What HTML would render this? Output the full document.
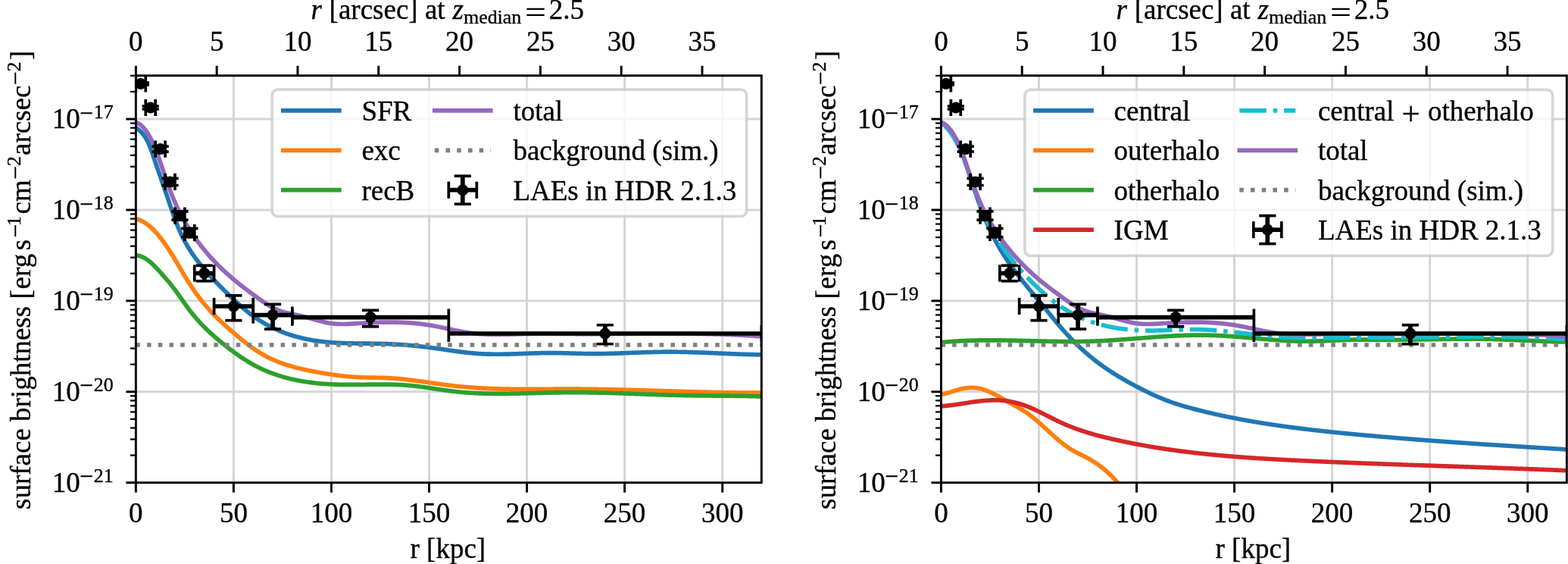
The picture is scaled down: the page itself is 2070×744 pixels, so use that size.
<!DOCTYPE html>
<html><head><meta charset="utf-8"><title>Surface brightness profiles</title><style>html,body{margin:0;padding:0;background:#fff;overflow:hidden}svg{display:block}text{stroke:#000;stroke-width:0.35px;stroke-linejoin:round}</style></head><body>
<svg width="2070" height="744" viewBox="0 0 2070 744" font-family='"Liberation Serif", "DejaVu Serif", serif'>
<rect width="100%" height="100%" fill="#ffffff"/>
<defs>
<clipPath id="clip0"><rect x="179.35" y="99.75" width="825.95" height="536.95"/></clipPath>
<clipPath id="clip1"><rect x="1242.4" y="99.75" width="825.95" height="536.95"/></clipPath>
</defs>
<g><line x1="308.40" y1="99.75" x2="308.40" y2="636.70" stroke="#d5d5d5" stroke-width="2.96" stroke-linecap="butt"/><line x1="437.46" y1="99.75" x2="437.46" y2="636.70" stroke="#d5d5d5" stroke-width="2.96" stroke-linecap="butt"/><line x1="566.51" y1="99.75" x2="566.51" y2="636.70" stroke="#d5d5d5" stroke-width="2.96" stroke-linecap="butt"/><line x1="695.57" y1="99.75" x2="695.57" y2="636.70" stroke="#d5d5d5" stroke-width="2.96" stroke-linecap="butt"/><line x1="824.62" y1="99.75" x2="824.62" y2="636.70" stroke="#d5d5d5" stroke-width="2.96" stroke-linecap="butt"/><line x1="953.68" y1="99.75" x2="953.68" y2="636.70" stroke="#d5d5d5" stroke-width="2.96" stroke-linecap="butt"/><line x1="179.35" y1="516.79" x2="1005.30" y2="516.79" stroke="#d5d5d5" stroke-width="2.96" stroke-linecap="butt"/><line x1="179.35" y1="396.88" x2="1005.30" y2="396.88" stroke="#d5d5d5" stroke-width="2.96" stroke-linecap="butt"/><line x1="179.35" y1="276.96" x2="1005.30" y2="276.96" stroke="#d5d5d5" stroke-width="2.96" stroke-linecap="butt"/><line x1="179.35" y1="157.05" x2="1005.30" y2="157.05" stroke="#d5d5d5" stroke-width="2.96" stroke-linecap="butt"/></g>
<g clip-path="url(#clip0)" fill="none" stroke-width="5.7" stroke-linejoin="round" stroke-linecap="square">
<path d="M180.34,169.27 L181.12,169.77 L181.87,170.29 L182.61,170.84 L183.33,171.40 L184.04,171.98 L184.72,172.58 L185.39,173.20 L186.05,173.84 L186.68,174.50 L187.31,175.17 L187.91,175.86 L188.51,176.56 L189.09,177.29 L189.65,178.02 L190.20,178.77 L190.74,179.54 L191.26,180.32 L191.77,181.11 L192.27,181.91 L192.76,182.73 L193.24,183.56 L193.71,184.40 L194.16,185.25 L194.61,186.11 L195.05,186.99 L195.47,187.87 L195.89,188.76 L196.30,189.66 L196.70,190.56 L197.10,191.48 L197.49,192.40 L197.87,193.33 L198.24,194.26 L198.61,195.20 L198.97,196.15 L199.32,197.10 L199.67,198.05 L200.02,199.01 L200.36,199.98 L200.70,200.94 L201.04,201.91 L201.37,202.88 L201.70,203.85 L202.03,204.82 L202.35,205.79 L202.67,206.76 L203.00,207.73 L203.32,208.70 L203.64,209.67 L203.96,210.64 L204.29,211.61 L204.61,212.57 L204.93,213.53 L205.25,214.49 L205.58,215.45 L205.90,216.40 L206.22,217.36 L206.55,218.31 L206.87,219.26 L207.20,220.21 L207.52,221.16 L207.85,222.10 L208.17,223.05 L208.49,223.99 L208.82,224.93 L209.14,225.87 L209.47,226.82 L209.80,227.75 L210.12,228.69 L210.45,229.63 L210.77,230.57 L211.10,231.50 L211.42,232.44 L211.75,233.37 L212.07,234.31 L212.40,235.24 L212.72,236.17 L213.05,237.11 L213.38,238.04 L213.70,238.97 L214.03,239.91 L214.35,240.84 L214.68,241.77 L215.00,242.70 L215.33,243.63 L215.65,244.57 L215.98,245.50 L216.30,246.43 L216.62,247.37 L216.95,248.30 L217.27,249.23 L217.60,250.17 L217.92,251.10 L218.24,252.04 L218.57,252.98 L218.89,253.91 L219.21,254.85 L219.53,255.79 L219.86,256.73 L220.18,257.67 L220.50,258.62 L220.82,259.56 L221.14,260.51 L221.46,261.45 L221.78,262.40 L222.10,263.35 L222.42,264.30 L222.74,265.25 L223.06,266.20 L223.38,267.15 L223.70,268.11 L224.02,269.06 L224.35,270.01 L224.67,270.97 L224.99,271.92 L225.32,272.88 L225.64,273.83 L225.97,274.79 L226.29,275.74 L226.62,276.70 L226.95,277.65 L227.28,278.61 L227.61,279.56 L227.94,280.52 L228.28,281.47 L228.62,282.43 L228.95,283.38 L229.29,284.33 L229.64,285.29 L229.98,286.24 L230.33,287.19 L230.67,288.14 L231.02,289.08 L231.38,290.03 L231.73,290.98 L232.09,291.92 L232.45,292.87 L232.81,293.81 L233.18,294.75 L233.55,295.69 L233.92,296.63 L234.30,297.56 L234.67,298.50 L235.05,299.43 L235.44,300.36 L235.83,301.29 L236.22,302.21 L236.61,303.14 L237.01,304.06 L237.41,304.98 L237.82,305.90 L238.23,306.81 L238.64,307.72 L239.06,308.63 L239.49,309.54 L239.91,310.44 L240.34,311.34 L240.78,312.24 L241.22,313.14 L241.66,314.03 L242.11,314.92 L242.57,315.80 L243.03,316.69 L243.49,317.57 L243.96,318.44 L244.43,319.31 L244.91,320.18 L245.40,321.05 L245.88,321.91 L246.38,322.77 L246.88,323.63 L247.38,324.48 L247.89,325.33 L248.40,326.17 L248.91,327.02 L249.43,327.86 L249.96,328.69 L250.49,329.53 L251.02,330.36 L251.56,331.19 L252.10,332.01 L252.65,332.84 L253.20,333.66 L253.76,334.47 L254.31,335.29 L254.88,336.10 L255.44,336.91 L256.01,337.71 L256.59,338.52 L257.16,339.32 L257.75,340.12 L258.33,340.91 L258.92,341.70 L259.51,342.50 L260.11,343.28 L260.71,344.07 L261.31,344.85 L261.92,345.63 L262.53,346.41 L263.14,347.19 L263.75,347.96 L264.37,348.74 L265.00,349.51 L265.62,350.27 L266.25,351.04 L266.88,351.80 L267.51,352.56 L268.15,353.32 L268.79,354.08 L269.43,354.84 L270.08,355.59 L270.72,356.34 L271.37,357.09 L272.03,357.84 L272.68,358.59 L273.34,359.33 L274.00,360.07 L274.66,360.82 L275.33,361.56 L275.99,362.29 L276.66,363.03 L277.33,363.76 L278.01,364.50 L278.68,365.23 L279.36,365.96 L280.04,366.69 L280.72,367.42 L281.40,368.14 L282.09,368.87 L282.78,369.59 L283.46,370.31 L284.15,371.03 L284.85,371.75 L285.54,372.47 L286.23,373.19 L286.93,373.91 L287.63,374.62 L288.32,375.34 L289.02,376.05 L289.73,376.76 L290.43,377.47 L291.13,378.18 L291.84,378.89 L292.54,379.60 L293.25,380.31 L293.96,381.02 L294.66,381.73 L295.37,382.43 L296.08,383.14 L296.79,383.84 L297.51,384.54 L298.22,385.25 L298.93,385.95 L299.64,386.65 L300.36,387.35 L301.07,388.06 L301.79,388.75 L302.51,389.45 L303.22,390.15 L303.94,390.85 L304.66,391.54 L305.38,392.24 L306.11,392.93 L306.83,393.62 L307.55,394.31 L308.28,395.00 L309.01,395.69 L309.74,396.37 L310.47,397.05 L311.20,397.73 L311.93,398.41 L312.67,399.09 L313.41,399.77 L314.15,400.44 L314.89,401.11 L315.63,401.78 L316.38,402.44 L317.12,403.11 L317.87,403.77 L318.63,404.42 L319.38,405.08 L320.14,405.73 L320.89,406.38 L321.66,407.03 L322.42,407.67 L323.18,408.31 L323.95,408.95 L324.72,409.58 L325.50,410.21 L326.28,410.84 L327.05,411.46 L327.84,412.09 L328.62,412.70 L329.41,413.31 L330.20,413.92 L331.00,414.53 L331.79,415.13 L332.60,415.73 L333.40,416.32 L334.21,416.91 L335.02,417.49 L335.83,418.07 L336.65,418.65 L337.47,419.22 L338.30,419.79 L339.13,420.35 L339.96,420.91 L340.80,421.46 L341.64,422.01 L342.48,422.55 L343.33,423.09 L344.18,423.62 L345.03,424.15 L345.89,424.68 L346.75,425.19 L347.62,425.71 L348.48,426.22 L349.36,426.72 L350.23,427.22 L351.11,427.71 L351.99,428.20 L352.87,428.69 L353.76,429.17 L354.65,429.64 L355.54,430.11 L356.43,430.57 L357.33,431.03 L358.23,431.49 L359.14,431.93 L360.04,432.38 L360.95,432.82 L361.86,433.25 L362.77,433.68 L363.68,434.10 L364.60,434.52 L365.52,434.93 L366.44,435.34 L367.36,435.74 L368.29,436.14 L369.21,436.53 L370.14,436.92 L371.07,437.30 L372.00,437.67 L372.94,438.04 L373.87,438.41 L374.81,438.77 L375.75,439.12 L376.69,439.47 L377.63,439.81 L378.57,440.15 L379.51,440.49 L380.46,440.81 L381.40,441.13 L382.35,441.45 L383.29,441.76 L384.24,442.07 L385.19,442.37 L386.14,442.66 L387.09,442.95 L388.04,443.24 L389.00,443.51 L389.95,443.79 L390.90,444.06 L391.86,444.32 L392.81,444.58 L393.77,444.83 L394.73,445.08 L395.69,445.32 L396.65,445.56 L397.61,445.79 L398.57,446.02 L399.53,446.25 L400.49,446.47 L401.45,446.68 L402.42,446.89 L403.38,447.09 L404.35,447.30 L405.31,447.49 L406.28,447.68 L407.25,447.87 L408.21,448.06 L409.18,448.23 L410.15,448.41 L411.12,448.58 L412.09,448.75 L413.06,448.91 L414.03,449.07 L415.01,449.22 L415.98,449.37 L416.95,449.52 L417.93,449.66 L418.90,449.80 L419.88,449.93 L420.86,450.06 L421.83,450.19 L422.81,450.32 L423.79,450.44 L424.77,450.55 L425.75,450.67 L426.73,450.78 L427.71,450.88 L428.69,450.99 L429.67,451.09 L430.65,451.18 L431.64,451.28 L432.62,451.37 L433.60,451.45 L434.59,451.54 L435.57,451.62 L436.56,451.70 L437.54,451.77 L438.53,451.84 L439.52,451.91 L440.50,451.98 L441.49,452.04 L442.48,452.10 L443.47,452.16 L444.46,452.22 L445.44,452.27 L446.43,452.33 L447.42,452.38 L448.42,452.42 L449.41,452.47 L450.40,452.51 L451.39,452.55 L452.38,452.59 L453.37,452.63 L454.37,452.66 L455.36,452.70 L456.35,452.73 L457.35,452.76 L458.34,452.79 L459.34,452.81 L460.33,452.84 L461.33,452.86 L462.32,452.89 L463.32,452.91 L464.31,452.93 L465.31,452.95 L466.31,452.97 L467.30,452.98 L468.30,453.00 L469.30,453.02 L470.30,453.03 L471.29,453.04 L472.29,453.06 L473.29,453.07 L474.29,453.08 L475.29,453.09 L476.29,453.10 L477.29,453.11 L478.29,453.12 L479.29,453.13 L480.29,453.14 L481.29,453.15 L482.29,453.16 L483.29,453.17 L484.29,453.18 L485.29,453.19 L486.29,453.20 L487.29,453.21 L488.29,453.22 L489.29,453.23 L490.29,453.24 L491.29,453.26 L492.29,453.27 L493.30,453.28 L494.30,453.29 L495.30,453.31 L496.30,453.32 L497.30,453.34 L498.30,453.36 L499.31,453.37 L500.31,453.39 L501.31,453.41 L502.31,453.43 L503.31,453.46 L504.32,453.48 L505.32,453.51 L506.32,453.53 L507.32,453.56 L508.32,453.59 L509.33,453.62 L510.33,453.66 L511.33,453.69 L512.33,453.73 L513.33,453.77 L514.33,453.81 L515.33,453.85 L516.34,453.89 L517.34,453.94 L518.34,453.99 L519.34,454.04 L520.34,454.09 L521.34,454.14 L522.34,454.20 L523.34,454.25 L524.35,454.31 L525.35,454.37 L526.35,454.43 L527.35,454.50 L528.35,454.56 L529.35,454.63 L530.35,454.70 L531.35,454.77 L532.35,454.84 L533.35,454.92 L534.35,454.99 L535.35,455.07 L536.35,455.15 L537.35,455.23 L538.35,455.32 L539.35,455.40 L540.35,455.49 L541.35,455.57 L542.35,455.66 L543.35,455.76 L544.35,455.85 L545.35,455.94 L546.35,456.04 L547.35,456.14 L548.35,456.24 L549.35,456.34 L550.35,456.44 L551.35,456.54 L552.35,456.65 L553.35,456.76 L554.35,456.87 L555.35,456.98 L556.35,457.09 L557.35,457.20 L558.35,457.32 L559.35,457.43 L560.34,457.55 L561.34,457.67 L562.34,457.79 L563.34,457.91 L564.34,458.04 L565.34,458.16 L566.34,458.29 L567.34,458.42 L568.34,458.55 L569.33,458.68 L570.33,458.81 L571.33,458.95 L572.33,459.08 L573.33,459.22 L574.33,459.36 L575.33,459.50 L576.32,459.64 L577.32,459.78 L578.32,459.92 L579.32,460.07 L580.32,460.21 L581.32,460.35 L582.31,460.50 L583.31,460.64 L584.31,460.79 L585.31,460.94 L586.31,461.08 L587.30,461.23 L588.30,461.37 L589.30,461.52 L590.30,461.67 L591.29,461.81 L592.29,461.96 L593.29,462.10 L594.29,462.25 L595.29,462.39 L596.28,462.53 L597.28,462.68 L598.28,462.82 L599.28,462.96 L600.27,463.10 L601.27,463.24 L602.27,463.38 L603.27,463.51 L604.26,463.65 L605.26,463.78 L606.26,463.92 L607.25,464.05 L608.25,464.18 L609.25,464.30 L610.25,464.43 L611.24,464.55 L612.24,464.67 L613.24,464.79 L614.23,464.91 L615.23,465.03 L616.23,465.14 L617.22,465.25 L618.22,465.36 L619.22,465.46 L620.22,465.57 L621.21,465.67 L622.21,465.76 L623.21,465.86 L624.20,465.95 L625.20,466.04 L626.20,466.12 L627.19,466.21 L628.19,466.28 L629.19,466.36 L630.18,466.43 L631.18,466.50 L632.17,466.57 L633.17,466.63 L634.17,466.69 L635.16,466.74 L636.16,466.79 L637.16,466.84 L638.15,466.89 L639.15,466.93 L640.15,466.97 L641.14,467.01 L642.14,467.05 L643.13,467.08 L644.13,467.11 L645.13,467.13 L646.12,467.16 L647.12,467.18 L648.11,467.20 L649.11,467.22 L650.11,467.23 L651.10,467.24 L652.10,467.25 L653.09,467.26 L654.09,467.27 L655.09,467.27 L656.08,467.27 L657.08,467.27 L658.07,467.27 L659.07,467.26 L660.07,467.26 L661.06,467.25 L662.06,467.24 L663.05,467.23 L664.05,467.22 L665.04,467.20 L666.04,467.19 L667.04,467.17 L668.03,467.15 L669.03,467.13 L670.02,467.11 L671.02,467.09 L672.01,467.06 L673.01,467.04 L674.01,467.01 L675.00,466.99 L676.00,466.96 L676.99,466.93 L677.99,466.90 L678.98,466.87 L679.98,466.84 L680.97,466.81 L681.97,466.78 L682.97,466.74 L683.96,466.71 L684.96,466.68 L685.95,466.64 L686.95,466.61 L687.94,466.57 L688.94,466.54 L689.93,466.50 L690.93,466.47 L691.92,466.43 L692.92,466.40 L693.92,466.36 L694.91,466.33 L695.91,466.29 L696.90,466.26 L697.90,466.22 L698.89,466.19 L699.89,466.15 L700.88,466.12 L701.88,466.09 L702.87,466.05 L703.87,466.02 L704.86,465.99 L705.86,465.96 L706.86,465.93 L707.85,465.90 L708.85,465.87 L709.84,465.85 L710.84,465.82 L711.83,465.79 L712.83,465.77 L713.82,465.75 L714.82,465.72 L715.81,465.70 L716.81,465.68 L717.80,465.67 L718.80,465.65 L719.79,465.63 L720.79,465.62 L721.78,465.61 L722.78,465.60 L723.77,465.59 L724.77,465.58 L725.77,465.58 L726.76,465.57 L727.76,465.57 L728.75,465.57 L729.75,465.57 L730.74,465.58 L731.74,465.58 L732.73,465.59 L733.73,465.60 L734.72,465.61 L735.72,465.62 L736.71,465.64 L737.71,465.65 L738.70,465.67 L739.70,465.69 L740.69,465.71 L741.69,465.73 L742.69,465.75 L743.68,465.78 L744.68,465.80 L745.67,465.82 L746.67,465.85 L747.66,465.88 L748.66,465.90 L749.65,465.93 L750.65,465.96 L751.64,465.99 L752.64,466.01 L753.63,466.04 L754.63,466.07 L755.62,466.10 L756.62,466.13 L757.62,466.16 L758.61,466.19 L759.61,466.22 L760.60,466.25 L761.60,466.27 L762.59,466.30 L763.59,466.33 L764.58,466.35 L765.58,466.38 L766.57,466.41 L767.57,466.43 L768.57,466.45 L769.56,466.48 L770.56,466.50 L771.55,466.52 L772.55,466.54 L773.54,466.56 L774.54,466.57 L775.54,466.59 L776.53,466.60 L777.53,466.62 L778.52,466.63 L779.52,466.64 L780.51,466.64 L781.51,466.65 L782.51,466.65 L783.50,466.66 L784.50,466.66 L785.49,466.66 L786.49,466.65 L787.48,466.65 L788.48,466.64 L789.48,466.64 L790.47,466.63 L791.47,466.62 L792.46,466.61 L793.46,466.60 L794.46,466.59 L795.45,466.57 L796.45,466.56 L797.44,466.54 L798.44,466.52 L799.44,466.50 L800.43,466.48 L801.43,466.46 L802.42,466.44 L803.42,466.42 L804.42,466.39 L805.41,466.37 L806.41,466.34 L807.41,466.32 L808.40,466.29 L809.40,466.26 L810.39,466.23 L811.39,466.20 L812.39,466.17 L813.38,466.14 L814.38,466.11 L815.38,466.08 L816.37,466.04 L817.37,466.01 L818.37,465.98 L819.36,465.94 L820.36,465.91 L821.36,465.87 L822.35,465.84 L823.35,465.80 L824.35,465.76 L825.34,465.73 L826.34,465.69 L827.34,465.65 L828.33,465.62 L829.33,465.58 L830.33,465.54 L831.32,465.50 L832.32,465.47 L833.32,465.43 L834.32,465.39 L835.31,465.35 L836.31,465.31 L837.31,465.28 L838.30,465.24 L839.30,465.20 L840.30,465.16 L841.30,465.13 L842.29,465.09 L843.29,465.05 L844.29,465.02 L845.28,464.98 L846.28,464.95 L847.28,464.91 L848.28,464.88 L849.27,464.84 L850.27,464.81 L851.27,464.77 L852.27,464.74 L853.27,464.71 L854.26,464.68 L855.26,464.65 L856.26,464.62 L857.26,464.59 L858.25,464.56 L859.25,464.53 L860.25,464.50 L861.25,464.48 L862.25,464.45 L863.24,464.43 L864.24,464.40 L865.24,464.38 L866.24,464.36 L867.24,464.34 L868.24,464.32 L869.23,464.30 L870.23,464.28 L871.23,464.26 L872.23,464.25 L873.23,464.23 L874.23,464.22 L875.22,464.21 L876.22,464.20 L877.22,464.19 L878.22,464.18 L879.22,464.18 L880.22,464.17 L881.22,464.17 L882.22,464.16 L883.21,464.16 L884.21,464.16 L885.21,464.17 L886.21,464.17 L887.21,464.17 L888.21,464.18 L889.21,464.19 L890.21,464.19 L891.21,464.20 L892.21,464.21 L893.21,464.22 L894.21,464.24 L895.21,464.25 L896.20,464.27 L897.20,464.28 L898.20,464.30 L899.20,464.32 L900.20,464.33 L901.20,464.35 L902.20,464.37 L903.20,464.40 L904.20,464.42 L905.20,464.44 L906.20,464.47 L907.20,464.49 L908.20,464.52 L909.20,464.54 L910.20,464.57 L911.20,464.60 L912.20,464.63 L913.21,464.66 L914.21,464.69 L915.21,464.72 L916.21,464.75 L917.21,464.79 L918.21,464.82 L919.21,464.85 L920.21,464.89 L921.21,464.92 L922.21,464.96 L923.21,465.00 L924.21,465.03 L925.21,465.07 L926.22,465.11 L927.22,465.14 L928.22,465.18 L929.22,465.22 L930.22,465.26 L931.22,465.30 L932.22,465.34 L933.23,465.38 L934.23,465.42 L935.23,465.46 L936.23,465.51 L937.23,465.55 L938.23,465.59 L939.24,465.63 L940.24,465.67 L941.24,465.72 L942.24,465.76 L943.24,465.80 L944.25,465.84 L945.25,465.89 L946.25,465.93 L947.25,465.97 L948.26,466.02 L949.26,466.06 L950.26,466.10 L951.26,466.15 L952.27,466.19 L953.27,466.23 L954.27,466.27 L955.28,466.32 L956.28,466.36 L957.28,466.40 L958.29,466.45 L959.29,466.49 L960.29,466.53 L961.30,466.57 L962.30,466.61 L963.30,466.65 L964.31,466.70 L965.31,466.74 L966.31,466.78 L967.32,466.82 L968.32,466.86 L969.32,466.90 L970.33,466.94 L971.33,466.97 L972.34,467.01 L973.34,467.05 L974.35,467.09 L975.35,467.12 L976.35,467.16 L977.36,467.20 L978.36,467.23 L979.37,467.26 L980.37,467.30 L981.38,467.33 L982.38,467.36 L983.39,467.40 L984.39,467.43 L985.40,467.46 L986.40,467.49 L987.41,467.52 L988.41,467.55 L989.42,467.57 L990.42,467.60 L991.43,467.63 L992.44,467.65 L993.44,467.68 L994.45,467.70 L995.45,467.72 L996.46,467.74 L997.46,467.76 L998.47,467.78 L999.48,467.80 L1000.48,467.82 L1001.49,467.84 L1002.50,467.85 L1003.50,467.87 L1004.51,467.88 L1005.52,467.89" stroke="#1f77b4"/>
<path d="M180.15,288.88 L181.04,289.13 L181.93,289.41 L182.81,289.70 L183.68,290.02 L184.54,290.36 L185.39,290.72 L186.24,291.10 L187.08,291.50 L187.91,291.92 L188.73,292.35 L189.54,292.81 L190.35,293.28 L191.15,293.77 L191.94,294.27 L192.73,294.79 L193.50,295.33 L194.28,295.88 L195.04,296.45 L195.80,297.03 L196.55,297.63 L197.29,298.24 L198.03,298.86 L198.76,299.50 L199.48,300.14 L200.20,300.80 L200.91,301.47 L201.62,302.16 L202.32,302.85 L203.01,303.55 L203.70,304.26 L204.39,304.99 L205.06,305.72 L205.73,306.45 L206.40,307.20 L207.06,307.95 L207.72,308.72 L208.37,309.48 L209.01,310.26 L209.65,311.04 L210.29,311.82 L210.92,312.61 L211.54,313.40 L212.17,314.20 L212.78,315.00 L213.40,315.81 L214.01,316.61 L214.61,317.42 L215.21,318.24 L215.81,319.05 L216.40,319.87 L216.99,320.70 L217.57,321.52 L218.15,322.35 L218.73,323.18 L219.31,324.01 L219.88,324.85 L220.44,325.68 L221.01,326.52 L221.57,327.36 L222.13,328.21 L222.68,329.05 L223.24,329.90 L223.79,330.75 L224.34,331.60 L224.88,332.46 L225.42,333.31 L225.96,334.17 L226.50,335.03 L227.04,335.88 L227.57,336.75 L228.10,337.61 L228.64,338.47 L229.16,339.33 L229.69,340.20 L230.22,341.07 L230.74,341.93 L231.26,342.80 L231.79,343.67 L232.31,344.54 L232.83,345.41 L233.34,346.28 L233.86,347.15 L234.38,348.02 L234.89,348.89 L235.41,349.77 L235.92,350.64 L236.44,351.51 L236.95,352.38 L237.47,353.25 L237.98,354.13 L238.50,355.00 L239.01,355.87 L239.52,356.74 L240.04,357.61 L240.55,358.48 L241.07,359.35 L241.58,360.22 L242.10,361.08 L242.62,361.95 L243.14,362.82 L243.65,363.68 L244.17,364.54 L244.70,365.41 L245.22,366.27 L245.74,367.13 L246.27,367.99 L246.79,368.84 L247.32,369.70 L247.85,370.55 L248.38,371.41 L248.92,372.26 L249.45,373.10 L249.99,373.95 L250.53,374.80 L251.07,375.64 L251.61,376.48 L252.16,377.32 L252.71,378.15 L253.26,378.99 L253.82,379.82 L254.37,380.65 L254.93,381.47 L255.50,382.30 L256.06,383.12 L256.63,383.94 L257.20,384.75 L257.78,385.56 L258.36,386.37 L258.94,387.18 L259.52,387.98 L260.11,388.79 L260.69,389.59 L261.29,390.38 L261.88,391.18 L262.48,391.97 L263.08,392.75 L263.68,393.54 L264.29,394.32 L264.90,395.10 L265.51,395.88 L266.12,396.65 L266.74,397.42 L267.36,398.19 L267.98,398.95 L268.61,399.72 L269.24,400.47 L269.87,401.23 L270.50,401.98 L271.14,402.73 L271.77,403.48 L272.42,404.22 L273.06,404.97 L273.71,405.70 L274.35,406.44 L275.01,407.17 L275.66,407.90 L276.32,408.62 L276.98,409.35 L277.64,410.07 L278.30,410.78 L278.97,411.50 L279.64,412.21 L280.31,412.91 L280.99,413.62 L281.66,414.32 L282.34,415.02 L283.03,415.71 L283.71,416.40 L284.40,417.09 L285.09,417.78 L285.78,418.46 L286.47,419.15 L287.17,419.83 L287.87,420.50 L288.57,421.18 L289.28,421.85 L289.98,422.53 L290.69,423.20 L291.40,423.87 L292.12,424.53 L292.83,425.20 L293.55,425.86 L294.27,426.53 L294.99,427.19 L295.72,427.85 L296.44,428.51 L297.17,429.17 L297.91,429.83 L298.64,430.49 L299.38,431.15 L300.11,431.81 L300.86,432.46 L301.60,433.12 L302.34,433.78 L303.09,434.43 L303.84,435.09 L304.59,435.75 L305.35,436.41 L306.10,437.06 L306.86,437.72 L307.62,438.38 L308.38,439.04 L309.15,439.70 L309.91,440.36 L310.68,441.01 L311.45,441.67 L312.23,442.33 L313.00,442.98 L313.78,443.64 L314.56,444.29 L315.34,444.94 L316.12,445.59 L316.91,446.24 L317.70,446.89 L318.49,447.54 L319.28,448.18 L320.08,448.82 L320.88,449.46 L321.68,450.10 L322.48,450.74 L323.28,451.37 L324.09,452.00 L324.90,452.63 L325.71,453.25 L326.52,453.87 L327.34,454.49 L328.16,455.11 L328.98,455.72 L329.80,456.33 L330.63,456.93 L331.45,457.53 L332.28,458.13 L333.11,458.72 L333.95,459.31 L334.79,459.89 L335.62,460.47 L336.47,461.05 L337.31,461.62 L338.16,462.18 L339.00,462.74 L339.86,463.30 L340.71,463.85 L341.56,464.39 L342.42,464.93 L343.28,465.46 L344.15,465.99 L345.01,466.51 L345.88,467.03 L346.75,467.54 L347.62,468.04 L348.50,468.54 L349.37,469.03 L350.25,469.51 L351.14,469.99 L352.02,470.45 L352.91,470.92 L353.80,471.37 L354.69,471.82 L355.58,472.26 L356.48,472.70 L357.38,473.13 L358.28,473.55 L359.18,473.96 L360.09,474.37 L361.00,474.78 L361.91,475.17 L362.82,475.56 L363.73,475.95 L364.65,476.33 L365.56,476.70 L366.48,477.07 L367.41,477.43 L368.33,477.79 L369.26,478.14 L370.18,478.49 L371.11,478.83 L372.04,479.16 L372.98,479.49 L373.91,479.82 L374.85,480.14 L375.78,480.45 L376.72,480.76 L377.66,481.07 L378.60,481.37 L379.55,481.67 L380.49,481.96 L381.44,482.25 L382.39,482.53 L383.34,482.81 L384.29,483.08 L385.24,483.35 L386.19,483.62 L387.15,483.89 L388.10,484.14 L389.06,484.40 L390.02,484.65 L390.98,484.90 L391.94,485.15 L392.90,485.39 L393.86,485.63 L394.83,485.86 L395.79,486.09 L396.76,486.32 L397.72,486.55 L398.69,486.77 L399.66,486.99 L400.62,487.21 L401.59,487.43 L402.56,487.64 L403.53,487.85 L404.51,488.06 L405.48,488.26 L406.45,488.46 L407.42,488.67 L408.40,488.86 L409.37,489.06 L410.35,489.26 L411.32,489.45 L412.30,489.64 L413.27,489.83 L414.25,490.02 L415.23,490.21 L416.20,490.39 L417.18,490.58 L418.16,490.76 L419.14,490.94 L420.11,491.12 L421.09,491.30 L422.07,491.47 L423.05,491.65 L424.03,491.82 L425.01,491.99 L425.99,492.16 L426.97,492.33 L427.95,492.50 L428.93,492.66 L429.91,492.83 L430.89,492.99 L431.87,493.15 L432.85,493.30 L433.83,493.46 L434.81,493.61 L435.80,493.76 L436.78,493.91 L437.76,494.06 L438.74,494.20 L439.73,494.34 L440.71,494.48 L441.69,494.62 L442.68,494.76 L443.66,494.89 L444.65,495.02 L445.63,495.15 L446.62,495.28 L447.60,495.40 L448.59,495.52 L449.57,495.64 L450.56,495.76 L451.54,495.87 L452.53,495.98 L453.52,496.09 L454.50,496.20 L455.49,496.30 L456.48,496.40 L457.46,496.50 L458.45,496.59 L459.44,496.69 L460.43,496.77 L461.41,496.86 L462.40,496.94 L463.39,497.02 L464.38,497.10 L465.37,497.18 L466.36,497.25 L467.35,497.32 L468.33,497.38 L469.32,497.44 L470.31,497.50 L471.30,497.56 L472.29,497.61 L473.28,497.66 L474.27,497.71 L475.26,497.75 L476.26,497.79 L477.25,497.83 L478.24,497.86 L479.23,497.89 L480.22,497.92 L481.21,497.95 L482.20,497.97 L483.20,498.00 L484.19,498.02 L485.18,498.04 L486.17,498.06 L487.16,498.08 L488.16,498.09 L489.15,498.11 L490.14,498.12 L491.14,498.14 L492.13,498.15 L493.12,498.17 L494.12,498.18 L495.11,498.20 L496.10,498.21 L497.10,498.23 L498.09,498.25 L499.09,498.26 L500.08,498.28 L501.08,498.30 L502.07,498.32 L503.07,498.35 L504.06,498.37 L505.06,498.40 L506.05,498.43 L507.05,498.46 L508.04,498.49 L509.04,498.53 L510.03,498.57 L511.03,498.61 L512.03,498.66 L513.02,498.71 L514.02,498.76 L515.01,498.81 L516.01,498.87 L517.01,498.93 L518.00,499.00 L519.00,499.07 L520.00,499.14 L520.99,499.21 L521.99,499.29 L522.99,499.37 L523.99,499.45 L524.98,499.54 L525.98,499.62 L526.98,499.71 L527.98,499.81 L528.97,499.90 L529.97,500.00 L530.97,500.10 L531.97,500.20 L532.96,500.31 L533.96,500.41 L534.96,500.52 L535.96,500.63 L536.96,500.74 L537.96,500.86 L538.95,500.97 L539.95,501.09 L540.95,501.21 L541.95,501.33 L542.95,501.45 L543.95,501.58 L544.95,501.70 L545.94,501.83 L546.94,501.96 L547.94,502.09 L548.94,502.22 L549.94,502.35 L550.94,502.48 L551.94,502.62 L552.94,502.75 L553.94,502.89 L554.94,503.03 L555.94,503.16 L556.93,503.30 L557.93,503.44 L558.93,503.58 L559.93,503.72 L560.93,503.86 L561.93,504.00 L562.93,504.15 L563.93,504.29 L564.93,504.43 L565.93,504.57 L566.93,504.71 L567.93,504.86 L568.93,505.00 L569.93,505.14 L570.93,505.28 L571.93,505.43 L572.93,505.57 L573.93,505.71 L574.93,505.85 L575.93,505.99 L576.93,506.13 L577.93,506.27 L578.93,506.41 L579.93,506.55 L580.93,506.69 L581.92,506.83 L582.92,506.96 L583.92,507.10 L584.92,507.23 L585.92,507.37 L586.92,507.50 L587.92,507.63 L588.92,507.76 L589.92,507.89 L590.92,508.02 L591.92,508.14 L592.92,508.27 L593.92,508.39 L594.92,508.51 L595.92,508.63 L596.92,508.75 L597.92,508.87 L598.92,508.98 L599.92,509.09 L600.92,509.21 L601.91,509.32 L602.91,509.42 L603.91,509.53 L604.91,509.63 L605.91,509.73 L606.91,509.83 L607.91,509.93 L608.91,510.03 L609.91,510.12 L610.91,510.22 L611.91,510.31 L612.90,510.40 L613.90,510.48 L614.90,510.57 L615.90,510.66 L616.90,510.74 L617.90,510.82 L618.90,510.90 L619.90,510.98 L620.89,511.05 L621.89,511.13 L622.89,511.20 L623.89,511.27 L624.89,511.34 L625.89,511.41 L626.88,511.48 L627.88,511.54 L628.88,511.61 L629.88,511.67 L630.88,511.73 L631.88,511.79 L632.87,511.85 L633.87,511.91 L634.87,511.96 L635.87,512.02 L636.87,512.07 L637.86,512.12 L638.86,512.17 L639.86,512.22 L640.86,512.27 L641.86,512.32 L642.85,512.36 L643.85,512.41 L644.85,512.45 L645.85,512.49 L646.85,512.53 L647.84,512.57 L648.84,512.61 L649.84,512.64 L650.84,512.68 L651.83,512.72 L652.83,512.75 L653.83,512.78 L654.83,512.81 L655.83,512.84 L656.82,512.87 L657.82,512.90 L658.82,512.93 L659.82,512.95 L660.81,512.98 L661.81,513.00 L662.81,513.03 L663.81,513.05 L664.80,513.07 L665.80,513.09 L666.80,513.11 L667.79,513.13 L668.79,513.15 L669.79,513.17 L670.79,513.18 L671.78,513.20 L672.78,513.21 L673.78,513.23 L674.78,513.24 L675.77,513.25 L676.77,513.26 L677.77,513.27 L678.76,513.28 L679.76,513.29 L680.76,513.30 L681.76,513.31 L682.75,513.32 L683.75,513.33 L684.75,513.33 L685.74,513.34 L686.74,513.34 L687.74,513.35 L688.73,513.35 L689.73,513.36 L690.73,513.36 L691.73,513.36 L692.72,513.36 L693.72,513.36 L694.72,513.37 L695.71,513.37 L696.71,513.37 L697.71,513.37 L698.70,513.37 L699.70,513.36 L700.70,513.36 L701.69,513.36 L702.69,513.36 L703.69,513.36 L704.68,513.35 L705.68,513.35 L706.68,513.35 L707.67,513.34 L708.67,513.34 L709.67,513.34 L710.67,513.33 L711.66,513.33 L712.66,513.32 L713.66,513.32 L714.65,513.31 L715.65,513.31 L716.65,513.30 L717.64,513.30 L718.64,513.29 L719.64,513.29 L720.63,513.28 L721.63,513.28 L722.63,513.27 L723.62,513.27 L724.62,513.26 L725.62,513.25 L726.61,513.25 L727.61,513.24 L728.60,513.24 L729.60,513.23 L730.60,513.23 L731.59,513.22 L732.59,513.22 L733.59,513.21 L734.58,513.21 L735.58,513.20 L736.58,513.20 L737.57,513.19 L738.57,513.19 L739.57,513.19 L740.56,513.18 L741.56,513.18 L742.56,513.18 L743.55,513.17 L744.55,513.17 L745.55,513.17 L746.54,513.17 L747.54,513.17 L748.54,513.16 L749.53,513.16 L750.53,513.16 L751.53,513.16 L752.52,513.16 L753.52,513.16 L754.52,513.17 L755.51,513.17 L756.51,513.17 L757.51,513.17 L758.50,513.18 L759.50,513.18 L760.50,513.18 L761.49,513.19 L762.49,513.19 L763.49,513.20 L764.48,513.21 L765.48,513.21 L766.48,513.22 L767.47,513.23 L768.47,513.23 L769.47,513.24 L770.46,513.25 L771.46,513.26 L772.46,513.27 L773.45,513.28 L774.45,513.29 L775.45,513.30 L776.44,513.31 L777.44,513.32 L778.44,513.33 L779.43,513.34 L780.43,513.35 L781.43,513.37 L782.42,513.38 L783.42,513.39 L784.42,513.41 L785.41,513.42 L786.41,513.44 L787.41,513.45 L788.40,513.46 L789.40,513.48 L790.40,513.50 L791.40,513.51 L792.39,513.53 L793.39,513.54 L794.39,513.56 L795.38,513.58 L796.38,513.60 L797.38,513.61 L798.37,513.63 L799.37,513.65 L800.37,513.67 L801.36,513.69 L802.36,513.71 L803.36,513.73 L804.36,513.75 L805.35,513.77 L806.35,513.79 L807.35,513.81 L808.34,513.83 L809.34,513.85 L810.34,513.87 L811.34,513.90 L812.33,513.92 L813.33,513.94 L814.33,513.96 L815.33,513.98 L816.32,514.01 L817.32,514.03 L818.32,514.05 L819.31,514.08 L820.31,514.10 L821.31,514.13 L822.31,514.15 L823.30,514.17 L824.30,514.20 L825.30,514.22 L826.30,514.25 L827.29,514.27 L828.29,514.30 L829.29,514.33 L830.29,514.35 L831.28,514.38 L832.28,514.40 L833.28,514.43 L834.28,514.46 L835.27,514.48 L836.27,514.51 L837.27,514.54 L838.27,514.56 L839.27,514.59 L840.26,514.62 L841.26,514.65 L842.26,514.67 L843.26,514.70 L844.26,514.73 L845.25,514.76 L846.25,514.79 L847.25,514.81 L848.25,514.84 L849.25,514.87 L850.24,514.90 L851.24,514.93 L852.24,514.96 L853.24,514.99 L854.24,515.02 L855.23,515.04 L856.23,515.07 L857.23,515.10 L858.23,515.13 L859.23,515.16 L860.23,515.19 L861.22,515.22 L862.22,515.25 L863.22,515.28 L864.22,515.31 L865.22,515.34 L866.22,515.37 L867.22,515.40 L868.21,515.43 L869.21,515.46 L870.21,515.49 L871.21,515.52 L872.21,515.55 L873.21,515.58 L874.21,515.61 L875.21,515.64 L876.21,515.67 L877.20,515.70 L878.20,515.73 L879.20,515.76 L880.20,515.79 L881.20,515.82 L882.20,515.85 L883.20,515.88 L884.20,515.91 L885.20,515.94 L886.20,515.97 L887.20,516.00 L888.20,516.03 L889.19,516.06 L890.19,516.09 L891.19,516.12 L892.19,516.15 L893.19,516.18 L894.19,516.21 L895.19,516.24 L896.19,516.27 L897.19,516.29 L898.19,516.32 L899.19,516.35 L900.19,516.38 L901.19,516.41 L902.19,516.44 L903.19,516.47 L904.19,516.50 L905.19,516.53 L906.19,516.55 L907.19,516.58 L908.19,516.61 L909.19,516.64 L910.19,516.67 L911.19,516.69 L912.19,516.72 L913.19,516.75 L914.19,516.78 L915.19,516.81 L916.19,516.83 L917.19,516.86 L918.20,516.89 L919.20,516.91 L920.20,516.94 L921.20,516.97 L922.20,516.99 L923.20,517.02 L924.20,517.04 L925.20,517.07 L926.20,517.10 L927.20,517.12 L928.20,517.15 L929.21,517.17 L930.21,517.20 L931.21,517.22 L932.21,517.24 L933.21,517.27 L934.21,517.29 L935.21,517.32 L936.21,517.34 L937.22,517.36 L938.22,517.39 L939.22,517.41 L940.22,517.43 L941.22,517.45 L942.23,517.48 L943.23,517.50 L944.23,517.52 L945.23,517.54 L946.23,517.56 L947.24,517.58 L948.24,517.60 L949.24,517.62 L950.24,517.64 L951.24,517.66 L952.25,517.68 L953.25,517.70 L954.25,517.72 L955.25,517.74 L956.26,517.76 L957.26,517.78 L958.26,517.79 L959.26,517.81 L960.27,517.83 L961.27,517.85 L962.27,517.86 L963.28,517.88 L964.28,517.89 L965.28,517.91 L966.29,517.93 L967.29,517.94 L968.29,517.96 L969.30,517.97 L970.30,517.98 L971.30,518.00 L972.31,518.01 L973.31,518.02 L974.31,518.03 L975.32,518.05 L976.32,518.06 L977.32,518.07 L978.33,518.08 L979.33,518.09 L980.34,518.10 L981.34,518.11 L982.34,518.12 L983.35,518.13 L984.35,518.14 L985.36,518.15 L986.36,518.15 L987.37,518.16 L988.37,518.17 L989.37,518.17 L990.38,518.18 L991.38,518.19 L992.39,518.19 L993.39,518.20 L994.40,518.20 L995.40,518.21 L996.41,518.21 L997.41,518.21 L998.42,518.21 L999.42,518.22 L1000.43,518.22 L1001.43,518.22 L1002.44,518.22 L1003.45,518.22 L1004.45,518.22 L1005.46,518.22" stroke="#ff7f0e"/>
<path d="M179.93,336.80 L180.86,336.92 L181.77,337.06 L182.68,337.24 L183.58,337.46 L184.47,337.71 L185.35,337.98 L186.22,338.29 L187.09,338.63 L187.95,338.99 L188.80,339.38 L189.65,339.80 L190.49,340.24 L191.32,340.71 L192.14,341.20 L192.96,341.71 L193.77,342.25 L194.57,342.80 L195.37,343.38 L196.16,343.97 L196.94,344.58 L197.72,345.21 L198.49,345.85 L199.25,346.51 L200.01,347.18 L200.77,347.86 L201.51,348.55 L202.25,349.26 L202.99,349.98 L203.72,350.70 L204.44,351.43 L205.16,352.17 L205.88,352.92 L206.59,353.66 L207.29,354.42 L207.99,355.18 L208.69,355.93 L209.38,356.69 L210.06,357.45 L210.74,358.21 L211.42,358.97 L212.09,359.72 L212.76,360.48 L213.43,361.22 L214.09,361.96 L214.74,362.70 L215.40,363.44 L216.04,364.17 L216.69,364.91 L217.33,365.63 L217.97,366.36 L218.61,367.09 L219.24,367.82 L219.87,368.54 L220.49,369.27 L221.12,370.00 L221.74,370.73 L222.36,371.46 L222.97,372.19 L223.59,372.92 L224.20,373.66 L224.81,374.40 L225.42,375.15 L226.02,375.89 L226.62,376.65 L227.22,377.40 L227.82,378.16 L228.42,378.93 L229.02,379.71 L229.61,380.49 L230.21,381.27 L230.80,382.06 L231.39,382.86 L231.98,383.66 L232.58,384.47 L233.16,385.28 L233.75,386.09 L234.34,386.91 L234.93,387.73 L235.52,388.56 L236.10,389.38 L236.69,390.21 L237.28,391.05 L237.87,391.88 L238.45,392.72 L239.04,393.55 L239.63,394.39 L240.22,395.23 L240.81,396.07 L241.40,396.91 L241.99,397.75 L242.58,398.59 L243.17,399.43 L243.77,400.27 L244.36,401.11 L244.96,401.94 L245.55,402.78 L246.15,403.61 L246.75,404.44 L247.36,405.27 L247.96,406.09 L248.57,406.91 L249.18,407.73 L249.79,408.54 L250.40,409.35 L251.02,410.15 L251.63,410.95 L252.25,411.75 L252.88,412.54 L253.50,413.32 L254.13,414.11 L254.76,414.88 L255.39,415.65 L256.03,416.42 L256.66,417.19 L257.30,417.95 L257.95,418.70 L258.59,419.45 L259.24,420.20 L259.89,420.94 L260.54,421.68 L261.20,422.41 L261.85,423.15 L262.51,423.87 L263.18,424.60 L263.84,425.32 L264.51,426.03 L265.18,426.75 L265.85,427.46 L266.52,428.16 L267.20,428.86 L267.88,429.56 L268.56,430.26 L269.24,430.95 L269.93,431.64 L270.62,432.33 L271.31,433.01 L272.00,433.69 L272.70,434.37 L273.40,435.05 L274.10,435.72 L274.80,436.39 L275.51,437.05 L276.21,437.72 L276.93,438.38 L277.64,439.04 L278.35,439.70 L279.07,440.35 L279.79,441.00 L280.51,441.65 L281.24,442.30 L281.96,442.95 L282.69,443.59 L283.43,444.23 L284.16,444.87 L284.90,445.51 L285.64,446.15 L286.38,446.78 L287.12,447.41 L287.87,448.04 L288.61,448.67 L289.37,449.30 L290.12,449.93 L290.87,450.55 L291.63,451.18 L292.39,451.80 L293.15,452.42 L293.92,453.04 L294.69,453.66 L295.46,454.28 L296.23,454.89 L297.00,455.51 L297.78,456.12 L298.56,456.74 L299.34,457.35 L300.12,457.96 L300.91,458.57 L301.70,459.18 L302.49,459.79 L303.28,460.40 L304.07,461.01 L304.87,461.61 L305.67,462.21 L306.47,462.81 L307.28,463.41 L308.08,464.01 L308.89,464.60 L309.70,465.19 L310.52,465.78 L311.33,466.37 L312.15,466.96 L312.97,467.54 L313.80,468.12 L314.62,468.69 L315.45,469.27 L316.28,469.84 L317.11,470.41 L317.94,470.97 L318.78,471.54 L319.62,472.10 L320.46,472.65 L321.30,473.20 L322.15,473.75 L322.99,474.30 L323.84,474.84 L324.70,475.37 L325.55,475.91 L326.41,476.44 L327.27,476.96 L328.13,477.48 L328.99,478.00 L329.86,478.51 L330.73,479.02 L331.60,479.52 L332.47,480.02 L333.34,480.51 L334.22,481.00 L335.10,481.49 L335.98,481.96 L336.86,482.44 L337.75,482.91 L338.64,483.37 L339.53,483.83 L340.42,484.28 L341.31,484.73 L342.21,485.17 L343.11,485.60 L344.01,486.03 L344.91,486.46 L345.82,486.88 L346.73,487.30 L347.64,487.71 L348.55,488.11 L349.46,488.51 L350.37,488.90 L351.29,489.29 L352.21,489.68 L353.13,490.06 L354.05,490.43 L354.98,490.80 L355.90,491.17 L356.83,491.53 L357.76,491.88 L358.69,492.23 L359.63,492.58 L360.56,492.92 L361.50,493.26 L362.44,493.59 L363.38,493.91 L364.32,494.23 L365.26,494.55 L366.21,494.86 L367.15,495.17 L368.10,495.47 L369.05,495.77 L370.00,496.07 L370.95,496.36 L371.90,496.64 L372.86,496.92 L373.82,497.20 L374.77,497.47 L375.73,497.74 L376.69,498.00 L377.65,498.26 L378.62,498.52 L379.58,498.77 L380.55,499.01 L381.51,499.25 L382.48,499.49 L383.45,499.73 L384.42,499.95 L385.39,500.18 L386.36,500.40 L387.34,500.62 L388.31,500.83 L389.29,501.04 L390.26,501.25 L391.24,501.45 L392.22,501.64 L393.20,501.84 L394.18,502.03 L395.16,502.21 L396.14,502.40 L397.12,502.57 L398.11,502.75 L399.09,502.92 L400.07,503.09 L401.06,503.25 L402.05,503.41 L403.03,503.57 L404.02,503.72 L405.01,503.87 L406.00,504.01 L406.99,504.15 L407.98,504.29 L408.97,504.43 L409.96,504.56 L410.95,504.69 L411.95,504.81 L412.94,504.93 L413.93,505.05 L414.93,505.17 L415.92,505.28 L416.92,505.39 L417.91,505.49 L418.91,505.59 L419.90,505.69 L420.90,505.79 L421.90,505.88 L422.89,505.97 L423.89,506.05 L424.89,506.14 L425.88,506.22 L426.88,506.29 L427.88,506.37 L428.88,506.44 L429.87,506.51 L430.87,506.57 L431.87,506.64 L432.87,506.70 L433.86,506.75 L434.86,506.81 L435.86,506.86 L436.86,506.91 L437.86,506.95 L438.85,507.00 L439.85,507.04 L440.85,507.08 L441.85,507.11 L442.84,507.15 L443.84,507.18 L444.84,507.21 L445.84,507.23 L446.83,507.26 L447.83,507.28 L448.83,507.30 L449.82,507.32 L450.82,507.34 L451.82,507.35 L452.82,507.37 L453.81,507.38 L454.81,507.39 L455.81,507.40 L456.80,507.41 L457.80,507.41 L458.80,507.42 L459.79,507.42 L460.79,507.42 L461.79,507.42 L462.78,507.42 L463.78,507.42 L464.78,507.41 L465.77,507.41 L466.77,507.40 L467.77,507.40 L468.76,507.39 L469.76,507.38 L470.76,507.37 L471.75,507.37 L472.75,507.36 L473.74,507.35 L474.74,507.34 L475.74,507.32 L476.73,507.31 L477.73,507.30 L478.72,507.29 L479.72,507.28 L480.72,507.26 L481.71,507.25 L482.71,507.24 L483.70,507.23 L484.70,507.22 L485.70,507.20 L486.69,507.19 L487.69,507.18 L488.68,507.17 L489.68,507.16 L490.68,507.15 L491.67,507.14 L492.67,507.13 L493.66,507.12 L494.66,507.11 L495.65,507.10 L496.65,507.10 L497.64,507.09 L498.64,507.09 L499.64,507.08 L500.63,507.08 L501.63,507.08 L502.62,507.08 L503.62,507.08 L504.61,507.08 L505.61,507.08 L506.60,507.09 L507.60,507.09 L508.59,507.10 L509.59,507.11 L510.58,507.12 L511.58,507.13 L512.57,507.15 L513.57,507.16 L514.57,507.18 L515.56,507.20 L516.56,507.22 L517.55,507.25 L518.55,507.27 L519.54,507.30 L520.54,507.33 L521.53,507.36 L522.53,507.40 L523.52,507.44 L524.52,507.47 L525.51,507.52 L526.51,507.56 L527.50,507.61 L528.50,507.66 L529.49,507.71 L530.49,507.77 L531.48,507.82 L532.48,507.89 L533.47,507.95 L534.47,508.02 L535.46,508.09 L536.46,508.16 L537.45,508.24 L538.45,508.32 L539.44,508.40 L540.44,508.49 L541.43,508.57 L542.43,508.67 L543.42,508.76 L544.42,508.86 L545.41,508.97 L546.41,509.07 L547.40,509.18 L548.39,509.29 L549.39,509.41 L550.38,509.53 L551.38,509.65 L552.37,509.77 L553.37,509.89 L554.36,510.02 L555.36,510.15 L556.35,510.28 L557.35,510.41 L558.34,510.55 L559.34,510.68 L560.33,510.82 L561.33,510.96 L562.32,511.10 L563.32,511.24 L564.31,511.39 L565.31,511.53 L566.30,511.68 L567.30,511.82 L568.29,511.97 L569.29,512.12 L570.28,512.26 L571.28,512.41 L572.27,512.56 L573.27,512.71 L574.26,512.86 L575.26,513.01 L576.25,513.16 L577.25,513.31 L578.24,513.45 L579.24,513.60 L580.23,513.75 L581.23,513.90 L582.22,514.04 L583.22,514.19 L584.21,514.33 L585.21,514.47 L586.20,514.62 L587.20,514.76 L588.19,514.90 L589.19,515.03 L590.18,515.17 L591.18,515.30 L592.17,515.44 L593.17,515.57 L594.16,515.70 L595.16,515.82 L596.15,515.95 L597.15,516.07 L598.14,516.19 L599.14,516.31 L600.14,516.42 L601.13,516.53 L602.13,516.64 L603.12,516.75 L604.12,516.85 L605.11,516.95 L606.11,517.05 L607.10,517.15 L608.10,517.24 L609.09,517.34 L610.09,517.42 L611.09,517.51 L612.08,517.59 L613.08,517.68 L614.07,517.76 L615.07,517.83 L616.06,517.91 L617.06,517.98 L618.05,518.05 L619.05,518.12 L620.05,518.19 L621.04,518.25 L622.04,518.31 L623.03,518.37 L624.03,518.43 L625.02,518.48 L626.02,518.54 L627.02,518.59 L628.01,518.64 L629.01,518.68 L630.00,518.73 L631.00,518.77 L632.00,518.82 L632.99,518.86 L633.99,518.89 L634.98,518.93 L635.98,518.97 L636.98,519.00 L637.97,519.03 L638.97,519.06 L639.96,519.09 L640.96,519.11 L641.96,519.14 L642.95,519.16 L643.95,519.18 L644.94,519.20 L645.94,519.22 L646.94,519.24 L647.93,519.25 L648.93,519.27 L649.93,519.28 L650.92,519.29 L651.92,519.30 L652.91,519.31 L653.91,519.31 L654.91,519.32 L655.90,519.33 L656.90,519.33 L657.90,519.33 L658.89,519.33 L659.89,519.33 L660.89,519.33 L661.88,519.33 L662.88,519.32 L663.87,519.32 L664.87,519.31 L665.87,519.31 L666.86,519.30 L667.86,519.29 L668.86,519.28 L669.85,519.27 L670.85,519.26 L671.85,519.25 L672.84,519.24 L673.84,519.22 L674.84,519.21 L675.83,519.19 L676.83,519.18 L677.83,519.16 L678.82,519.15 L679.82,519.13 L680.82,519.11 L681.81,519.09 L682.81,519.07 L683.81,519.05 L684.80,519.03 L685.80,519.01 L686.80,518.99 L687.80,518.97 L688.79,518.94 L689.79,518.92 L690.79,518.90 L691.78,518.88 L692.78,518.85 L693.78,518.83 L694.77,518.80 L695.77,518.78 L696.77,518.75 L697.76,518.73 L698.76,518.71 L699.76,518.68 L700.76,518.66 L701.75,518.63 L702.75,518.61 L703.75,518.58 L704.74,518.55 L705.74,518.53 L706.74,518.50 L707.74,518.48 L708.73,518.45 L709.73,518.43 L710.73,518.40 L711.72,518.38 L712.72,518.35 L713.72,518.33 L714.72,518.31 L715.71,518.28 L716.71,518.26 L717.71,518.23 L718.71,518.21 L719.70,518.19 L720.70,518.16 L721.70,518.14 L722.69,518.12 L723.69,518.10 L724.69,518.07 L725.69,518.05 L726.68,518.03 L727.68,518.01 L728.68,517.99 L729.68,517.97 L730.67,517.95 L731.67,517.93 L732.67,517.91 L733.67,517.90 L734.66,517.88 L735.66,517.86 L736.66,517.85 L737.66,517.83 L738.65,517.81 L739.65,517.80 L740.65,517.79 L741.65,517.77 L742.65,517.76 L743.64,517.75 L744.64,517.74 L745.64,517.73 L746.64,517.72 L747.63,517.71 L748.63,517.70 L749.63,517.69 L750.63,517.68 L751.62,517.68 L752.62,517.67 L753.62,517.67 L754.62,517.67 L755.62,517.66 L756.61,517.66 L757.61,517.66 L758.61,517.66 L759.61,517.66 L760.60,517.66 L761.60,517.67 L762.60,517.67 L763.60,517.67 L764.60,517.68 L765.59,517.68 L766.59,517.69 L767.59,517.70 L768.59,517.70 L769.59,517.71 L770.58,517.72 L771.58,517.73 L772.58,517.74 L773.58,517.76 L774.58,517.77 L775.57,517.78 L776.57,517.79 L777.57,517.81 L778.57,517.82 L779.57,517.84 L780.56,517.85 L781.56,517.87 L782.56,517.89 L783.56,517.91 L784.56,517.93 L785.56,517.94 L786.55,517.96 L787.55,517.98 L788.55,518.00 L789.55,518.03 L790.55,518.05 L791.54,518.07 L792.54,518.09 L793.54,518.12 L794.54,518.14 L795.54,518.17 L796.54,518.19 L797.53,518.22 L798.53,518.24 L799.53,518.27 L800.53,518.29 L801.53,518.32 L802.52,518.35 L803.52,518.38 L804.52,518.41 L805.52,518.43 L806.52,518.46 L807.52,518.49 L808.52,518.52 L809.51,518.55 L810.51,518.58 L811.51,518.61 L812.51,518.65 L813.51,518.68 L814.51,518.71 L815.50,518.74 L816.50,518.77 L817.50,518.81 L818.50,518.84 L819.50,518.87 L820.50,518.91 L821.49,518.94 L822.49,518.97 L823.49,519.01 L824.49,519.04 L825.49,519.08 L826.49,519.11 L827.49,519.15 L828.48,519.18 L829.48,519.22 L830.48,519.25 L831.48,519.29 L832.48,519.32 L833.48,519.36 L834.48,519.39 L835.47,519.43 L836.47,519.47 L837.47,519.50 L838.47,519.54 L839.47,519.57 L840.47,519.61 L841.47,519.65 L842.47,519.68 L843.46,519.72 L844.46,519.76 L845.46,519.79 L846.46,519.83 L847.46,519.87 L848.46,519.90 L849.46,519.94 L850.45,519.97 L851.45,520.01 L852.45,520.05 L853.45,520.08 L854.45,520.12 L855.45,520.15 L856.45,520.19 L857.45,520.23 L858.44,520.26 L859.44,520.30 L860.44,520.33 L861.44,520.37 L862.44,520.40 L863.44,520.44 L864.44,520.47 L865.44,520.51 L866.44,520.54 L867.43,520.57 L868.43,520.61 L869.43,520.64 L870.43,520.68 L871.43,520.71 L872.43,520.74 L873.43,520.77 L874.43,520.81 L875.43,520.84 L876.42,520.87 L877.42,520.90 L878.42,520.93 L879.42,520.96 L880.42,520.99 L881.42,521.02 L882.42,521.05 L883.42,521.08 L884.42,521.11 L885.41,521.14 L886.41,521.17 L887.41,521.20 L888.41,521.22 L889.41,521.25 L890.41,521.28 L891.41,521.30 L892.41,521.33 L893.41,521.35 L894.41,521.38 L895.40,521.40 L896.40,521.43 L897.40,521.45 L898.40,521.47 L899.40,521.49 L900.40,521.52 L901.40,521.54 L902.40,521.56 L903.40,521.58 L904.40,521.60 L905.40,521.62 L906.39,521.64 L907.39,521.65 L908.39,521.67 L909.39,521.69 L910.39,521.70 L911.39,521.72 L912.39,521.73 L913.39,521.75 L914.39,521.76 L915.39,521.78 L916.39,521.79 L917.38,521.80 L918.38,521.82 L919.38,521.83 L920.38,521.84 L921.38,521.85 L922.38,521.87 L923.38,521.88 L924.38,521.89 L925.38,521.90 L926.38,521.91 L927.38,521.92 L928.38,521.93 L929.37,521.94 L930.37,521.95 L931.37,521.95 L932.37,521.96 L933.37,521.97 L934.37,521.98 L935.37,521.99 L936.37,522.00 L937.37,522.01 L938.37,522.01 L939.37,522.02 L940.37,522.03 L941.36,522.04 L942.36,522.04 L943.36,522.05 L944.36,522.06 L945.36,522.07 L946.36,522.07 L947.36,522.08 L948.36,522.09 L949.36,522.10 L950.36,522.10 L951.36,522.11 L952.36,522.12 L953.36,522.13 L954.35,522.13 L955.35,522.14 L956.35,522.15 L957.35,522.16 L958.35,522.17 L959.35,522.18 L960.35,522.18 L961.35,522.19 L962.35,522.20 L963.35,522.21 L964.35,522.22 L965.35,522.23 L966.35,522.24 L967.35,522.25 L968.34,522.26 L969.34,522.27 L970.34,522.28 L971.34,522.30 L972.34,522.31 L973.34,522.32 L974.34,522.33 L975.34,522.35 L976.34,522.36 L977.34,522.37 L978.34,522.39 L979.34,522.40 L980.34,522.42 L981.34,522.43 L982.33,522.45 L983.33,522.47 L984.33,522.48 L985.33,522.50 L986.33,522.52 L987.33,522.54 L988.33,522.56 L989.33,522.58 L990.33,522.60 L991.33,522.62 L992.33,522.64 L993.33,522.66 L994.33,522.69 L995.33,522.71 L996.33,522.73 L997.32,522.76 L998.32,522.78 L999.32,522.81 L1000.32,522.84 L1001.32,522.87 L1002.32,522.89 L1003.32,522.92 L1004.32,522.95 L1005.32,522.98" stroke="#2ca02c"/>
<path d="M180.44,161.82 L181.21,162.14 L181.97,162.49 L182.72,162.88 L183.45,163.31 L184.17,163.77 L184.88,164.27 L185.58,164.79 L186.27,165.35 L186.94,165.93 L187.61,166.55 L188.26,167.19 L188.90,167.85 L189.53,168.53 L190.15,169.24 L190.75,169.97 L191.35,170.71 L191.94,171.48 L192.52,172.25 L193.09,173.04 L193.64,173.85 L194.19,174.67 L194.73,175.49 L195.27,176.33 L195.79,177.17 L196.30,178.01 L196.81,178.87 L197.30,179.73 L197.79,180.59 L198.28,181.46 L198.75,182.34 L199.22,183.22 L199.67,184.10 L200.13,185.00 L200.57,185.89 L201.01,186.79 L201.44,187.70 L201.87,188.61 L202.29,189.52 L202.70,190.44 L203.11,191.36 L203.51,192.28 L203.91,193.21 L204.30,194.14 L204.69,195.08 L205.07,196.01 L205.45,196.95 L205.82,197.90 L206.19,198.84 L206.56,199.79 L206.92,200.74 L207.28,201.69 L207.63,202.64 L207.98,203.60 L208.33,204.55 L208.68,205.51 L209.02,206.47 L209.36,207.43 L209.70,208.39 L210.04,209.35 L210.37,210.31 L210.70,211.27 L211.03,212.24 L211.36,213.20 L211.69,214.16 L212.02,215.12 L212.35,216.08 L212.68,217.04 L213.00,218.00 L213.33,218.96 L213.65,219.92 L213.98,220.87 L214.30,221.83 L214.62,222.79 L214.95,223.74 L215.27,224.70 L215.59,225.65 L215.92,226.61 L216.24,227.56 L216.57,228.51 L216.89,229.47 L217.21,230.42 L217.54,231.37 L217.86,232.32 L218.19,233.27 L218.51,234.22 L218.84,235.16 L219.17,236.11 L219.50,237.06 L219.83,238.00 L220.16,238.95 L220.49,239.89 L220.82,240.83 L221.15,241.77 L221.49,242.71 L221.82,243.65 L222.16,244.59 L222.50,245.53 L222.84,246.47 L223.18,247.40 L223.53,248.34 L223.87,249.27 L224.22,250.20 L224.57,251.14 L224.92,252.07 L225.27,253.00 L225.63,253.92 L225.99,254.85 L226.35,255.78 L226.71,256.70 L227.07,257.62 L227.44,258.55 L227.81,259.47 L228.18,260.39 L228.56,261.30 L228.94,262.22 L229.32,263.14 L229.70,264.05 L230.09,264.96 L230.48,265.88 L230.87,266.79 L231.27,267.69 L231.67,268.60 L232.07,269.51 L232.48,270.41 L232.89,271.31 L233.30,272.22 L233.72,273.12 L234.14,274.01 L234.57,274.91 L235.00,275.81 L235.43,276.70 L235.87,277.59 L236.31,278.48 L236.75,279.37 L237.20,280.26 L237.65,281.15 L238.10,282.03 L238.56,282.91 L239.02,283.79 L239.49,284.67 L239.96,285.55 L240.43,286.43 L240.91,287.30 L241.39,288.17 L241.87,289.04 L242.36,289.91 L242.85,290.78 L243.34,291.64 L243.84,292.51 L244.34,293.37 L244.85,294.23 L245.35,295.09 L245.86,295.95 L246.38,296.80 L246.90,297.65 L247.42,298.50 L247.94,299.35 L248.47,300.20 L249.00,301.05 L249.53,301.89 L250.07,302.73 L250.61,303.57 L251.16,304.41 L251.70,305.25 L252.25,306.08 L252.81,306.92 L253.36,307.75 L253.92,308.57 L254.49,309.40 L255.05,310.23 L255.62,311.05 L256.19,311.87 L256.77,312.69 L257.35,313.50 L257.93,314.32 L258.51,315.13 L259.10,315.94 L259.69,316.75 L260.28,317.56 L260.88,318.36 L261.48,319.16 L262.08,319.97 L262.68,320.76 L263.29,321.56 L263.90,322.35 L264.51,323.15 L265.13,323.94 L265.75,324.72 L266.37,325.51 L266.99,326.29 L267.62,327.07 L268.25,327.85 L268.88,328.63 L269.52,329.40 L270.16,330.18 L270.80,330.95 L271.44,331.71 L272.08,332.48 L272.73,333.24 L273.38,334.00 L274.04,334.76 L274.69,335.52 L275.35,336.27 L276.01,337.02 L276.68,337.77 L277.34,338.52 L278.01,339.27 L278.68,340.01 L279.35,340.75 L280.03,341.49 L280.71,342.22 L281.39,342.96 L282.07,343.69 L282.75,344.41 L283.44,345.14 L284.13,345.86 L284.82,346.58 L285.52,347.30 L286.21,348.02 L286.91,348.73 L287.61,349.44 L288.32,350.15 L289.02,350.86 L289.73,351.56 L290.44,352.26 L291.15,352.96 L291.86,353.66 L292.58,354.35 L293.30,355.04 L294.02,355.73 L294.74,356.42 L295.46,357.10 L296.19,357.78 L296.92,358.46 L297.65,359.13 L298.38,359.81 L299.12,360.48 L299.85,361.14 L300.59,361.81 L301.33,362.47 L302.07,363.13 L302.81,363.79 L303.56,364.44 L304.31,365.09 L305.05,365.74 L305.81,366.38 L306.56,367.03 L307.31,367.67 L308.07,368.31 L308.83,368.94 L309.59,369.57 L310.35,370.20 L311.11,370.83 L311.88,371.46 L312.64,372.08 L313.41,372.71 L314.18,373.33 L314.95,373.94 L315.73,374.56 L316.50,375.18 L317.28,375.79 L318.06,376.40 L318.84,377.01 L319.63,377.62 L320.41,378.23 L321.20,378.83 L321.99,379.44 L322.78,380.04 L323.57,380.65 L324.37,381.25 L325.16,381.85 L325.96,382.45 L326.76,383.05 L327.56,383.66 L328.37,384.25 L329.18,384.85 L329.98,385.45 L330.79,386.05 L331.61,386.65 L332.42,387.25 L333.24,387.85 L334.05,388.45 L334.87,389.05 L335.69,389.65 L336.52,390.24 L337.34,390.84 L338.17,391.45 L339.00,392.05 L339.83,392.65 L340.67,393.25 L341.50,393.85 L342.34,394.45 L343.18,395.05 L344.02,395.64 L344.87,396.24 L345.71,396.83 L346.56,397.41 L347.41,398.00 L348.26,398.58 L349.11,399.15 L349.97,399.72 L350.83,400.28 L351.69,400.84 L352.55,401.39 L353.42,401.93 L354.28,402.47 L355.15,402.99 L356.02,403.51 L356.89,404.02 L357.77,404.52 L358.64,405.01 L359.52,405.49 L360.40,405.96 L361.29,406.42 L362.17,406.87 L363.06,407.30 L363.95,407.72 L364.84,408.13 L365.74,408.53 L366.63,408.91 L367.53,409.28 L368.43,409.63 L369.33,409.96 L370.24,410.29 L371.14,410.60 L372.05,410.89 L372.96,411.18 L373.88,411.45 L374.79,411.72 L375.71,411.97 L376.63,412.21 L377.55,412.45 L378.47,412.68 L379.39,412.90 L380.32,413.12 L381.25,413.33 L382.18,413.54 L383.11,413.74 L384.04,413.94 L384.98,414.14 L385.92,414.34 L386.86,414.53 L387.80,414.73 L388.74,414.92 L389.68,415.12 L390.63,415.32 L391.58,415.52 L392.53,415.73 L393.48,415.94 L394.43,416.15 L395.38,416.37 L396.34,416.60 L397.29,416.82 L398.25,417.06 L399.21,417.29 L400.17,417.53 L401.13,417.77 L402.10,418.02 L403.06,418.27 L404.03,418.52 L404.99,418.77 L405.96,419.03 L406.93,419.29 L407.90,419.55 L408.87,419.81 L409.85,420.08 L410.82,420.34 L411.80,420.61 L412.78,420.87 L413.75,421.14 L414.73,421.41 L415.71,421.67 L416.69,421.94 L417.67,422.21 L418.66,422.47 L419.64,422.74 L420.63,423.00 L421.61,423.27 L422.60,423.53 L423.59,423.78 L424.57,424.04 L425.56,424.29 L426.55,424.53 L427.54,424.77 L428.54,425.00 L429.53,425.22 L430.52,425.44 L431.51,425.64 L432.51,425.84 L433.50,426.02 L434.50,426.20 L435.49,426.36 L436.49,426.51 L437.49,426.65 L438.48,426.78 L439.48,426.89 L440.48,427.00 L441.48,427.09 L442.48,427.17 L443.48,427.25 L444.48,427.31 L445.48,427.37 L446.48,427.41 L447.48,427.45 L448.48,427.48 L449.48,427.50 L450.49,427.51 L451.49,427.52 L452.49,427.52 L453.49,427.51 L454.50,427.50 L455.50,427.48 L456.50,427.45 L457.50,427.42 L458.51,427.39 L459.51,427.35 L460.51,427.31 L461.52,427.26 L462.52,427.21 L463.52,427.16 L464.52,427.10 L465.53,427.04 L466.53,426.98 L467.53,426.92 L468.53,426.86 L469.54,426.79 L470.54,426.73 L471.54,426.66 L472.54,426.60 L473.54,426.53 L474.54,426.47 L475.54,426.41 L476.54,426.35 L477.54,426.28 L478.54,426.23 L479.54,426.17 L480.54,426.11 L481.54,426.05 L482.54,426.00 L483.54,425.94 L484.53,425.89 L485.53,425.84 L486.53,425.79 L487.53,425.74 L488.52,425.70 L489.52,425.65 L490.52,425.61 L491.51,425.56 L492.51,425.52 L493.50,425.48 L494.50,425.44 L495.49,425.41 L496.49,425.37 L497.48,425.34 L498.48,425.31 L499.47,425.28 L500.46,425.25 L501.46,425.22 L502.45,425.20 L503.44,425.18 L504.44,425.16 L505.43,425.14 L506.42,425.12 L507.42,425.10 L508.41,425.09 L509.40,425.08 L510.39,425.07 L511.38,425.06 L512.38,425.06 L513.37,425.06 L514.36,425.06 L515.35,425.06 L516.34,425.06 L517.33,425.07 L518.32,425.08 L519.31,425.09 L520.30,425.10 L521.29,425.11 L522.28,425.13 L523.27,425.15 L524.26,425.18 L525.25,425.20 L526.24,425.23 L527.23,425.26 L528.22,425.29 L529.21,425.33 L530.20,425.36 L531.19,425.40 L532.18,425.45 L533.17,425.49 L534.16,425.54 L535.14,425.59 L536.13,425.65 L537.12,425.71 L538.11,425.77 L539.10,425.83 L540.09,425.90 L541.08,425.96 L542.06,426.04 L543.05,426.11 L544.04,426.19 L545.03,426.27 L546.02,426.36 L547.00,426.44 L547.99,426.53 L548.98,426.63 L549.97,426.72 L550.96,426.82 L551.95,426.93 L552.93,427.03 L553.92,427.15 L554.91,427.26 L555.90,427.38 L556.89,427.50 L557.87,427.62 L558.86,427.75 L559.85,427.88 L560.84,428.01 L561.83,428.15 L562.82,428.29 L563.80,428.44 L564.79,428.59 L565.78,428.74 L566.77,428.90 L567.76,429.06 L568.75,429.22 L569.73,429.39 L570.72,429.56 L571.71,429.74 L572.70,429.92 L573.69,430.10 L574.68,430.29 L575.67,430.48 L576.66,430.67 L577.65,430.86 L578.64,431.06 L579.62,431.26 L580.61,431.46 L581.60,431.66 L582.59,431.87 L583.58,432.08 L584.57,432.28 L585.56,432.49 L586.55,432.70 L587.54,432.91 L588.53,433.13 L589.52,433.34 L590.51,433.55 L591.50,433.76 L592.49,433.98 L593.48,434.19 L594.47,434.40 L595.46,434.61 L596.45,434.82 L597.44,435.03 L598.43,435.24 L599.43,435.45 L600.42,435.65 L601.41,435.86 L602.40,436.06 L603.39,436.26 L604.38,436.46 L605.37,436.65 L606.36,436.84 L607.35,437.03 L608.34,437.22 L609.34,437.40 L610.33,437.58 L611.32,437.76 L612.31,437.93 L613.30,438.10 L614.29,438.26 L615.28,438.42 L616.28,438.57 L617.27,438.72 L618.26,438.87 L619.25,439.01 L620.24,439.15 L621.24,439.28 L622.23,439.40 L623.22,439.52 L624.21,439.64 L625.20,439.75 L626.20,439.85 L627.19,439.95 L628.18,440.05 L629.17,440.14 L630.17,440.23 L631.16,440.31 L632.15,440.39 L633.14,440.47 L634.14,440.54 L635.13,440.61 L636.12,440.67 L637.11,440.73 L638.11,440.79 L639.10,440.84 L640.09,440.89 L641.09,440.93 L642.08,440.97 L643.07,441.01 L644.07,441.05 L645.06,441.08 L646.05,441.11 L647.05,441.13 L648.04,441.16 L649.03,441.18 L650.03,441.19 L651.02,441.21 L652.01,441.22 L653.01,441.23 L654.00,441.23 L655.00,441.24 L655.99,441.24 L656.98,441.24 L657.98,441.24 L658.97,441.24 L659.97,441.23 L660.96,441.22 L661.95,441.21 L662.95,441.20 L663.94,441.19 L664.94,441.17 L665.93,441.16 L666.93,441.14 L667.92,441.12 L668.91,441.10 L669.91,441.08 L670.90,441.06 L671.90,441.03 L672.89,441.01 L673.89,440.98 L674.88,440.96 L675.88,440.93 L676.87,440.90 L677.87,440.88 L678.86,440.85 L679.86,440.82 L680.85,440.79 L681.85,440.76 L682.84,440.73 L683.84,440.71 L684.83,440.68 L685.83,440.65 L686.82,440.62 L687.82,440.59 L688.82,440.56 L689.81,440.54 L690.81,440.51 L691.80,440.48 L692.80,440.46 L693.79,440.43 L694.79,440.41 L695.78,440.39 L696.78,440.36 L697.78,440.34 L698.77,440.32 L699.77,440.30 L700.76,440.29 L701.76,440.27 L702.76,440.26 L703.75,440.24 L704.75,440.23 L705.74,440.22 L706.74,440.21 L707.74,440.20 L708.73,440.20 L709.73,440.19 L710.73,440.19 L711.72,440.18 L712.72,440.18 L713.71,440.18 L714.71,440.17 L715.71,440.17 L716.70,440.17 L717.70,440.18 L718.70,440.18 L719.69,440.18 L720.69,440.18 L721.69,440.19 L722.68,440.19 L723.68,440.20 L724.68,440.20 L725.67,440.21 L726.67,440.22 L727.67,440.22 L728.67,440.23 L729.66,440.24 L730.66,440.25 L731.66,440.26 L732.65,440.27 L733.65,440.28 L734.65,440.29 L735.65,440.30 L736.64,440.31 L737.64,440.32 L738.64,440.33 L739.63,440.34 L740.63,440.35 L741.63,440.36 L742.63,440.37 L743.62,440.38 L744.62,440.39 L745.62,440.40 L746.62,440.41 L747.61,440.42 L748.61,440.43 L749.61,440.44 L750.61,440.45 L751.60,440.46 L752.60,440.47 L753.60,440.48 L754.60,440.49 L755.60,440.50 L756.59,440.50 L757.59,440.51 L758.59,440.52 L759.59,440.52 L760.59,440.53 L761.58,440.54 L762.58,440.54 L763.58,440.55 L764.58,440.55 L765.58,440.55 L766.57,440.56 L767.57,440.56 L768.57,440.57 L769.57,440.57 L770.57,440.57 L771.56,440.57 L772.56,440.57 L773.56,440.58 L774.56,440.58 L775.56,440.58 L776.56,440.58 L777.55,440.58 L778.55,440.58 L779.55,440.58 L780.55,440.58 L781.55,440.58 L782.55,440.58 L783.55,440.58 L784.54,440.57 L785.54,440.57 L786.54,440.57 L787.54,440.57 L788.54,440.57 L789.54,440.56 L790.54,440.56 L791.53,440.56 L792.53,440.55 L793.53,440.55 L794.53,440.55 L795.53,440.54 L796.53,440.54 L797.53,440.53 L798.52,440.53 L799.52,440.52 L800.52,440.52 L801.52,440.52 L802.52,440.51 L803.52,440.50 L804.52,440.50 L805.52,440.49 L806.52,440.49 L807.51,440.48 L808.51,440.48 L809.51,440.47 L810.51,440.46 L811.51,440.46 L812.51,440.45 L813.51,440.45 L814.51,440.44 L815.51,440.43 L816.51,440.43 L817.51,440.42 L818.50,440.41 L819.50,440.41 L820.50,440.40 L821.50,440.39 L822.50,440.38 L823.50,440.38 L824.50,440.37 L825.50,440.36 L826.50,440.36 L827.50,440.35 L828.50,440.34 L829.50,440.34 L830.49,440.33 L831.49,440.32 L832.49,440.31 L833.49,440.31 L834.49,440.30 L835.49,440.29 L836.49,440.29 L837.49,440.28 L838.49,440.27 L839.49,440.26 L840.49,440.26 L841.49,440.25 L842.49,440.24 L843.49,440.24 L844.49,440.23 L845.48,440.22 L846.48,440.22 L847.48,440.21 L848.48,440.20 L849.48,440.20 L850.48,440.19 L851.48,440.19 L852.48,440.18 L853.48,440.17 L854.48,440.17 L855.48,440.16 L856.48,440.16 L857.48,440.15 L858.48,440.15 L859.48,440.14 L860.48,440.14 L861.48,440.13 L862.48,440.13 L863.48,440.12 L864.47,440.12 L865.47,440.12 L866.47,440.11 L867.47,440.11 L868.47,440.11 L869.47,440.10 L870.47,440.10 L871.47,440.10 L872.47,440.09 L873.47,440.09 L874.47,440.09 L875.47,440.09 L876.47,440.09 L877.47,440.08 L878.47,440.08 L879.47,440.08 L880.47,440.08 L881.47,440.08 L882.47,440.08 L883.47,440.08 L884.46,440.08 L885.46,440.08 L886.46,440.08 L887.46,440.09 L888.46,440.09 L889.46,440.09 L890.46,440.09 L891.46,440.10 L892.46,440.10 L893.46,440.10 L894.46,440.11 L895.46,440.11 L896.46,440.11 L897.46,440.12 L898.46,440.12 L899.46,440.13 L900.46,440.13 L901.46,440.14 L902.46,440.15 L903.46,440.15 L904.45,440.16 L905.45,440.17 L906.45,440.18 L907.45,440.19 L908.45,440.20 L909.45,440.20 L910.45,440.21 L911.45,440.22 L912.45,440.24 L913.45,440.25 L914.45,440.26 L915.45,440.27 L916.45,440.28 L917.45,440.30 L918.45,440.31 L919.45,440.32 L920.44,440.34 L921.44,440.35 L922.44,440.37 L923.44,440.38 L924.44,440.40 L925.44,440.42 L926.44,440.43 L927.44,440.45 L928.44,440.47 L929.44,440.49 L930.44,440.51 L931.44,440.53 L932.44,440.55 L933.43,440.57 L934.43,440.59 L935.43,440.61 L936.43,440.64 L937.43,440.66 L938.43,440.68 L939.43,440.71 L940.43,440.73 L941.43,440.76 L942.43,440.78 L943.43,440.81 L944.42,440.84 L945.42,440.87 L946.42,440.89 L947.42,440.92 L948.42,440.95 L949.42,440.98 L950.42,441.01 L951.42,441.05 L952.42,441.08 L953.42,441.11 L954.41,441.15 L955.41,441.18 L956.41,441.22 L957.41,441.25 L958.41,441.29 L959.41,441.32 L960.41,441.36 L961.41,441.40 L962.40,441.44 L963.40,441.48 L964.40,441.52 L965.40,441.56 L966.40,441.60 L967.40,441.65 L968.40,441.69 L969.39,441.73 L970.39,441.78 L971.39,441.82 L972.39,441.87 L973.39,441.92 L974.39,441.97 L975.39,442.01 L976.38,442.06 L977.38,442.11 L978.38,442.17 L979.38,442.22 L980.38,442.27 L981.38,442.32 L982.37,442.38 L983.37,442.43 L984.37,442.49 L985.37,442.55 L986.37,442.60 L987.37,442.66 L988.36,442.72 L989.36,442.78 L990.36,442.84 L991.36,442.90 L992.36,442.97 L993.35,443.03 L994.35,443.09 L995.35,443.16 L996.35,443.22 L997.35,443.29 L998.34,443.36 L999.34,443.43 L1000.34,443.50 L1001.34,443.57 L1002.33,443.64 L1003.33,443.71 L1004.33,443.79 L1005.33,443.86" stroke="#9467bd"/>
<path d="M179.35,455.0 L1005.30,455.0" stroke="#7f7f7f" stroke-linecap="butt" stroke-dasharray="5.55 9.16"/>
<g><line x1="179.35" y1="110.50" x2="192.26" y2="110.50" stroke="#000" stroke-width="5.7" stroke-linecap="butt"/><line x1="185.80" y1="109.20" x2="185.80" y2="111.80" stroke="#000" stroke-width="5.7" stroke-linecap="butt"/><line x1="179.35" y1="99.40" x2="179.35" y2="121.60" stroke="#000" stroke-width="3.7" stroke-linecap="butt"/><line x1="192.26" y1="99.40" x2="192.26" y2="121.60" stroke="#000" stroke-width="3.7" stroke-linecap="butt"/><line x1="174.70" y1="109.20" x2="196.90" y2="109.20" stroke="#000" stroke-width="3.7" stroke-linecap="butt"/><line x1="174.70" y1="111.80" x2="196.90" y2="111.80" stroke="#000" stroke-width="3.7" stroke-linecap="butt"/><circle cx="185.80" cy="110.50" r="7.5" fill="#000"/><line x1="192.26" y1="142.00" x2="205.16" y2="142.00" stroke="#000" stroke-width="5.7" stroke-linecap="butt"/><line x1="198.71" y1="140.00" x2="198.71" y2="144.00" stroke="#000" stroke-width="5.7" stroke-linecap="butt"/><line x1="192.26" y1="130.90" x2="192.26" y2="153.10" stroke="#000" stroke-width="3.7" stroke-linecap="butt"/><line x1="205.16" y1="130.90" x2="205.16" y2="153.10" stroke="#000" stroke-width="3.7" stroke-linecap="butt"/><line x1="187.61" y1="140.00" x2="209.81" y2="140.00" stroke="#000" stroke-width="3.7" stroke-linecap="butt"/><line x1="187.61" y1="144.00" x2="209.81" y2="144.00" stroke="#000" stroke-width="3.7" stroke-linecap="butt"/><circle cx="198.71" cy="142.00" r="7.5" fill="#000"/><line x1="205.16" y1="196.60" x2="218.07" y2="196.60" stroke="#000" stroke-width="5.7" stroke-linecap="butt"/><line x1="211.61" y1="193.10" x2="211.61" y2="200.10" stroke="#000" stroke-width="5.7" stroke-linecap="butt"/><line x1="205.16" y1="185.50" x2="205.16" y2="207.70" stroke="#000" stroke-width="3.7" stroke-linecap="butt"/><line x1="218.07" y1="185.50" x2="218.07" y2="207.70" stroke="#000" stroke-width="3.7" stroke-linecap="butt"/><line x1="200.51" y1="193.10" x2="222.71" y2="193.10" stroke="#000" stroke-width="3.7" stroke-linecap="butt"/><line x1="200.51" y1="200.10" x2="222.71" y2="200.10" stroke="#000" stroke-width="3.7" stroke-linecap="butt"/><circle cx="211.61" cy="196.60" r="7.5" fill="#000"/><line x1="218.07" y1="239.90" x2="230.97" y2="239.90" stroke="#000" stroke-width="5.7" stroke-linecap="butt"/><line x1="224.52" y1="235.30" x2="224.52" y2="244.50" stroke="#000" stroke-width="5.7" stroke-linecap="butt"/><line x1="218.07" y1="228.80" x2="218.07" y2="251.00" stroke="#000" stroke-width="3.7" stroke-linecap="butt"/><line x1="230.97" y1="228.80" x2="230.97" y2="251.00" stroke="#000" stroke-width="3.7" stroke-linecap="butt"/><line x1="213.42" y1="235.30" x2="235.62" y2="235.30" stroke="#000" stroke-width="3.7" stroke-linecap="butt"/><line x1="213.42" y1="244.50" x2="235.62" y2="244.50" stroke="#000" stroke-width="3.7" stroke-linecap="butt"/><circle cx="224.52" cy="239.90" r="7.5" fill="#000"/><line x1="230.97" y1="284.50" x2="243.88" y2="284.50" stroke="#000" stroke-width="5.7" stroke-linecap="butt"/><line x1="237.42" y1="278.85" x2="237.42" y2="290.15" stroke="#000" stroke-width="5.7" stroke-linecap="butt"/><line x1="230.97" y1="273.40" x2="230.97" y2="295.60" stroke="#000" stroke-width="3.7" stroke-linecap="butt"/><line x1="243.88" y1="273.40" x2="243.88" y2="295.60" stroke="#000" stroke-width="3.7" stroke-linecap="butt"/><line x1="226.32" y1="278.85" x2="248.52" y2="278.85" stroke="#000" stroke-width="3.7" stroke-linecap="butt"/><line x1="226.32" y1="290.15" x2="248.52" y2="290.15" stroke="#000" stroke-width="3.7" stroke-linecap="butt"/><circle cx="237.42" cy="284.50" r="7.5" fill="#000"/><line x1="243.88" y1="307.00" x2="256.78" y2="307.00" stroke="#000" stroke-width="5.7" stroke-linecap="butt"/><line x1="250.33" y1="301.35" x2="250.33" y2="312.65" stroke="#000" stroke-width="5.7" stroke-linecap="butt"/><line x1="243.88" y1="295.90" x2="243.88" y2="318.10" stroke="#000" stroke-width="3.7" stroke-linecap="butt"/><line x1="256.78" y1="295.90" x2="256.78" y2="318.10" stroke="#000" stroke-width="3.7" stroke-linecap="butt"/><line x1="239.23" y1="301.35" x2="261.43" y2="301.35" stroke="#000" stroke-width="3.7" stroke-linecap="butt"/><line x1="239.23" y1="312.65" x2="261.43" y2="312.65" stroke="#000" stroke-width="3.7" stroke-linecap="butt"/><circle cx="250.33" cy="307.00" r="7.5" fill="#000"/><line x1="256.78" y1="360.50" x2="282.59" y2="360.50" stroke="#000" stroke-width="5.7" stroke-linecap="butt"/><line x1="269.69" y1="350.25" x2="269.69" y2="370.75" stroke="#000" stroke-width="5.7" stroke-linecap="butt"/><line x1="256.78" y1="349.40" x2="256.78" y2="371.60" stroke="#000" stroke-width="3.7" stroke-linecap="butt"/><line x1="282.59" y1="349.40" x2="282.59" y2="371.60" stroke="#000" stroke-width="3.7" stroke-linecap="butt"/><line x1="258.59" y1="350.25" x2="280.79" y2="350.25" stroke="#000" stroke-width="3.7" stroke-linecap="butt"/><line x1="258.59" y1="370.75" x2="280.79" y2="370.75" stroke="#000" stroke-width="3.7" stroke-linecap="butt"/><circle cx="269.69" cy="360.50" r="7.5" fill="#000"/><line x1="282.59" y1="404.00" x2="334.22" y2="404.00" stroke="#000" stroke-width="5.7" stroke-linecap="butt"/><line x1="308.40" y1="389.80" x2="308.40" y2="422.70" stroke="#000" stroke-width="5.7" stroke-linecap="butt"/><line x1="282.59" y1="392.90" x2="282.59" y2="415.10" stroke="#000" stroke-width="3.7" stroke-linecap="butt"/><line x1="334.22" y1="392.90" x2="334.22" y2="415.10" stroke="#000" stroke-width="3.7" stroke-linecap="butt"/><line x1="297.30" y1="389.80" x2="319.50" y2="389.80" stroke="#000" stroke-width="3.7" stroke-linecap="butt"/><line x1="297.30" y1="422.70" x2="319.50" y2="422.70" stroke="#000" stroke-width="3.7" stroke-linecap="butt"/><circle cx="308.40" cy="404.00" r="7.5" fill="#000"/><line x1="334.22" y1="415.60" x2="385.84" y2="415.60" stroke="#000" stroke-width="5.7" stroke-linecap="butt"/><line x1="360.03" y1="401.40" x2="360.03" y2="434.10" stroke="#000" stroke-width="5.7" stroke-linecap="butt"/><line x1="334.22" y1="404.50" x2="334.22" y2="426.70" stroke="#000" stroke-width="3.7" stroke-linecap="butt"/><line x1="385.84" y1="404.50" x2="385.84" y2="426.70" stroke="#000" stroke-width="3.7" stroke-linecap="butt"/><line x1="348.93" y1="401.40" x2="371.13" y2="401.40" stroke="#000" stroke-width="3.7" stroke-linecap="butt"/><line x1="348.93" y1="434.10" x2="371.13" y2="434.10" stroke="#000" stroke-width="3.7" stroke-linecap="butt"/><circle cx="360.03" cy="415.60" r="7.5" fill="#000"/><line x1="385.84" y1="418.60" x2="592.32" y2="418.60" stroke="#000" stroke-width="5.7" stroke-linecap="butt"/><line x1="489.08" y1="409.30" x2="489.08" y2="430.80" stroke="#000" stroke-width="5.7" stroke-linecap="butt"/><line x1="385.84" y1="407.50" x2="385.84" y2="429.70" stroke="#000" stroke-width="3.7" stroke-linecap="butt"/><line x1="592.32" y1="407.50" x2="592.32" y2="429.70" stroke="#000" stroke-width="3.7" stroke-linecap="butt"/><line x1="477.98" y1="409.30" x2="500.18" y2="409.30" stroke="#000" stroke-width="3.7" stroke-linecap="butt"/><line x1="477.98" y1="430.80" x2="500.18" y2="430.80" stroke="#000" stroke-width="3.7" stroke-linecap="butt"/><circle cx="489.08" cy="418.60" r="7.5" fill="#000"/><line x1="592.33" y1="440.00" x2="1005.30" y2="440.00" stroke="#000" stroke-width="5.7" stroke-linecap="butt"/><line x1="798.81" y1="428.75" x2="798.81" y2="453.75" stroke="#000" stroke-width="5.7" stroke-linecap="butt"/><line x1="592.33" y1="428.90" x2="592.33" y2="451.10" stroke="#000" stroke-width="3.7" stroke-linecap="butt"/><line x1="1005.30" y1="428.90" x2="1005.30" y2="451.10" stroke="#000" stroke-width="3.7" stroke-linecap="butt"/><line x1="787.71" y1="428.75" x2="809.91" y2="428.75" stroke="#000" stroke-width="3.7" stroke-linecap="butt"/><line x1="787.71" y1="453.75" x2="809.91" y2="453.75" stroke="#000" stroke-width="3.7" stroke-linecap="butt"/><circle cx="798.81" cy="440.00" r="7.5" fill="#000"/></g>
</g>
<rect x="179.35" y="99.75" width="825.95" height="536.95" fill="none" stroke="#000" stroke-width="2.9" stroke-linejoin="miter"/>
<g><line x1="179.35" y1="636.70" x2="179.35" y2="649.65" stroke="#000" stroke-width="2.96" stroke-linecap="butt"/><line x1="308.40" y1="636.70" x2="308.40" y2="649.65" stroke="#000" stroke-width="2.96" stroke-linecap="butt"/><line x1="437.46" y1="636.70" x2="437.46" y2="649.65" stroke="#000" stroke-width="2.96" stroke-linecap="butt"/><line x1="566.51" y1="636.70" x2="566.51" y2="649.65" stroke="#000" stroke-width="2.96" stroke-linecap="butt"/><line x1="695.57" y1="636.70" x2="695.57" y2="649.65" stroke="#000" stroke-width="2.96" stroke-linecap="butt"/><line x1="824.62" y1="636.70" x2="824.62" y2="649.65" stroke="#000" stroke-width="2.96" stroke-linecap="butt"/><line x1="953.68" y1="636.70" x2="953.68" y2="649.65" stroke="#000" stroke-width="2.96" stroke-linecap="butt"/><line x1="179.35" y1="99.75" x2="179.35" y2="86.80" stroke="#000" stroke-width="2.96" stroke-linecap="butt"/><line x1="286.15" y1="99.75" x2="286.15" y2="86.80" stroke="#000" stroke-width="2.96" stroke-linecap="butt"/><line x1="392.96" y1="99.75" x2="392.96" y2="86.80" stroke="#000" stroke-width="2.96" stroke-linecap="butt"/><line x1="499.76" y1="99.75" x2="499.76" y2="86.80" stroke="#000" stroke-width="2.96" stroke-linecap="butt"/><line x1="606.57" y1="99.75" x2="606.57" y2="86.80" stroke="#000" stroke-width="2.96" stroke-linecap="butt"/><line x1="713.38" y1="99.75" x2="713.38" y2="86.80" stroke="#000" stroke-width="2.96" stroke-linecap="butt"/><line x1="820.18" y1="99.75" x2="820.18" y2="86.80" stroke="#000" stroke-width="2.96" stroke-linecap="butt"/><line x1="926.99" y1="99.75" x2="926.99" y2="86.80" stroke="#000" stroke-width="2.96" stroke-linecap="butt"/><line x1="179.35" y1="636.70" x2="166.40" y2="636.70" stroke="#000" stroke-width="2.96" stroke-linecap="butt"/><line x1="179.35" y1="516.79" x2="166.40" y2="516.79" stroke="#000" stroke-width="2.96" stroke-linecap="butt"/><line x1="179.35" y1="396.88" x2="166.40" y2="396.88" stroke="#000" stroke-width="2.96" stroke-linecap="butt"/><line x1="179.35" y1="276.96" x2="166.40" y2="276.96" stroke="#000" stroke-width="2.96" stroke-linecap="butt"/><line x1="179.35" y1="157.05" x2="166.40" y2="157.05" stroke="#000" stroke-width="2.96" stroke-linecap="butt"/><line x1="179.35" y1="600.60" x2="171.95" y2="600.60" stroke="#000" stroke-width="2.22" stroke-linecap="butt"/><line x1="179.35" y1="579.49" x2="171.95" y2="579.49" stroke="#000" stroke-width="2.22" stroke-linecap="butt"/><line x1="179.35" y1="564.51" x2="171.95" y2="564.51" stroke="#000" stroke-width="2.22" stroke-linecap="butt"/><line x1="179.35" y1="552.88" x2="171.95" y2="552.88" stroke="#000" stroke-width="2.22" stroke-linecap="butt"/><line x1="179.35" y1="543.39" x2="171.95" y2="543.39" stroke="#000" stroke-width="2.22" stroke-linecap="butt"/><line x1="179.35" y1="535.36" x2="171.95" y2="535.36" stroke="#000" stroke-width="2.22" stroke-linecap="butt"/><line x1="179.35" y1="528.41" x2="171.95" y2="528.41" stroke="#000" stroke-width="2.22" stroke-linecap="butt"/><line x1="179.35" y1="522.27" x2="171.95" y2="522.27" stroke="#000" stroke-width="2.22" stroke-linecap="butt"/><line x1="179.35" y1="480.69" x2="171.95" y2="480.69" stroke="#000" stroke-width="2.22" stroke-linecap="butt"/><line x1="179.35" y1="459.57" x2="171.95" y2="459.57" stroke="#000" stroke-width="2.22" stroke-linecap="butt"/><line x1="179.35" y1="444.59" x2="171.95" y2="444.59" stroke="#000" stroke-width="2.22" stroke-linecap="butt"/><line x1="179.35" y1="432.97" x2="171.95" y2="432.97" stroke="#000" stroke-width="2.22" stroke-linecap="butt"/><line x1="179.35" y1="423.48" x2="171.95" y2="423.48" stroke="#000" stroke-width="2.22" stroke-linecap="butt"/><line x1="179.35" y1="415.45" x2="171.95" y2="415.45" stroke="#000" stroke-width="2.22" stroke-linecap="butt"/><line x1="179.35" y1="408.50" x2="171.95" y2="408.50" stroke="#000" stroke-width="2.22" stroke-linecap="butt"/><line x1="179.35" y1="402.36" x2="171.95" y2="402.36" stroke="#000" stroke-width="2.22" stroke-linecap="butt"/><line x1="179.35" y1="360.78" x2="171.95" y2="360.78" stroke="#000" stroke-width="2.22" stroke-linecap="butt"/><line x1="179.35" y1="339.66" x2="171.95" y2="339.66" stroke="#000" stroke-width="2.22" stroke-linecap="butt"/><line x1="179.35" y1="324.68" x2="171.95" y2="324.68" stroke="#000" stroke-width="2.22" stroke-linecap="butt"/><line x1="179.35" y1="313.06" x2="171.95" y2="313.06" stroke="#000" stroke-width="2.22" stroke-linecap="butt"/><line x1="179.35" y1="303.56" x2="171.95" y2="303.56" stroke="#000" stroke-width="2.22" stroke-linecap="butt"/><line x1="179.35" y1="295.54" x2="171.95" y2="295.54" stroke="#000" stroke-width="2.22" stroke-linecap="butt"/><line x1="179.35" y1="288.58" x2="171.95" y2="288.58" stroke="#000" stroke-width="2.22" stroke-linecap="butt"/><line x1="179.35" y1="282.45" x2="171.95" y2="282.45" stroke="#000" stroke-width="2.22" stroke-linecap="butt"/><line x1="179.35" y1="240.87" x2="171.95" y2="240.87" stroke="#000" stroke-width="2.22" stroke-linecap="butt"/><line x1="179.35" y1="219.75" x2="171.95" y2="219.75" stroke="#000" stroke-width="2.22" stroke-linecap="butt"/><line x1="179.35" y1="204.77" x2="171.95" y2="204.77" stroke="#000" stroke-width="2.22" stroke-linecap="butt"/><line x1="179.35" y1="193.15" x2="171.95" y2="193.15" stroke="#000" stroke-width="2.22" stroke-linecap="butt"/><line x1="179.35" y1="183.65" x2="171.95" y2="183.65" stroke="#000" stroke-width="2.22" stroke-linecap="butt"/><line x1="179.35" y1="175.62" x2="171.95" y2="175.62" stroke="#000" stroke-width="2.22" stroke-linecap="butt"/><line x1="179.35" y1="168.67" x2="171.95" y2="168.67" stroke="#000" stroke-width="2.22" stroke-linecap="butt"/><line x1="179.35" y1="162.54" x2="171.95" y2="162.54" stroke="#000" stroke-width="2.22" stroke-linecap="butt"/><line x1="179.35" y1="120.95" x2="171.95" y2="120.95" stroke="#000" stroke-width="2.22" stroke-linecap="butt"/><line x1="179.35" y1="99.84" x2="171.95" y2="99.84" stroke="#000" stroke-width="2.22" stroke-linecap="butt"/></g>
<g><text x="179.35" y="688.50" text-anchor="middle" font-size="37.0">0</text><text x="308.40" y="688.50" text-anchor="middle" font-size="37.0">50</text><text x="437.46" y="688.50" text-anchor="middle" font-size="37.0">100</text><text x="566.51" y="688.50" text-anchor="middle" font-size="37.0">150</text><text x="695.57" y="688.50" text-anchor="middle" font-size="37.0">200</text><text x="824.62" y="688.50" text-anchor="middle" font-size="37.0">250</text><text x="953.68" y="688.50" text-anchor="middle" font-size="37.0">300</text><text x="179.35" y="66.60" text-anchor="middle" font-size="37.0">0</text><text x="286.15" y="66.60" text-anchor="middle" font-size="37.0">5</text><text x="392.96" y="66.60" text-anchor="middle" font-size="37.0">10</text><text x="499.76" y="66.60" text-anchor="middle" font-size="37.0">15</text><text x="606.57" y="66.60" text-anchor="middle" font-size="37.0">20</text><text x="713.38" y="66.60" text-anchor="middle" font-size="37.0">25</text><text x="820.18" y="66.60" text-anchor="middle" font-size="37.0">30</text><text x="926.99" y="66.60" text-anchor="middle" font-size="37.0">35</text><text y="648.95" font-size="37.0"><tspan x="68.70">10</tspan><tspan x="105.00" y="639.30" font-size="31.9">−</tspan><tspan x="123.70" y="635.75" font-size="25.90">21</tspan></text><text y="529.04" font-size="37.0"><tspan x="68.70">10</tspan><tspan x="105.00" y="519.39" font-size="31.9">−</tspan><tspan x="123.70" y="515.84" font-size="25.90">20</tspan></text><text y="409.12" font-size="37.0"><tspan x="68.70">10</tspan><tspan x="105.00" y="399.48" font-size="31.9">−</tspan><tspan x="123.70" y="395.93" font-size="25.90">19</tspan></text><text y="289.21" font-size="37.0"><tspan x="68.70">10</tspan><tspan x="105.00" y="279.56" font-size="31.9">−</tspan><tspan x="123.70" y="276.01" font-size="25.90">18</tspan></text><text y="169.30" font-size="37.0"><tspan x="68.70">10</tspan><tspan x="105.00" y="159.65" font-size="31.9">−</tspan><tspan x="123.70" y="156.10" font-size="25.90">17</tspan></text></g>
<text x="591.32" y="736.10" text-anchor="middle" font-size="37.0">r [kpc]</text>
<text y="24.8" font-size="37.0"><tspan x="410.50" font-style="italic">r</tspan><tspan x="434.60">[arcsec] at</tspan><tspan x="597.40" font-style="italic">z</tspan><tspan x="612.00" y="30.8" font-size="25.90">median</tspan><tspan x="724.80" y="24.8">2.5</tspan></text>
<text transform="translate(693.20,29.3) scale(1.32,1)" font-size="37.0">=</text>
<text transform="translate(40.00,0) rotate(-90)" font-size="37.0"><tspan x="-672" y="0">surface brightness [</tspan><tspan x="-381.4" y="0">erg</tspan><tspan x="-330.3" y="0">s</tspan><tspan x="-313.7" y="-9.2" font-size="31.9">−</tspan><tspan x="-298" y="-13.2" font-size="25.90">1</tspan><tspan x="-282.5" y="0">cm</tspan><tspan x="-237" y="-9.2" font-size="31.9">−</tspan><tspan x="-219" y="-13.2" font-size="25.90">2</tspan><tspan x="-205" y="0">arcsec</tspan><tspan x="-112.4" y="-9.2" font-size="31.9">−</tspan><tspan x="-94.6" y="-13.2" font-size="25.90">2</tspan><tspan x="-79.1" y="0">]</tspan></text>
<g><line x1="1371.45" y1="99.75" x2="1371.45" y2="636.70" stroke="#d5d5d5" stroke-width="2.96" stroke-linecap="butt"/><line x1="1500.51" y1="99.75" x2="1500.51" y2="636.70" stroke="#d5d5d5" stroke-width="2.96" stroke-linecap="butt"/><line x1="1629.56" y1="99.75" x2="1629.56" y2="636.70" stroke="#d5d5d5" stroke-width="2.96" stroke-linecap="butt"/><line x1="1758.62" y1="99.75" x2="1758.62" y2="636.70" stroke="#d5d5d5" stroke-width="2.96" stroke-linecap="butt"/><line x1="1887.67" y1="99.75" x2="1887.67" y2="636.70" stroke="#d5d5d5" stroke-width="2.96" stroke-linecap="butt"/><line x1="2016.73" y1="99.75" x2="2016.73" y2="636.70" stroke="#d5d5d5" stroke-width="2.96" stroke-linecap="butt"/><line x1="1242.40" y1="516.79" x2="2068.35" y2="516.79" stroke="#d5d5d5" stroke-width="2.96" stroke-linecap="butt"/><line x1="1242.40" y1="396.88" x2="2068.35" y2="396.88" stroke="#d5d5d5" stroke-width="2.96" stroke-linecap="butt"/><line x1="1242.40" y1="276.96" x2="2068.35" y2="276.96" stroke="#d5d5d5" stroke-width="2.96" stroke-linecap="butt"/><line x1="1242.40" y1="157.05" x2="2068.35" y2="157.05" stroke="#d5d5d5" stroke-width="2.96" stroke-linecap="butt"/></g>
<g clip-path="url(#clip1)" fill="none" stroke-width="5.7" stroke-linejoin="round" stroke-linecap="square">
<path d="M1243.08,161.64 L1243.84,162.32 L1244.58,163.00 L1245.31,163.69 L1246.03,164.39 L1246.74,165.10 L1247.44,165.81 L1248.13,166.52 L1248.81,167.25 L1249.48,167.98 L1250.14,168.72 L1250.79,169.46 L1251.43,170.21 L1252.06,170.96 L1252.68,171.73 L1253.29,172.49 L1253.90,173.27 L1254.49,174.04 L1255.08,174.83 L1255.65,175.62 L1256.22,176.41 L1256.78,177.21 L1257.34,178.02 L1257.88,178.83 L1258.42,179.65 L1258.95,180.47 L1259.47,181.29 L1259.98,182.13 L1260.49,182.96 L1260.99,183.80 L1261.48,184.65 L1261.96,185.50 L1262.44,186.35 L1262.91,187.21 L1263.38,188.07 L1263.83,188.94 L1264.29,189.81 L1264.73,190.68 L1265.17,191.56 L1265.61,192.44 L1266.03,193.33 L1266.46,194.21 L1266.87,195.11 L1267.29,196.00 L1267.69,196.90 L1268.10,197.81 L1268.49,198.71 L1268.88,199.62 L1269.27,200.53 L1269.65,201.45 L1270.03,202.36 L1270.41,203.29 L1270.78,204.21 L1271.14,205.13 L1271.51,206.06 L1271.86,206.99 L1272.22,207.92 L1272.57,208.86 L1272.92,209.80 L1273.27,210.73 L1273.61,211.68 L1273.95,212.62 L1274.28,213.56 L1274.62,214.51 L1274.95,215.46 L1275.28,216.40 L1275.61,217.36 L1275.93,218.31 L1276.26,219.26 L1276.58,220.21 L1276.90,221.17 L1277.22,222.12 L1277.53,223.08 L1277.85,224.04 L1278.16,225.00 L1278.48,225.96 L1278.79,226.92 L1279.10,227.88 L1279.41,228.84 L1279.72,229.80 L1280.04,230.76 L1280.35,231.72 L1280.66,232.68 L1280.97,233.64 L1281.28,234.60 L1281.59,235.56 L1281.90,236.52 L1282.21,237.48 L1282.53,238.44 L1282.84,239.40 L1283.15,240.36 L1283.46,241.32 L1283.78,242.28 L1284.09,243.24 L1284.41,244.20 L1284.72,245.15 L1285.04,246.11 L1285.35,247.07 L1285.67,248.03 L1285.99,248.98 L1286.31,249.94 L1286.63,250.90 L1286.95,251.85 L1287.27,252.81 L1287.59,253.76 L1287.91,254.71 L1288.23,255.67 L1288.56,256.62 L1288.88,257.57 L1289.21,258.52 L1289.54,259.47 L1289.87,260.42 L1290.20,261.37 L1290.53,262.32 L1290.86,263.27 L1291.20,264.22 L1291.53,265.17 L1291.87,266.11 L1292.21,267.06 L1292.55,268.00 L1292.89,268.95 L1293.23,269.89 L1293.57,270.83 L1293.92,271.77 L1294.27,272.71 L1294.62,273.65 L1294.97,274.59 L1295.32,275.53 L1295.67,276.46 L1296.03,277.40 L1296.39,278.33 L1296.75,279.27 L1297.11,280.20 L1297.48,281.13 L1297.84,282.06 L1298.21,282.99 L1298.58,283.91 L1298.95,284.84 L1299.33,285.77 L1299.70,286.69 L1300.08,287.61 L1300.47,288.54 L1300.85,289.46 L1301.24,290.37 L1301.62,291.29 L1302.01,292.21 L1302.41,293.12 L1302.80,294.04 L1303.20,294.95 L1303.60,295.86 L1304.01,296.77 L1304.41,297.68 L1304.82,298.58 L1305.23,299.49 L1305.65,300.39 L1306.07,301.30 L1306.49,302.20 L1306.91,303.10 L1307.33,304.00 L1307.76,304.89 L1308.19,305.79 L1308.62,306.68 L1309.06,307.57 L1309.50,308.47 L1309.94,309.36 L1310.38,310.24 L1310.83,311.13 L1311.28,312.02 L1311.73,312.90 L1312.19,313.78 L1312.65,314.66 L1313.11,315.54 L1313.57,316.42 L1314.04,317.30 L1314.51,318.17 L1314.98,319.05 L1315.46,319.92 L1315.94,320.79 L1316.42,321.66 L1316.90,322.53 L1317.39,323.39 L1317.88,324.26 L1318.38,325.12 L1318.88,325.98 L1319.38,326.84 L1319.88,327.70 L1320.39,328.56 L1320.90,329.41 L1321.41,330.27 L1321.92,331.12 L1322.44,331.97 L1322.96,332.82 L1323.49,333.67 L1324.02,334.51 L1324.55,335.36 L1325.08,336.20 L1325.62,337.04 L1326.16,337.88 L1326.70,338.72 L1327.24,339.56 L1327.79,340.39 L1328.34,341.23 L1328.89,342.06 L1329.44,342.89 L1330.00,343.72 L1330.56,344.55 L1331.12,345.37 L1331.68,346.19 L1332.25,347.02 L1332.82,347.84 L1333.39,348.66 L1333.96,349.47 L1334.54,350.29 L1335.12,351.10 L1335.70,351.92 L1336.28,352.73 L1336.86,353.54 L1337.45,354.34 L1338.03,355.15 L1338.62,355.95 L1339.22,356.76 L1339.81,357.56 L1340.41,358.36 L1341.00,359.15 L1341.60,359.95 L1342.20,360.74 L1342.81,361.54 L1343.41,362.33 L1344.01,363.12 L1344.62,363.90 L1345.23,364.69 L1345.84,365.48 L1346.45,366.26 L1347.07,367.04 L1347.68,367.82 L1348.30,368.60 L1348.91,369.38 L1349.53,370.16 L1350.15,370.94 L1350.77,371.71 L1351.39,372.49 L1352.02,373.26 L1352.64,374.03 L1353.27,374.81 L1353.89,375.58 L1354.52,376.35 L1355.15,377.12 L1355.77,377.88 L1356.40,378.65 L1357.03,379.42 L1357.66,380.19 L1358.29,380.95 L1358.93,381.72 L1359.56,382.49 L1360.19,383.25 L1360.82,384.02 L1361.46,384.78 L1362.09,385.55 L1362.73,386.31 L1363.36,387.07 L1364.00,387.84 L1364.63,388.60 L1365.27,389.37 L1365.90,390.13 L1366.54,390.89 L1367.17,391.66 L1367.81,392.42 L1368.44,393.19 L1369.08,393.95 L1369.72,394.72 L1370.35,395.48 L1370.99,396.25 L1371.62,397.01 L1372.25,397.78 L1372.89,398.55 L1373.52,399.31 L1374.16,400.08 L1374.79,400.85 L1375.42,401.62 L1376.05,402.39 L1376.68,403.16 L1377.31,403.93 L1377.94,404.71 L1378.57,405.48 L1379.20,406.25 L1379.83,407.03 L1380.46,407.80 L1381.09,408.57 L1381.72,409.35 L1382.35,410.12 L1382.98,410.90 L1383.61,411.68 L1384.24,412.45 L1384.86,413.23 L1385.49,414.00 L1386.12,414.78 L1386.75,415.55 L1387.39,416.33 L1388.02,417.10 L1388.65,417.88 L1389.28,418.65 L1389.92,419.42 L1390.55,420.19 L1391.19,420.97 L1391.82,421.74 L1392.46,422.51 L1393.10,423.28 L1393.74,424.05 L1394.38,424.81 L1395.02,425.58 L1395.67,426.35 L1396.31,427.11 L1396.96,427.87 L1397.61,428.63 L1398.26,429.40 L1398.91,430.15 L1399.56,430.91 L1400.22,431.67 L1400.87,432.42 L1401.53,433.18 L1402.19,433.93 L1402.86,434.68 L1403.52,435.43 L1404.19,436.17 L1404.86,436.92 L1405.53,437.66 L1406.20,438.40 L1406.87,439.14 L1407.55,439.88 L1408.23,440.62 L1408.91,441.35 L1409.59,442.08 L1410.27,442.81 L1410.96,443.54 L1411.65,444.27 L1412.34,444.99 L1413.03,445.72 L1413.72,446.44 L1414.42,447.15 L1415.11,447.87 L1415.81,448.59 L1416.51,449.30 L1417.22,450.01 L1417.92,450.72 L1418.63,451.42 L1419.34,452.13 L1420.05,452.83 L1420.76,453.53 L1421.48,454.22 L1422.20,454.92 L1422.92,455.61 L1423.64,456.30 L1424.36,456.99 L1425.09,457.68 L1425.81,458.36 L1426.54,459.04 L1427.27,459.72 L1428.01,460.39 L1428.74,461.07 L1429.48,461.74 L1430.22,462.41 L1430.96,463.07 L1431.70,463.74 L1432.45,464.40 L1433.19,465.06 L1433.94,465.71 L1434.69,466.36 L1435.45,467.01 L1436.20,467.66 L1436.96,468.31 L1437.72,468.95 L1438.48,469.59 L1439.24,470.22 L1440.01,470.86 L1440.78,471.49 L1441.55,472.12 L1442.32,472.74 L1443.09,473.36 L1443.87,473.98 L1444.64,474.60 L1445.42,475.21 L1446.20,475.82 L1446.99,476.43 L1447.77,477.03 L1448.56,477.64 L1449.35,478.23 L1450.14,478.83 L1450.94,479.42 L1451.74,480.01 L1452.53,480.60 L1453.33,481.18 L1454.14,481.76 L1454.94,482.34 L1455.75,482.91 L1456.55,483.48 L1457.36,484.05 L1458.18,484.62 L1458.99,485.18 L1459.81,485.75 L1460.62,486.30 L1461.44,486.86 L1462.26,487.41 L1463.09,487.96 L1463.91,488.51 L1464.74,489.06 L1465.57,489.60 L1466.40,490.14 L1467.23,490.68 L1468.07,491.22 L1468.90,491.75 L1469.74,492.28 L1470.58,492.81 L1471.42,493.34 L1472.26,493.87 L1473.11,494.39 L1473.95,494.91 L1474.80,495.43 L1475.65,495.94 L1476.50,496.46 L1477.36,496.97 L1478.21,497.48 L1479.07,497.99 L1479.92,498.50 L1480.78,499.00 L1481.64,499.51 L1482.51,500.01 L1483.37,500.51 L1484.24,501.00 L1485.10,501.50 L1485.97,501.99 L1486.84,502.49 L1487.72,502.98 L1488.59,503.46 L1489.46,503.95 L1490.34,504.44 L1491.22,504.92 L1492.10,505.41 L1492.98,505.89 L1493.86,506.37 L1494.74,506.85 L1495.63,507.32 L1496.52,507.80 L1497.40,508.27 L1498.29,508.75 L1499.18,509.22 L1500.08,509.69 L1500.97,510.16 L1501.86,510.63 L1502.76,511.09 L1503.66,511.56 L1504.55,512.02 L1505.45,512.49 L1506.35,512.95 L1507.26,513.41 L1508.16,513.86 L1509.06,514.32 L1509.97,514.77 L1510.88,515.22 L1511.79,515.67 L1512.70,516.12 L1513.61,516.57 L1514.52,517.01 L1515.43,517.45 L1516.34,517.89 L1517.26,518.33 L1518.18,518.76 L1519.09,519.20 L1520.01,519.63 L1520.93,520.05 L1521.85,520.48 L1522.77,520.90 L1523.70,521.32 L1524.62,521.74 L1525.54,522.15 L1526.47,522.56 L1527.40,522.97 L1528.32,523.37 L1529.25,523.77 L1530.18,524.17 L1531.11,524.57 L1532.04,524.96 L1532.97,525.35 L1533.91,525.73 L1534.84,526.12 L1535.78,526.49 L1536.71,526.87 L1537.65,527.24 L1538.59,527.61 L1539.52,527.97 L1540.46,528.33 L1541.40,528.69 L1542.34,529.04 L1543.29,529.39 L1544.23,529.73 L1545.17,530.08 L1546.11,530.41 L1547.06,530.75 L1548.00,531.08 L1548.95,531.40 L1549.90,531.73 L1550.84,532.05 L1551.79,532.36 L1552.74,532.68 L1553.69,532.99 L1554.64,533.29 L1555.59,533.60 L1556.54,533.90 L1557.49,534.20 L1558.45,534.49 L1559.40,534.78 L1560.35,535.07 L1561.31,535.36 L1562.26,535.64 L1563.22,535.93 L1564.17,536.20 L1565.13,536.48 L1566.08,536.76 L1567.04,537.03 L1568.00,537.30 L1568.96,537.56 L1569.92,537.83 L1570.87,538.09 L1571.83,538.36 L1572.79,538.61 L1573.75,538.87 L1574.71,539.13 L1575.67,539.38 L1576.64,539.63 L1577.60,539.88 L1578.56,540.13 L1579.52,540.38 L1580.48,540.63 L1581.45,540.87 L1582.41,541.11 L1583.37,541.36 L1584.34,541.60 L1585.30,541.84 L1586.27,542.07 L1587.23,542.31 L1588.20,542.55 L1589.16,542.78 L1590.13,543.02 L1591.09,543.25 L1592.06,543.48 L1593.02,543.71 L1593.99,543.94 L1594.96,544.17 L1595.92,544.40 L1596.89,544.62 L1597.86,544.85 L1598.82,545.07 L1599.79,545.29 L1600.76,545.51 L1601.73,545.73 L1602.70,545.95 L1603.66,546.17 L1604.63,546.39 L1605.60,546.60 L1606.57,546.82 L1607.54,547.03 L1608.51,547.25 L1609.48,547.46 L1610.45,547.67 L1611.42,547.88 L1612.39,548.09 L1613.36,548.29 L1614.34,548.50 L1615.31,548.71 L1616.28,548.91 L1617.25,549.12 L1618.22,549.32 L1619.19,549.52 L1620.17,549.72 L1621.14,549.92 L1622.11,550.12 L1623.09,550.31 L1624.06,550.51 L1625.03,550.71 L1626.01,550.90 L1626.98,551.10 L1627.96,551.29 L1628.93,551.48 L1629.91,551.67 L1630.88,551.86 L1631.86,552.05 L1632.83,552.24 L1633.81,552.42 L1634.78,552.61 L1635.76,552.79 L1636.74,552.98 L1637.71,553.16 L1638.69,553.34 L1639.67,553.52 L1640.64,553.70 L1641.62,553.88 L1642.60,554.06 L1643.57,554.24 L1644.55,554.42 L1645.53,554.59 L1646.51,554.77 L1647.49,554.94 L1648.47,555.12 L1649.45,555.29 L1650.42,555.46 L1651.40,555.63 L1652.38,555.80 L1653.36,555.97 L1654.34,556.14 L1655.32,556.30 L1656.30,556.47 L1657.28,556.64 L1658.26,556.80 L1659.25,556.96 L1660.23,557.13 L1661.21,557.29 L1662.19,557.45 L1663.17,557.61 L1664.15,557.77 L1665.13,557.93 L1666.12,558.09 L1667.10,558.25 L1668.08,558.40 L1669.06,558.56 L1670.05,558.71 L1671.03,558.87 L1672.01,559.02 L1673.00,559.17 L1673.98,559.32 L1674.96,559.48 L1675.95,559.63 L1676.93,559.78 L1677.92,559.92 L1678.90,560.07 L1679.88,560.22 L1680.87,560.37 L1681.85,560.51 L1682.84,560.66 L1683.82,560.80 L1684.81,560.95 L1685.80,561.09 L1686.78,561.23 L1687.77,561.37 L1688.75,561.51 L1689.74,561.65 L1690.73,561.79 L1691.71,561.93 L1692.70,562.07 L1693.69,562.21 L1694.67,562.35 L1695.66,562.48 L1696.65,562.62 L1697.64,562.75 L1698.62,562.89 L1699.61,563.02 L1700.60,563.15 L1701.59,563.29 L1702.58,563.42 L1703.56,563.55 L1704.55,563.68 L1705.54,563.81 L1706.53,563.94 L1707.52,564.07 L1708.51,564.19 L1709.50,564.32 L1710.49,564.45 L1711.48,564.57 L1712.47,564.70 L1713.46,564.83 L1714.45,564.95 L1715.44,565.07 L1716.43,565.20 L1717.42,565.32 L1718.41,565.44 L1719.40,565.56 L1720.39,565.68 L1721.38,565.80 L1722.37,565.92 L1723.36,566.04 L1724.35,566.16 L1725.34,566.28 L1726.34,566.40 L1727.33,566.52 L1728.32,566.63 L1729.31,566.75 L1730.30,566.86 L1731.30,566.98 L1732.29,567.09 L1733.28,567.21 L1734.27,567.32 L1735.27,567.44 L1736.26,567.55 L1737.25,567.66 L1738.24,567.77 L1739.24,567.88 L1740.23,567.99 L1741.22,568.10 L1742.22,568.21 L1743.21,568.32 L1744.21,568.43 L1745.20,568.54 L1746.19,568.65 L1747.19,568.76 L1748.18,568.86 L1749.18,568.97 L1750.17,569.08 L1751.16,569.18 L1752.16,569.29 L1753.15,569.39 L1754.15,569.50 L1755.14,569.60 L1756.14,569.71 L1757.13,569.81 L1758.13,569.91 L1759.12,570.02 L1760.12,570.12 L1761.12,570.22 L1762.11,570.32 L1763.11,570.42 L1764.10,570.53 L1765.10,570.63 L1766.09,570.73 L1767.09,570.83 L1768.09,570.93 L1769.08,571.03 L1770.08,571.12 L1771.08,571.22 L1772.07,571.32 L1773.07,571.42 L1774.07,571.52 L1775.06,571.61 L1776.06,571.71 L1777.06,571.81 L1778.05,571.90 L1779.05,572.00 L1780.05,572.10 L1781.04,572.19 L1782.04,572.29 L1783.04,572.38 L1784.04,572.48 L1785.03,572.57 L1786.03,572.66 L1787.03,572.76 L1788.03,572.85 L1789.03,572.95 L1790.02,573.04 L1791.02,573.13 L1792.02,573.22 L1793.02,573.32 L1794.02,573.41 L1795.01,573.50 L1796.01,573.59 L1797.01,573.68 L1798.01,573.77 L1799.01,573.87 L1800.01,573.96 L1801.01,574.05 L1802.00,574.14 L1803.00,574.23 L1804.00,574.32 L1805.00,574.41 L1806.00,574.50 L1807.00,574.59 L1808.00,574.68 L1809.00,574.76 L1810.00,574.85 L1811.00,574.94 L1811.99,575.03 L1812.99,575.12 L1813.99,575.21 L1814.99,575.29 L1815.99,575.38 L1816.99,575.47 L1817.99,575.55 L1818.99,575.64 L1819.99,575.73 L1820.99,575.81 L1821.99,575.90 L1822.99,575.99 L1823.99,576.07 L1824.99,576.16 L1825.99,576.24 L1826.99,576.33 L1827.99,576.41 L1828.99,576.50 L1829.99,576.58 L1830.99,576.67 L1831.99,576.75 L1832.99,576.83 L1833.99,576.92 L1834.99,577.00 L1835.99,577.09 L1836.99,577.17 L1837.99,577.25 L1838.99,577.33 L1839.99,577.42 L1840.99,577.50 L1841.99,577.58 L1842.99,577.66 L1843.99,577.75 L1844.99,577.83 L1846.00,577.91 L1847.00,577.99 L1848.00,578.07 L1849.00,578.15 L1850.00,578.23 L1851.00,578.31 L1852.00,578.39 L1853.00,578.47 L1854.00,578.55 L1855.00,578.63 L1856.00,578.71 L1857.00,578.79 L1858.00,578.87 L1859.00,578.95 L1860.00,579.03 L1861.01,579.11 L1862.01,579.19 L1863.01,579.27 L1864.01,579.34 L1865.01,579.42 L1866.01,579.50 L1867.01,579.58 L1868.01,579.65 L1869.01,579.73 L1870.01,579.81 L1871.01,579.89 L1872.01,579.96 L1873.01,580.04 L1874.02,580.12 L1875.02,580.19 L1876.02,580.27 L1877.02,580.35 L1878.02,580.42 L1879.02,580.50 L1880.02,580.57 L1881.02,580.65 L1882.02,580.72 L1883.02,580.80 L1884.02,580.87 L1885.02,580.95 L1886.02,581.02 L1887.02,581.10 L1888.03,581.17 L1889.03,581.25 L1890.03,581.32 L1891.03,581.39 L1892.03,581.47 L1893.03,581.54 L1894.03,581.61 L1895.03,581.69 L1896.03,581.76 L1897.03,581.83 L1898.03,581.91 L1899.03,581.98 L1900.03,582.05 L1901.03,582.12 L1902.03,582.20 L1903.03,582.27 L1904.03,582.34 L1905.03,582.41 L1906.03,582.48 L1907.03,582.56 L1908.03,582.63 L1909.03,582.70 L1910.03,582.77 L1911.03,582.84 L1912.03,582.91 L1913.03,582.98 L1914.03,583.05 L1915.03,583.12 L1916.03,583.19 L1917.03,583.26 L1918.03,583.33 L1919.03,583.40 L1920.03,583.47 L1921.03,583.54 L1922.03,583.61 L1923.03,583.68 L1924.03,583.75 L1925.03,583.82 L1926.03,583.89 L1927.03,583.96 L1928.03,584.03 L1929.03,584.10 L1930.03,584.16 L1931.03,584.23 L1932.03,584.30 L1933.02,584.37 L1934.02,584.44 L1935.02,584.51 L1936.02,584.57 L1937.02,584.64 L1938.02,584.71 L1939.02,584.78 L1940.02,584.84 L1941.01,584.91 L1942.01,584.98 L1943.01,585.05 L1944.01,585.11 L1945.01,585.18 L1946.01,585.25 L1947.00,585.31 L1948.00,585.38 L1949.00,585.45 L1950.00,585.51 L1951.00,585.58 L1951.99,585.64 L1952.99,585.71 L1953.99,585.78 L1954.99,585.84 L1955.98,585.91 L1956.98,585.97 L1957.98,586.04 L1958.98,586.10 L1959.97,586.17 L1960.97,586.24 L1961.97,586.30 L1962.96,586.37 L1963.96,586.43 L1964.96,586.49 L1965.95,586.56 L1966.95,586.62 L1967.95,586.69 L1968.94,586.75 L1969.94,586.82 L1970.94,586.88 L1971.93,586.95 L1972.93,587.01 L1973.93,587.07 L1974.92,587.14 L1975.92,587.20 L1976.91,587.27 L1977.91,587.33 L1978.90,587.39 L1979.90,587.46 L1980.89,587.52 L1981.89,587.58 L1982.88,587.65 L1983.88,587.71 L1984.87,587.77 L1985.87,587.84 L1986.86,587.90 L1987.86,587.96 L1988.85,588.02 L1989.85,588.09 L1990.84,588.15 L1991.84,588.21 L1992.83,588.28 L1993.82,588.34 L1994.82,588.40 L1995.81,588.46 L1996.81,588.52 L1997.80,588.59 L1998.79,588.65 L1999.79,588.71 L2000.78,588.77 L2001.77,588.84 L2002.76,588.90 L2003.76,588.96 L2004.75,589.02 L2005.74,589.08 L2006.74,589.14 L2007.73,589.21 L2008.72,589.27 L2009.71,589.33 L2010.70,589.39 L2011.70,589.45 L2012.69,589.51 L2013.68,589.57 L2014.67,589.63 L2015.66,589.70 L2016.65,589.76 L2017.64,589.82 L2018.64,589.88 L2019.63,589.94 L2020.62,590.00 L2021.61,590.06 L2022.60,590.12 L2023.59,590.18 L2024.58,590.24 L2025.57,590.30 L2026.56,590.36 L2027.55,590.42 L2028.54,590.49 L2029.53,590.55 L2030.52,590.61 L2031.50,590.67 L2032.49,590.73 L2033.48,590.79 L2034.47,590.85 L2035.46,590.91 L2036.45,590.97 L2037.44,591.03 L2038.42,591.09 L2039.41,591.15 L2040.40,591.21 L2041.39,591.27 L2042.38,591.33 L2043.36,591.39 L2044.35,591.45 L2045.34,591.51 L2046.32,591.57 L2047.31,591.63 L2048.30,591.69 L2049.28,591.75 L2050.27,591.81 L2051.26,591.87 L2052.24,591.93 L2053.23,591.98 L2054.21,592.04 L2055.20,592.10 L2056.18,592.16 L2057.17,592.22 L2058.15,592.28 L2059.14,592.34 L2060.12,592.40 L2061.11,592.46 L2062.09,592.52 L2063.08,592.58 L2064.06,592.64 L2065.04,592.70 L2066.03,592.76 L2067.01,592.82 L2067.99,592.88" stroke="#1f77b4"/>
<path d="M1242.20,520.43 L1243.20,520.26 L1244.21,520.07 L1245.21,519.86 L1246.21,519.64 L1247.21,519.40 L1248.21,519.16 L1249.21,518.89 L1250.21,518.62 L1251.20,518.34 L1252.20,518.05 L1253.19,517.76 L1254.18,517.46 L1255.17,517.15 L1256.16,516.85 L1257.15,516.54 L1258.14,516.22 L1259.13,515.91 L1260.11,515.61 L1261.10,515.30 L1262.08,515.00 L1263.06,514.70 L1264.04,514.41 L1265.02,514.13 L1266.00,513.86 L1266.98,513.59 L1267.95,513.34 L1268.93,513.10 L1269.90,512.88 L1270.87,512.67 L1271.84,512.47 L1272.81,512.30 L1273.78,512.13 L1274.75,511.99 L1275.71,511.86 L1276.68,511.75 L1277.64,511.65 L1278.60,511.57 L1279.56,511.51 L1280.52,511.47 L1281.48,511.44 L1282.43,511.42 L1283.39,511.43 L1284.34,511.45 L1285.29,511.49 L1286.24,511.55 L1287.19,511.63 L1288.14,511.72 L1289.09,511.83 L1290.03,511.96 L1290.97,512.10 L1291.91,512.27 L1292.85,512.45 L1293.79,512.65 L1294.73,512.87 L1295.67,513.11 L1296.60,513.36 L1297.53,513.63 L1298.46,513.91 L1299.39,514.21 L1300.32,514.53 L1301.25,514.86 L1302.17,515.20 L1303.09,515.56 L1304.02,515.93 L1304.94,516.31 L1305.85,516.70 L1306.77,517.11 L1307.69,517.52 L1308.60,517.94 L1309.51,518.38 L1310.42,518.82 L1311.33,519.27 L1312.24,519.73 L1313.14,520.19 L1314.05,520.67 L1314.95,521.15 L1315.85,521.63 L1316.75,522.12 L1317.64,522.61 L1318.54,523.11 L1319.43,523.61 L1320.32,524.12 L1321.21,524.62 L1322.10,525.13 L1322.99,525.64 L1323.87,526.15 L1324.76,526.66 L1325.64,527.17 L1326.52,527.68 L1327.39,528.19 L1328.27,528.69 L1329.14,529.20 L1330.01,529.70 L1330.88,530.19 L1331.75,530.69 L1332.62,531.18 L1333.48,531.66 L1334.35,532.14 L1335.21,532.62 L1336.07,533.09 L1336.92,533.56 L1337.78,534.03 L1338.63,534.50 L1339.48,534.97 L1340.33,535.44 L1341.18,535.91 L1342.02,536.38 L1342.87,536.85 L1343.71,537.33 L1344.55,537.80 L1345.38,538.28 L1346.22,538.76 L1347.05,539.25 L1347.88,539.74 L1348.71,540.24 L1349.54,540.74 L1350.37,541.25 L1351.19,541.77 L1352.01,542.29 L1352.83,542.82 L1353.65,543.36 L1354.46,543.90 L1355.27,544.46 L1356.08,545.02 L1356.89,545.59 L1357.70,546.17 L1358.50,546.76 L1359.31,547.35 L1360.11,547.95 L1360.90,548.56 L1361.70,549.18 L1362.49,549.80 L1363.28,550.42 L1364.07,551.05 L1364.86,551.69 L1365.65,552.33 L1366.43,552.98 L1367.21,553.63 L1367.99,554.28 L1368.76,554.94 L1369.54,555.60 L1370.31,556.27 L1371.08,556.94 L1371.85,557.62 L1372.62,558.29 L1373.38,558.97 L1374.15,559.65 L1374.91,560.34 L1375.67,561.02 L1376.44,561.71 L1377.20,562.40 L1377.95,563.09 L1378.71,563.78 L1379.47,564.48 L1380.23,565.17 L1380.99,565.87 L1381.74,566.56 L1382.50,567.26 L1383.25,567.95 L1384.01,568.65 L1384.76,569.34 L1385.52,570.03 L1386.28,570.73 L1387.03,571.42 L1387.79,572.11 L1388.54,572.79 L1389.30,573.48 L1390.06,574.16 L1390.82,574.85 L1391.58,575.53 L1392.34,576.20 L1393.10,576.87 L1393.86,577.54 L1394.62,578.21 L1395.39,578.87 L1396.16,579.53 L1396.92,580.19 L1397.69,580.84 L1398.46,581.48 L1399.24,582.12 L1400.01,582.76 L1400.79,583.39 L1401.56,584.01 L1402.34,584.63 L1403.13,585.25 L1403.91,585.86 L1404.70,586.46 L1405.49,587.05 L1406.28,587.64 L1407.08,588.22 L1407.87,588.79 L1408.67,589.36 L1409.48,589.92 L1410.28,590.47 L1411.09,591.01 L1411.91,591.54 L1412.72,592.07 L1413.54,592.58 L1414.37,593.09 L1415.19,593.59 L1416.02,594.08 L1416.86,594.56 L1417.69,595.03 L1418.53,595.49 L1419.38,595.95 L1420.22,596.40 L1421.07,596.85 L1421.92,597.29 L1422.78,597.73 L1423.63,598.16 L1424.49,598.59 L1425.34,599.02 L1426.20,599.45 L1427.06,599.88 L1427.92,600.30 L1428.79,600.73 L1429.65,601.16 L1430.51,601.59 L1431.37,602.02 L1432.24,602.46 L1433.10,602.90 L1433.96,603.35 L1434.82,603.80 L1435.68,604.25 L1436.54,604.71 L1437.40,605.18 L1438.25,605.66 L1439.11,606.15 L1439.96,606.64 L1440.81,607.15 L1441.66,607.66 L1442.50,608.17 L1443.35,608.70 L1444.19,609.24 L1445.03,609.78 L1445.87,610.33 L1446.70,610.89 L1447.53,611.45 L1448.36,612.02 L1449.19,612.60 L1450.01,613.19 L1450.83,613.79 L1451.65,614.39 L1452.46,615.00 L1453.28,615.61 L1454.08,616.24 L1454.89,616.87 L1455.69,617.50 L1456.48,618.15 L1457.27,618.80 L1458.06,619.45 L1458.85,620.12 L1459.63,620.79 L1460.40,621.46 L1461.18,622.14 L1461.94,622.83 L1462.71,623.53 L1463.46,624.23 L1464.22,624.93 L1464.97,625.64 L1465.71,626.36 L1466.45,627.08 L1467.18,627.81 L1467.91,628.55 L1468.63,629.29 L1469.35,630.03 L1470.06,630.78 L1470.77,631.53 L1471.47,632.29 L1472.17,633.05 L1472.86,633.81 L1473.54,634.58 L1474.22,635.35 L1474.89,636.12 L1475.55,636.89 L1476.21,637.66 L1476.86,638.43 L1477.51,639.21 L1478.15,639.98 L1478.78,640.75 L1479.40,641.53 L1480.02,642.30 L1480.63,643.07 L1481.24,643.83 L1481.83,644.60 L1482.42,645.36 L1483.01,646.12 L1483.58,646.88 L1484.15,647.63 L1484.71,648.38 L1485.26,649.12 L1485.80,649.86 L1486.34,650.59 L1486.86,651.32 L1487.38,652.04" stroke="#ff7f0e"/>
<path d="M1242.40,451.76 L1243.40,451.66 L1244.40,451.56 L1245.40,451.46 L1246.40,451.37 L1247.40,451.27 L1248.40,451.18 L1249.40,451.09 L1250.40,451.01 L1251.40,450.92 L1252.40,450.84 L1253.40,450.76 L1254.40,450.68 L1255.40,450.60 L1256.40,450.53 L1257.40,450.45 L1258.40,450.38 L1259.40,450.31 L1260.40,450.25 L1261.40,450.18 L1262.40,450.12 L1263.40,450.05 L1264.40,449.99 L1265.40,449.94 L1266.40,449.88 L1267.40,449.82 L1268.40,449.77 L1269.40,449.72 L1270.40,449.67 L1271.40,449.62 L1272.40,449.57 L1273.40,449.53 L1274.40,449.48 L1275.40,449.44 L1276.39,449.40 L1277.39,449.36 L1278.39,449.33 L1279.39,449.29 L1280.39,449.26 L1281.39,449.22 L1282.39,449.19 L1283.39,449.16 L1284.39,449.13 L1285.39,449.11 L1286.39,449.08 L1287.39,449.06 L1288.39,449.03 L1289.39,449.01 L1290.39,448.99 L1291.39,448.97 L1292.39,448.95 L1293.39,448.94 L1294.39,448.92 L1295.38,448.91 L1296.38,448.89 L1297.38,448.88 L1298.38,448.87 L1299.38,448.86 L1300.38,448.85 L1301.38,448.85 L1302.38,448.84 L1303.38,448.83 L1304.38,448.83 L1305.38,448.83 L1306.38,448.82 L1307.38,448.82 L1308.38,448.82 L1309.37,448.82 L1310.37,448.83 L1311.37,448.83 L1312.37,448.83 L1313.37,448.84 L1314.37,448.84 L1315.37,448.85 L1316.37,448.86 L1317.37,448.86 L1318.37,448.87 L1319.37,448.88 L1320.37,448.89 L1321.37,448.90 L1322.36,448.91 L1323.36,448.93 L1324.36,448.94 L1325.36,448.95 L1326.36,448.97 L1327.36,448.98 L1328.36,449.00 L1329.36,449.01 L1330.36,449.03 L1331.36,449.05 L1332.36,449.06 L1333.35,449.08 L1334.35,449.10 L1335.35,449.12 L1336.35,449.14 L1337.35,449.16 L1338.35,449.18 L1339.35,449.20 L1340.35,449.22 L1341.35,449.25 L1342.34,449.27 L1343.34,449.29 L1344.34,449.31 L1345.34,449.34 L1346.34,449.36 L1347.34,449.38 L1348.34,449.41 L1349.34,449.43 L1350.34,449.46 L1351.34,449.48 L1352.33,449.51 L1353.33,449.53 L1354.33,449.55 L1355.33,449.58 L1356.33,449.61 L1357.33,449.63 L1358.33,449.66 L1359.33,449.68 L1360.32,449.71 L1361.32,449.73 L1362.32,449.76 L1363.32,449.78 L1364.32,449.81 L1365.32,449.83 L1366.32,449.86 L1367.32,449.88 L1368.32,449.91 L1369.31,449.93 L1370.31,449.96 L1371.31,449.98 L1372.31,450.01 L1373.31,450.03 L1374.31,450.05 L1375.31,450.08 L1376.31,450.10 L1377.30,450.12 L1378.30,450.15 L1379.30,450.17 L1380.30,450.19 L1381.30,450.21 L1382.30,450.24 L1383.30,450.26 L1384.29,450.28 L1385.29,450.30 L1386.29,450.32 L1387.29,450.34 L1388.29,450.35 L1389.29,450.37 L1390.29,450.39 L1391.28,450.41 L1392.28,450.42 L1393.28,450.44 L1394.28,450.46 L1395.28,450.47 L1396.28,450.49 L1397.28,450.50 L1398.27,450.51 L1399.27,450.52 L1400.27,450.54 L1401.27,450.55 L1402.27,450.56 L1403.27,450.57 L1404.27,450.57 L1405.26,450.58 L1406.26,450.59 L1407.26,450.59 L1408.26,450.60 L1409.26,450.60 L1410.26,450.61 L1411.26,450.61 L1412.25,450.61 L1413.25,450.61 L1414.25,450.61 L1415.25,450.61 L1416.25,450.61 L1417.25,450.61 L1418.24,450.60 L1419.24,450.60 L1420.24,450.59 L1421.24,450.58 L1422.24,450.57 L1423.24,450.56 L1424.24,450.55 L1425.23,450.54 L1426.23,450.53 L1427.23,450.51 L1428.23,450.50 L1429.23,450.48 L1430.23,450.46 L1431.22,450.44 L1432.22,450.42 L1433.22,450.40 L1434.22,450.38 L1435.22,450.35 L1436.22,450.33 L1437.21,450.30 L1438.21,450.27 L1439.21,450.24 L1440.21,450.21 L1441.21,450.18 L1442.21,450.14 L1443.20,450.11 L1444.20,450.07 L1445.20,450.03 L1446.20,449.99 L1447.20,449.95 L1448.20,449.91 L1449.19,449.87 L1450.19,449.82 L1451.19,449.77 L1452.19,449.73 L1453.19,449.68 L1454.18,449.63 L1455.18,449.58 L1456.18,449.53 L1457.18,449.47 L1458.18,449.42 L1459.18,449.37 L1460.17,449.31 L1461.17,449.25 L1462.17,449.19 L1463.17,449.14 L1464.17,449.08 L1465.17,449.02 L1466.16,448.95 L1467.16,448.89 L1468.16,448.83 L1469.16,448.76 L1470.16,448.70 L1471.15,448.63 L1472.15,448.57 L1473.15,448.50 L1474.15,448.43 L1475.15,448.37 L1476.15,448.30 L1477.14,448.23 L1478.14,448.16 L1479.14,448.09 L1480.14,448.02 L1481.14,447.94 L1482.13,447.87 L1483.13,447.80 L1484.13,447.73 L1485.13,447.65 L1486.13,447.58 L1487.12,447.50 L1488.12,447.43 L1489.12,447.35 L1490.12,447.28 L1491.12,447.20 L1492.11,447.13 L1493.11,447.05 L1494.11,446.98 L1495.11,446.90 L1496.11,446.82 L1497.11,446.75 L1498.10,446.67 L1499.10,446.59 L1500.10,446.51 L1501.10,446.44 L1502.10,446.36 L1503.09,446.28 L1504.09,446.20 L1505.09,446.13 L1506.09,446.05 L1507.09,445.97 L1508.08,445.90 L1509.08,445.82 L1510.08,445.74 L1511.08,445.67 L1512.08,445.59 L1513.07,445.51 L1514.07,445.44 L1515.07,445.36 L1516.07,445.29 L1517.07,445.21 L1518.06,445.14 L1519.06,445.06 L1520.06,444.99 L1521.06,444.91 L1522.06,444.84 L1523.05,444.77 L1524.05,444.70 L1525.05,444.62 L1526.05,444.55 L1527.05,444.48 L1528.04,444.41 L1529.04,444.34 L1530.04,444.27 L1531.04,444.20 L1532.04,444.14 L1533.03,444.07 L1534.03,444.00 L1535.03,443.94 L1536.03,443.87 L1537.03,443.81 L1538.02,443.74 L1539.02,443.68 L1540.02,443.62 L1541.02,443.56 L1542.02,443.50 L1543.01,443.44 L1544.01,443.38 L1545.01,443.32 L1546.01,443.27 L1547.01,443.21 L1548.00,443.16 L1549.00,443.11 L1550.00,443.05 L1551.00,443.00 L1552.00,442.95 L1552.99,442.90 L1553.99,442.86 L1554.99,442.81 L1555.99,442.76 L1556.99,442.72 L1557.98,442.68 L1558.98,442.64 L1559.98,442.60 L1560.98,442.56 L1561.97,442.52 L1562.97,442.48 L1563.97,442.45 L1564.97,442.41 L1565.97,442.38 L1566.96,442.35 L1567.96,442.32 L1568.96,442.30 L1569.96,442.27 L1570.96,442.24 L1571.95,442.22 L1572.95,442.20 L1573.95,442.18 L1574.95,442.16 L1575.95,442.15 L1576.94,442.13 L1577.94,442.12 L1578.94,442.11 L1579.94,442.10 L1580.94,442.09 L1581.93,442.08 L1582.93,442.08 L1583.93,442.08 L1584.93,442.08 L1585.92,442.08 L1586.92,442.08 L1587.92,442.09 L1588.92,442.09 L1589.92,442.10 L1590.91,442.11 L1591.91,442.13 L1592.91,442.14 L1593.91,442.16 L1594.91,442.18 L1595.90,442.20 L1596.90,442.22 L1597.90,442.25 L1598.90,442.28 L1599.90,442.31 L1600.89,442.34 L1601.89,442.38 L1602.89,442.41 L1603.89,442.45 L1604.88,442.49 L1605.88,442.53 L1606.88,442.58 L1607.88,442.62 L1608.88,442.67 L1609.87,442.72 L1610.87,442.77 L1611.87,442.82 L1612.87,442.88 L1613.87,442.93 L1614.86,442.99 L1615.86,443.05 L1616.86,443.11 L1617.86,443.17 L1618.86,443.23 L1619.85,443.30 L1620.85,443.36 L1621.85,443.43 L1622.85,443.50 L1623.84,443.57 L1624.84,443.64 L1625.84,443.71 L1626.84,443.78 L1627.84,443.86 L1628.83,443.93 L1629.83,444.01 L1630.83,444.08 L1631.83,444.16 L1632.83,444.24 L1633.82,444.32 L1634.82,444.40 L1635.82,444.48 L1636.82,444.56 L1637.82,444.65 L1638.81,444.73 L1639.81,444.81 L1640.81,444.90 L1641.81,444.98 L1642.81,445.07 L1643.80,445.16 L1644.80,445.24 L1645.80,445.33 L1646.80,445.42 L1647.79,445.50 L1648.79,445.59 L1649.79,445.68 L1650.79,445.77 L1651.79,445.86 L1652.78,445.94 L1653.78,446.03 L1654.78,446.12 L1655.78,446.21 L1656.78,446.30 L1657.77,446.39 L1658.77,446.48 L1659.77,446.56 L1660.77,446.65 L1661.77,446.74 L1662.76,446.83 L1663.76,446.92 L1664.76,447.00 L1665.76,447.09 L1666.76,447.18 L1667.75,447.26 L1668.75,447.35 L1669.75,447.43 L1670.75,447.52 L1671.75,447.60 L1672.74,447.69 L1673.74,447.77 L1674.74,447.85 L1675.74,447.93 L1676.74,448.01 L1677.73,448.09 L1678.73,448.17 L1679.73,448.25 L1680.73,448.33 L1681.73,448.40 L1682.72,448.48 L1683.72,448.55 L1684.72,448.62 L1685.72,448.70 L1686.72,448.77 L1687.71,448.84 L1688.71,448.91 L1689.71,448.97 L1690.71,449.04 L1691.71,449.10 L1692.70,449.17 L1693.70,449.23 L1694.70,449.29 L1695.70,449.35 L1696.70,449.41 L1697.69,449.46 L1698.69,449.52 L1699.69,449.57 L1700.69,449.62 L1701.69,449.67 L1702.68,449.72 L1703.68,449.76 L1704.68,449.81 L1705.68,449.85 L1706.68,449.89 L1707.67,449.93 L1708.67,449.96 L1709.67,450.00 L1710.67,450.03 L1711.67,450.06 L1712.66,450.09 L1713.66,450.12 L1714.66,450.14 L1715.66,450.16 L1716.66,450.18 L1717.65,450.20 L1718.65,450.21 L1719.65,450.23 L1720.65,450.24 L1721.65,450.24 L1722.65,450.25 L1723.64,450.25 L1724.64,450.25 L1725.64,450.25 L1726.64,450.24 L1727.64,450.24 L1728.63,450.23 L1729.63,450.21 L1730.63,450.20 L1731.63,450.18 L1732.63,450.17 L1733.62,450.15 L1734.62,450.12 L1735.62,450.10 L1736.62,450.07 L1737.62,450.05 L1738.62,450.02 L1739.61,449.99 L1740.61,449.95 L1741.61,449.92 L1742.61,449.89 L1743.61,449.85 L1744.60,449.81 L1745.60,449.77 L1746.60,449.74 L1747.60,449.70 L1748.60,449.65 L1749.60,449.61 L1750.59,449.57 L1751.59,449.53 L1752.59,449.48 L1753.59,449.44 L1754.59,449.39 L1755.59,449.35 L1756.58,449.30 L1757.58,449.26 L1758.58,449.21 L1759.58,449.17 L1760.58,449.12 L1761.58,449.08 L1762.57,449.03 L1763.57,448.99 L1764.57,448.94 L1765.57,448.90 L1766.57,448.86 L1767.56,448.81 L1768.56,448.77 L1769.56,448.73 L1770.56,448.69 L1771.56,448.65 L1772.56,448.61 L1773.55,448.57 L1774.55,448.53 L1775.55,448.50 L1776.55,448.46 L1777.55,448.43 L1778.55,448.40 L1779.55,448.36 L1780.54,448.34 L1781.54,448.31 L1782.54,448.28 L1783.54,448.26 L1784.54,448.24 L1785.54,448.22 L1786.53,448.20 L1787.53,448.18 L1788.53,448.17 L1789.53,448.15 L1790.53,448.14 L1791.53,448.14 L1792.52,448.13 L1793.52,448.12 L1794.52,448.12 L1795.52,448.12 L1796.52,448.12 L1797.52,448.12 L1798.52,448.13 L1799.51,448.13 L1800.51,448.14 L1801.51,448.14 L1802.51,448.15 L1803.51,448.16 L1804.51,448.17 L1805.50,448.18 L1806.50,448.19 L1807.50,448.20 L1808.50,448.21 L1809.50,448.22 L1810.50,448.23 L1811.50,448.24 L1812.49,448.25 L1813.49,448.26 L1814.49,448.27 L1815.49,448.29 L1816.49,448.30 L1817.49,448.31 L1818.49,448.32 L1819.48,448.32 L1820.48,448.33 L1821.48,448.34 L1822.48,448.35 L1823.48,448.35 L1824.48,448.36 L1825.48,448.36 L1826.48,448.37 L1827.47,448.37 L1828.47,448.37 L1829.47,448.37 L1830.47,448.37 L1831.47,448.37 L1832.47,448.37 L1833.47,448.37 L1834.46,448.37 L1835.46,448.37 L1836.46,448.37 L1837.46,448.36 L1838.46,448.36 L1839.46,448.36 L1840.46,448.35 L1841.46,448.34 L1842.45,448.34 L1843.45,448.33 L1844.45,448.32 L1845.45,448.32 L1846.45,448.31 L1847.45,448.30 L1848.45,448.29 L1849.45,448.28 L1850.45,448.27 L1851.44,448.26 L1852.44,448.25 L1853.44,448.24 L1854.44,448.23 L1855.44,448.22 L1856.44,448.20 L1857.44,448.19 L1858.44,448.18 L1859.44,448.17 L1860.43,448.15 L1861.43,448.14 L1862.43,448.12 L1863.43,448.11 L1864.43,448.10 L1865.43,448.08 L1866.43,448.07 L1867.43,448.05 L1868.43,448.03 L1869.42,448.02 L1870.42,448.00 L1871.42,447.99 L1872.42,447.97 L1873.42,447.95 L1874.42,447.94 L1875.42,447.92 L1876.42,447.90 L1877.42,447.89 L1878.42,447.87 L1879.42,447.85 L1880.41,447.84 L1881.41,447.82 L1882.41,447.80 L1883.41,447.78 L1884.41,447.77 L1885.41,447.75 L1886.41,447.73 L1887.41,447.71 L1888.41,447.70 L1889.41,447.68 L1890.41,447.66 L1891.40,447.64 L1892.40,447.63 L1893.40,447.61 L1894.40,447.59 L1895.40,447.58 L1896.40,447.56 L1897.40,447.54 L1898.40,447.53 L1899.40,447.51 L1900.40,447.49 L1901.40,447.48 L1902.40,447.46 L1903.40,447.45 L1904.39,447.43 L1905.39,447.42 L1906.39,447.40 L1907.39,447.39 L1908.39,447.37 L1909.39,447.36 L1910.39,447.34 L1911.39,447.33 L1912.39,447.32 L1913.39,447.30 L1914.39,447.29 L1915.39,447.28 L1916.39,447.27 L1917.39,447.26 L1918.39,447.25 L1919.39,447.23 L1920.38,447.22 L1921.38,447.21 L1922.38,447.20 L1923.38,447.20 L1924.38,447.19 L1925.38,447.18 L1926.38,447.17 L1927.38,447.16 L1928.38,447.16 L1929.38,447.15 L1930.38,447.15 L1931.38,447.14 L1932.38,447.14 L1933.38,447.13 L1934.38,447.13 L1935.38,447.13 L1936.38,447.12 L1937.38,447.12 L1938.38,447.12 L1939.38,447.12 L1940.38,447.12 L1941.38,447.12 L1942.37,447.12 L1943.37,447.13 L1944.37,447.13 L1945.37,447.13 L1946.37,447.14 L1947.37,447.14 L1948.37,447.15 L1949.37,447.15 L1950.37,447.16 L1951.37,447.17 L1952.37,447.18 L1953.37,447.19 L1954.37,447.20 L1955.37,447.21 L1956.37,447.22 L1957.37,447.24 L1958.37,447.25 L1959.37,447.26 L1960.37,447.28 L1961.37,447.30 L1962.37,447.31 L1963.37,447.33 L1964.37,447.35 L1965.37,447.37 L1966.37,447.39 L1967.37,447.41 L1968.37,447.44 L1969.37,447.46 L1970.37,447.49 L1971.37,447.51 L1972.37,447.54 L1973.37,447.57 L1974.37,447.60 L1975.37,447.62 L1976.37,447.65 L1977.37,447.69 L1978.37,447.72 L1979.37,447.75 L1980.37,447.78 L1981.37,447.82 L1982.37,447.85 L1983.37,447.88 L1984.37,447.92 L1985.37,447.96 L1986.37,447.99 L1987.37,448.03 L1988.37,448.07 L1989.37,448.11 L1990.37,448.15 L1991.37,448.19 L1992.37,448.23 L1993.37,448.27 L1994.37,448.31 L1995.37,448.35 L1996.37,448.39 L1997.37,448.43 L1998.37,448.47 L1999.37,448.52 L2000.37,448.56 L2001.37,448.60 L2002.38,448.65 L2003.38,448.69 L2004.38,448.73 L2005.38,448.78 L2006.38,448.82 L2007.38,448.87 L2008.38,448.91 L2009.38,448.96 L2010.38,449.00 L2011.38,449.05 L2012.38,449.09 L2013.38,449.14 L2014.38,449.18 L2015.38,449.23 L2016.38,449.27 L2017.38,449.31 L2018.38,449.36 L2019.38,449.40 L2020.38,449.45 L2021.38,449.49 L2022.38,449.54 L2023.39,449.58 L2024.39,449.63 L2025.39,449.67 L2026.39,449.71 L2027.39,449.76 L2028.39,449.80 L2029.39,449.84 L2030.39,449.88 L2031.39,449.93 L2032.39,449.97 L2033.39,450.01 L2034.39,450.05 L2035.39,450.09 L2036.39,450.13 L2037.40,450.17 L2038.40,450.21 L2039.40,450.25 L2040.40,450.29 L2041.40,450.32 L2042.40,450.36 L2043.40,450.40 L2044.40,450.43 L2045.40,450.47 L2046.40,450.50 L2047.40,450.54 L2048.41,450.57 L2049.41,450.60 L2050.41,450.63 L2051.41,450.66 L2052.41,450.70 L2053.41,450.72 L2054.41,450.75 L2055.41,450.78 L2056.41,450.81 L2057.41,450.83 L2058.42,450.86 L2059.42,450.88 L2060.42,450.91 L2061.42,450.93 L2062.42,450.95 L2063.42,450.97 L2064.42,450.99 L2065.42,451.01 L2066.42,451.03 L2067.43,451.04 L2068.43,451.06" stroke="#2ca02c"/>
<path d="M1242.07,535.93 L1243.10,535.86 L1244.13,535.77 L1245.16,535.69 L1246.19,535.59 L1247.22,535.50 L1248.25,535.40 L1249.27,535.29 L1250.30,535.18 L1251.33,535.07 L1252.35,534.95 L1253.38,534.83 L1254.40,534.70 L1255.43,534.57 L1256.45,534.44 L1257.47,534.31 L1258.49,534.17 L1259.52,534.03 L1260.54,533.89 L1261.56,533.74 L1262.58,533.60 L1263.59,533.45 L1264.61,533.30 L1265.63,533.15 L1266.64,532.99 L1267.66,532.84 L1268.67,532.69 L1269.69,532.53 L1270.70,532.37 L1271.71,532.22 L1272.73,532.06 L1273.74,531.91 L1274.75,531.75 L1275.75,531.60 L1276.76,531.44 L1277.77,531.29 L1278.78,531.13 L1279.78,530.98 L1280.79,530.83 L1281.79,530.68 L1282.79,530.53 L1283.79,530.39 L1284.80,530.25 L1285.80,530.10 L1286.80,529.97 L1287.79,529.83 L1288.79,529.70 L1289.79,529.57 L1290.78,529.44 L1291.78,529.32 L1292.77,529.19 L1293.76,529.08 L1294.75,528.97 L1295.74,528.86 L1296.73,528.75 L1297.72,528.65 L1298.71,528.56 L1299.69,528.47 L1300.68,528.38 L1301.66,528.30 L1302.65,528.23 L1303.63,528.16 L1304.61,528.10 L1305.59,528.04 L1306.57,527.99 L1307.54,527.95 L1308.52,527.91 L1309.49,527.88 L1310.47,527.85 L1311.44,527.83 L1312.41,527.82 L1313.38,527.82 L1314.35,527.83 L1315.32,527.84 L1316.29,527.86 L1317.25,527.89 L1318.22,527.93 L1319.18,527.97 L1320.14,528.03 L1321.10,528.09 L1322.06,528.16 L1323.02,528.24 L1323.98,528.32 L1324.93,528.42 L1325.89,528.52 L1326.84,528.64 L1327.79,528.76 L1328.74,528.89 L1329.69,529.02 L1330.64,529.17 L1331.59,529.32 L1332.54,529.48 L1333.48,529.65 L1334.43,529.83 L1335.37,530.01 L1336.31,530.20 L1337.25,530.41 L1338.20,530.61 L1339.13,530.83 L1340.07,531.06 L1341.01,531.29 L1341.95,531.53 L1342.88,531.78 L1343.82,532.03 L1344.75,532.30 L1345.69,532.57 L1346.62,532.85 L1347.55,533.14 L1348.48,533.43 L1349.41,533.73 L1350.34,534.04 L1351.26,534.36 L1352.19,534.69 L1353.12,535.02 L1354.04,535.36 L1354.97,535.71 L1355.89,536.06 L1356.81,536.42 L1357.74,536.79 L1358.66,537.17 L1359.58,537.55 L1360.50,537.93 L1361.42,538.33 L1362.34,538.73 L1363.26,539.13 L1364.18,539.54 L1365.09,539.95 L1366.01,540.37 L1366.93,540.79 L1367.85,541.22 L1368.76,541.65 L1369.68,542.09 L1370.59,542.53 L1371.51,542.97 L1372.43,543.41 L1373.34,543.86 L1374.26,544.31 L1375.17,544.77 L1376.09,545.22 L1377.00,545.68 L1377.92,546.14 L1378.83,546.60 L1379.75,547.06 L1380.67,547.52 L1381.58,547.99 L1382.50,548.45 L1383.41,548.91 L1384.33,549.38 L1385.25,549.84 L1386.17,550.31 L1387.08,550.77 L1388.00,551.24 L1388.92,551.70 L1389.84,552.16 L1390.76,552.62 L1391.68,553.08 L1392.60,553.54 L1393.52,553.99 L1394.44,554.44 L1395.36,554.89 L1396.29,555.34 L1397.21,555.78 L1398.13,556.22 L1399.06,556.66 L1399.99,557.10 L1400.91,557.53 L1401.84,557.95 L1402.77,558.37 L1403.70,558.79 L1404.63,559.20 L1405.56,559.61 L1406.49,560.01 L1407.43,560.41 L1408.36,560.81 L1409.30,561.20 L1410.23,561.59 L1411.17,561.97 L1412.11,562.35 L1413.05,562.72 L1413.99,563.09 L1414.93,563.46 L1415.87,563.82 L1416.81,564.18 L1417.75,564.54 L1418.70,564.89 L1419.64,565.24 L1420.59,565.58 L1421.53,565.92 L1422.48,566.26 L1423.43,566.59 L1424.37,566.92 L1425.32,567.25 L1426.27,567.57 L1427.22,567.89 L1428.17,568.21 L1429.12,568.52 L1430.08,568.83 L1431.03,569.14 L1431.98,569.44 L1432.94,569.74 L1433.89,570.04 L1434.85,570.34 L1435.80,570.63 L1436.76,570.92 L1437.71,571.21 L1438.67,571.49 L1439.63,571.77 L1440.59,572.05 L1441.55,572.33 L1442.51,572.60 L1443.47,572.87 L1444.43,573.14 L1445.39,573.41 L1446.35,573.67 L1447.31,573.93 L1448.27,574.19 L1449.24,574.45 L1450.20,574.70 L1451.16,574.96 L1452.13,575.21 L1453.09,575.46 L1454.06,575.70 L1455.02,575.95 L1455.99,576.19 L1456.95,576.43 L1457.92,576.67 L1458.88,576.91 L1459.85,577.15 L1460.82,577.38 L1461.78,577.61 L1462.75,577.85 L1463.72,578.08 L1464.69,578.30 L1465.66,578.53 L1466.62,578.76 L1467.59,578.98 L1468.56,579.21 L1469.53,579.43 L1470.50,579.65 L1471.47,579.87 L1472.44,580.09 L1473.41,580.30 L1474.38,580.52 L1475.35,580.73 L1476.32,580.95 L1477.29,581.16 L1478.26,581.37 L1479.23,581.58 L1480.20,581.79 L1481.17,582.00 L1482.15,582.21 L1483.12,582.41 L1484.09,582.61 L1485.06,582.82 L1486.03,583.02 L1487.01,583.22 L1487.98,583.42 L1488.95,583.62 L1489.93,583.82 L1490.90,584.01 L1491.87,584.21 L1492.85,584.40 L1493.82,584.59 L1494.79,584.79 L1495.77,584.98 L1496.74,585.17 L1497.72,585.36 L1498.69,585.54 L1499.67,585.73 L1500.64,585.91 L1501.62,586.10 L1502.59,586.28 L1503.57,586.46 L1504.54,586.64 L1505.52,586.82 L1506.50,587.00 L1507.47,587.18 L1508.45,587.36 L1509.43,587.53 L1510.40,587.71 L1511.38,587.88 L1512.36,588.05 L1513.34,588.22 L1514.31,588.39 L1515.29,588.56 L1516.27,588.73 L1517.25,588.90 L1518.23,589.07 L1519.20,589.23 L1520.18,589.39 L1521.16,589.56 L1522.14,589.72 L1523.12,589.88 L1524.10,590.04 L1525.08,590.20 L1526.06,590.36 L1527.04,590.52 L1528.02,590.67 L1529.00,590.83 L1529.98,590.98 L1530.96,591.14 L1531.94,591.29 L1532.92,591.44 L1533.90,591.59 L1534.88,591.74 L1535.86,591.89 L1536.85,592.04 L1537.83,592.18 L1538.81,592.33 L1539.79,592.47 L1540.77,592.62 L1541.76,592.76 L1542.74,592.90 L1543.72,593.05 L1544.70,593.19 L1545.69,593.33 L1546.67,593.46 L1547.65,593.60 L1548.64,593.74 L1549.62,593.87 L1550.60,594.01 L1551.59,594.14 L1552.57,594.28 L1553.56,594.41 L1554.54,594.54 L1555.53,594.67 L1556.51,594.80 L1557.49,594.93 L1558.48,595.06 L1559.46,595.19 L1560.45,595.31 L1561.44,595.44 L1562.42,595.56 L1563.41,595.69 L1564.39,595.81 L1565.38,595.93 L1566.36,596.06 L1567.35,596.18 L1568.34,596.30 L1569.32,596.42 L1570.31,596.53 L1571.30,596.65 L1572.28,596.77 L1573.27,596.89 L1574.26,597.00 L1575.25,597.12 L1576.23,597.23 L1577.22,597.34 L1578.21,597.45 L1579.20,597.57 L1580.18,597.68 L1581.17,597.79 L1582.16,597.90 L1583.15,598.00 L1584.14,598.11 L1585.13,598.22 L1586.11,598.33 L1587.10,598.43 L1588.09,598.54 L1589.08,598.64 L1590.07,598.74 L1591.06,598.85 L1592.05,598.95 L1593.04,599.05 L1594.03,599.15 L1595.02,599.25 L1596.01,599.35 L1597.00,599.45 L1597.99,599.55 L1598.98,599.64 L1599.97,599.74 L1600.96,599.84 L1601.95,599.93 L1602.94,600.03 L1603.94,600.12 L1604.93,600.21 L1605.92,600.31 L1606.91,600.40 L1607.90,600.49 L1608.89,600.58 L1609.88,600.67 L1610.88,600.76 L1611.87,600.85 L1612.86,600.94 L1613.85,601.03 L1614.84,601.11 L1615.84,601.20 L1616.83,601.29 L1617.82,601.37 L1618.82,601.46 L1619.81,601.54 L1620.80,601.62 L1621.79,601.71 L1622.79,601.79 L1623.78,601.87 L1624.77,601.95 L1625.77,602.03 L1626.76,602.11 L1627.76,602.19 L1628.75,602.27 L1629.74,602.35 L1630.74,602.43 L1631.73,602.50 L1632.73,602.58 L1633.72,602.66 L1634.72,602.73 L1635.71,602.81 L1636.70,602.88 L1637.70,602.96 L1638.69,603.03 L1639.69,603.11 L1640.68,603.18 L1641.68,603.25 L1642.68,603.32 L1643.67,603.39 L1644.67,603.47 L1645.66,603.54 L1646.66,603.61 L1647.65,603.67 L1648.65,603.74 L1649.65,603.81 L1650.64,603.88 L1651.64,603.95 L1652.63,604.02 L1653.63,604.08 L1654.63,604.15 L1655.62,604.21 L1656.62,604.28 L1657.62,604.34 L1658.61,604.41 L1659.61,604.47 L1660.61,604.54 L1661.60,604.60 L1662.60,604.66 L1663.60,604.73 L1664.60,604.79 L1665.59,604.85 L1666.59,604.91 L1667.59,604.97 L1668.59,605.03 L1669.58,605.09 L1670.58,605.15 L1671.58,605.21 L1672.58,605.27 L1673.58,605.33 L1674.57,605.39 L1675.57,605.45 L1676.57,605.51 L1677.57,605.56 L1678.57,605.62 L1679.57,605.68 L1680.56,605.73 L1681.56,605.79 L1682.56,605.84 L1683.56,605.90 L1684.56,605.95 L1685.56,606.01 L1686.56,606.06 L1687.56,606.12 L1688.56,606.17 L1689.55,606.23 L1690.55,606.28 L1691.55,606.33 L1692.55,606.39 L1693.55,606.44 L1694.55,606.49 L1695.55,606.54 L1696.55,606.59 L1697.55,606.64 L1698.55,606.70 L1699.55,606.75 L1700.55,606.80 L1701.55,606.85 L1702.55,606.90 L1703.55,606.95 L1704.55,607.00 L1705.55,607.05 L1706.55,607.10 L1707.55,607.15 L1708.55,607.19 L1709.55,607.24 L1710.55,607.29 L1711.55,607.34 L1712.55,607.39 L1713.56,607.44 L1714.56,607.48 L1715.56,607.53 L1716.56,607.58 L1717.56,607.63 L1718.56,607.67 L1719.56,607.72 L1720.56,607.77 L1721.56,607.81 L1722.56,607.86 L1723.57,607.91 L1724.57,607.95 L1725.57,608.00 L1726.57,608.04 L1727.57,608.09 L1728.57,608.13 L1729.57,608.18 L1730.58,608.22 L1731.58,608.27 L1732.58,608.31 L1733.58,608.36 L1734.58,608.40 L1735.58,608.45 L1736.59,608.49 L1737.59,608.54 L1738.59,608.58 L1739.59,608.63 L1740.59,608.67 L1741.60,608.71 L1742.60,608.76 L1743.60,608.80 L1744.60,608.85 L1745.60,608.89 L1746.61,608.93 L1747.61,608.98 L1748.61,609.02 L1749.61,609.06 L1750.62,609.10 L1751.62,609.15 L1752.62,609.19 L1753.62,609.23 L1754.62,609.27 L1755.63,609.32 L1756.63,609.36 L1757.63,609.40 L1758.63,609.44 L1759.64,609.49 L1760.64,609.53 L1761.64,609.57 L1762.65,609.61 L1763.65,609.65 L1764.65,609.69 L1765.65,609.74 L1766.66,609.78 L1767.66,609.82 L1768.66,609.86 L1769.67,609.90 L1770.67,609.94 L1771.67,609.98 L1772.67,610.02 L1773.68,610.06 L1774.68,610.10 L1775.68,610.14 L1776.69,610.18 L1777.69,610.22 L1778.69,610.26 L1779.69,610.30 L1780.70,610.34 L1781.70,610.38 L1782.70,610.42 L1783.71,610.46 L1784.71,610.50 L1785.71,610.54 L1786.72,610.58 L1787.72,610.62 L1788.72,610.66 L1789.73,610.70 L1790.73,610.74 L1791.73,610.78 L1792.74,610.82 L1793.74,610.85 L1794.74,610.89 L1795.75,610.93 L1796.75,610.97 L1797.75,611.01 L1798.75,611.05 L1799.76,611.08 L1800.76,611.12 L1801.76,611.16 L1802.77,611.20 L1803.77,611.24 L1804.77,611.28 L1805.78,611.31 L1806.78,611.35 L1807.78,611.39 L1808.79,611.43 L1809.79,611.46 L1810.79,611.50 L1811.80,611.54 L1812.80,611.58 L1813.80,611.61 L1814.81,611.65 L1815.81,611.69 L1816.81,611.72 L1817.82,611.76 L1818.82,611.80 L1819.82,611.84 L1820.83,611.87 L1821.83,611.91 L1822.83,611.95 L1823.84,611.98 L1824.84,612.02 L1825.84,612.06 L1826.85,612.09 L1827.85,612.13 L1828.85,612.16 L1829.85,612.20 L1830.86,612.24 L1831.86,612.27 L1832.86,612.31 L1833.87,612.34 L1834.87,612.38 L1835.87,612.42 L1836.88,612.45 L1837.88,612.49 L1838.88,612.52 L1839.88,612.56 L1840.89,612.60 L1841.89,612.63 L1842.89,612.67 L1843.90,612.70 L1844.90,612.74 L1845.90,612.77 L1846.90,612.81 L1847.91,612.84 L1848.91,612.88 L1849.91,612.91 L1850.91,612.95 L1851.92,612.98 L1852.92,613.02 L1853.92,613.05 L1854.93,613.09 L1855.93,613.12 L1856.93,613.16 L1857.93,613.19 L1858.94,613.23 L1859.94,613.26 L1860.94,613.30 L1861.94,613.33 L1862.94,613.37 L1863.95,613.40 L1864.95,613.44 L1865.95,613.47 L1866.95,613.51 L1867.96,613.54 L1868.96,613.58 L1869.96,613.61 L1870.96,613.64 L1871.96,613.68 L1872.97,613.71 L1873.97,613.75 L1874.97,613.78 L1875.97,613.82 L1876.97,613.85 L1877.97,613.88 L1878.98,613.92 L1879.98,613.95 L1880.98,613.99 L1881.98,614.02 L1882.98,614.05 L1883.98,614.09 L1884.99,614.12 L1885.99,614.16 L1886.99,614.19 L1887.99,614.22 L1888.99,614.26 L1889.99,614.29 L1890.99,614.33 L1891.99,614.36 L1893.00,614.39 L1894.00,614.43 L1895.00,614.46 L1896.00,614.50 L1897.00,614.53 L1898.00,614.56 L1899.00,614.60 L1900.00,614.63 L1901.00,614.66 L1902.00,614.70 L1903.00,614.73 L1904.00,614.77 L1905.00,614.80 L1906.00,614.83 L1907.00,614.87 L1908.00,614.90 L1909.00,614.93 L1910.00,614.97 L1911.00,615.00 L1912.00,615.04 L1913.00,615.07 L1914.00,615.10 L1915.00,615.14 L1916.00,615.17 L1917.00,615.20 L1918.00,615.24 L1919.00,615.27 L1920.00,615.31 L1921.00,615.34 L1922.00,615.37 L1923.00,615.41 L1924.00,615.44 L1925.00,615.47 L1926.00,615.51 L1926.99,615.54 L1927.99,615.57 L1928.99,615.61 L1929.99,615.64 L1930.99,615.68 L1931.99,615.71 L1932.99,615.74 L1933.99,615.78 L1934.98,615.81 L1935.98,615.84 L1936.98,615.88 L1937.98,615.91 L1938.98,615.95 L1939.97,615.98 L1940.97,616.01 L1941.97,616.05 L1942.97,616.08 L1943.97,616.11 L1944.96,616.15 L1945.96,616.18 L1946.96,616.22 L1947.95,616.25 L1948.95,616.28 L1949.95,616.32 L1950.95,616.35 L1951.94,616.39 L1952.94,616.42 L1953.94,616.45 L1954.93,616.49 L1955.93,616.52 L1956.93,616.56 L1957.92,616.59 L1958.92,616.62 L1959.92,616.66 L1960.91,616.69 L1961.91,616.73 L1962.90,616.76 L1963.90,616.80 L1964.90,616.83 L1965.89,616.87 L1966.89,616.90 L1967.88,616.93 L1968.88,616.97 L1969.87,617.00 L1970.87,617.04 L1971.86,617.07 L1972.86,617.11 L1973.85,617.14 L1974.85,617.18 L1975.84,617.21 L1976.84,617.25 L1977.83,617.28 L1978.83,617.32 L1979.82,617.35 L1980.81,617.38 L1981.81,617.42 L1982.80,617.45 L1983.80,617.49 L1984.79,617.53 L1985.78,617.56 L1986.78,617.60 L1987.77,617.63 L1988.76,617.67 L1989.76,617.70 L1990.75,617.74 L1991.74,617.77 L1992.74,617.81 L1993.73,617.84 L1994.72,617.88 L1995.71,617.91 L1996.71,617.95 L1997.70,617.99 L1998.69,618.02 L1999.68,618.06 L2000.68,618.09 L2001.67,618.13 L2002.66,618.16 L2003.65,618.20 L2004.64,618.24 L2005.63,618.27 L2006.62,618.31 L2007.62,618.35 L2008.61,618.38 L2009.60,618.42 L2010.59,618.45 L2011.58,618.49 L2012.57,618.53 L2013.56,618.56 L2014.55,618.60 L2015.54,618.64 L2016.53,618.67 L2017.52,618.71 L2018.51,618.75 L2019.50,618.79 L2020.49,618.82 L2021.48,618.86 L2022.47,618.90 L2023.46,618.93 L2024.45,618.97 L2025.44,619.01 L2026.42,619.05 L2027.41,619.08 L2028.40,619.12 L2029.39,619.16 L2030.38,619.20 L2031.37,619.24 L2032.35,619.27 L2033.34,619.31 L2034.33,619.35 L2035.32,619.39 L2036.30,619.43 L2037.29,619.46 L2038.28,619.50 L2039.27,619.54 L2040.25,619.58 L2041.24,619.62 L2042.23,619.66 L2043.21,619.70 L2044.20,619.73 L2045.19,619.77 L2046.17,619.81 L2047.16,619.85 L2048.14,619.89 L2049.13,619.93 L2050.11,619.97 L2051.10,620.01 L2052.08,620.05 L2053.07,620.09 L2054.05,620.13 L2055.04,620.17 L2056.02,620.21 L2057.01,620.25 L2057.99,620.29 L2058.98,620.33 L2059.96,620.37 L2060.94,620.41 L2061.93,620.45 L2062.91,620.49 L2063.89,620.53 L2064.88,620.57 L2065.86,620.61 L2066.84,620.65 L2067.83,620.69" stroke="#d62728"/>
<path d="M1243.76,161.88 L1244.42,162.44 L1245.08,163.01 L1245.73,163.60 L1246.37,164.20 L1247.00,164.82 L1247.63,165.45 L1248.25,166.10 L1248.86,166.76 L1249.47,167.43 L1250.07,168.11 L1250.66,168.81 L1251.25,169.52 L1251.83,170.24 L1252.40,170.97 L1252.96,171.71 L1253.52,172.47 L1254.08,173.23 L1254.63,174.00 L1255.17,174.79 L1255.70,175.58 L1256.23,176.39 L1256.76,177.20 L1257.27,178.02 L1257.79,178.85 L1258.29,179.69 L1258.79,180.54 L1259.29,181.39 L1259.78,182.25 L1260.27,183.12 L1260.75,184.00 L1261.22,184.88 L1261.69,185.76 L1262.16,186.66 L1262.62,187.56 L1263.07,188.46 L1263.52,189.37 L1263.97,190.28 L1264.41,191.20 L1264.85,192.12 L1265.28,193.05 L1265.71,193.98 L1266.14,194.91 L1266.56,195.85 L1266.97,196.78 L1267.39,197.72 L1267.79,198.66 L1268.20,199.61 L1268.60,200.55 L1269.00,201.50 L1269.39,202.45 L1269.79,203.39 L1270.17,204.34 L1270.56,205.29 L1270.94,206.24 L1271.32,207.18 L1271.69,208.13 L1272.07,209.08 L1272.44,210.03 L1272.80,210.98 L1273.17,211.93 L1273.53,212.88 L1273.89,213.83 L1274.25,214.78 L1274.60,215.73 L1274.95,216.68 L1275.30,217.63 L1275.65,218.58 L1276.00,219.53 L1276.34,220.48 L1276.69,221.43 L1277.03,222.38 L1277.37,223.33 L1277.70,224.28 L1278.04,225.23 L1278.38,226.18 L1278.71,227.13 L1279.04,228.08 L1279.37,229.03 L1279.70,229.98 L1280.03,230.93 L1280.36,231.88 L1280.69,232.83 L1281.02,233.78 L1281.34,234.73 L1281.67,235.68 L1282.00,236.62 L1282.32,237.57 L1282.65,238.52 L1282.97,239.47 L1283.29,240.41 L1283.62,241.36 L1283.94,242.31 L1284.27,243.25 L1284.59,244.20 L1284.92,245.14 L1285.25,246.09 L1285.57,247.03 L1285.90,247.97 L1286.23,248.91 L1286.55,249.86 L1286.88,250.80 L1287.21,251.74 L1287.54,252.68 L1287.88,253.62 L1288.21,254.56 L1288.54,255.50 L1288.88,256.44 L1289.22,257.37 L1289.56,258.31 L1289.90,259.24 L1290.24,260.18 L1290.58,261.11 L1290.93,262.05 L1291.27,262.98 L1291.62,263.91 L1291.98,264.84 L1292.33,265.77 L1292.68,266.70 L1293.04,267.63 L1293.40,268.56 L1293.77,269.48 L1294.13,270.41 L1294.50,271.33 L1294.87,272.26 L1295.25,273.18 L1295.62,274.10 L1296.00,275.02 L1296.39,275.94 L1296.77,276.86 L1297.16,277.78 L1297.56,278.69 L1297.95,279.61 L1298.35,280.52 L1298.75,281.43 L1299.16,282.35 L1299.57,283.26 L1299.98,284.16 L1300.40,285.07 L1300.82,285.98 L1301.24,286.88 L1301.67,287.79 L1302.10,288.69 L1302.53,289.59 L1302.96,290.49 L1303.40,291.39 L1303.84,292.28 L1304.29,293.18 L1304.74,294.07 L1305.19,294.96 L1305.64,295.85 L1306.10,296.74 L1306.56,297.63 L1307.03,298.51 L1307.49,299.39 L1307.96,300.27 L1308.43,301.15 L1308.91,302.03 L1309.39,302.91 L1309.87,303.78 L1310.35,304.65 L1310.84,305.52 L1311.33,306.39 L1311.83,307.26 L1312.32,308.12 L1312.82,308.98 L1313.32,309.84 L1313.83,310.70 L1314.34,311.56 L1314.85,312.41 L1315.36,313.26 L1315.88,314.11 L1316.40,314.96 L1316.92,315.80 L1317.44,316.65 L1317.97,317.49 L1318.50,318.32 L1319.03,319.16 L1319.57,319.99 L1320.11,320.82 L1320.65,321.65 L1321.19,322.48 L1321.74,323.30 L1322.29,324.12 L1322.84,324.94 L1323.39,325.76 L1323.95,326.57 L1324.51,327.38 L1325.07,328.19 L1325.63,329.00 L1326.20,329.80 L1326.77,330.61 L1327.34,331.41 L1327.92,332.21 L1328.50,333.00 L1329.08,333.80 L1329.66,334.59 L1330.25,335.38 L1330.84,336.17 L1331.43,336.95 L1332.02,337.74 L1332.62,338.52 L1333.22,339.30 L1333.82,340.08 L1334.42,340.86 L1335.03,341.63 L1335.64,342.40 L1336.25,343.17 L1336.86,343.94 L1337.48,344.71 L1338.10,345.47 L1338.72,346.24 L1339.35,347.00 L1339.98,347.76 L1340.61,348.52 L1341.24,349.28 L1341.88,350.03 L1342.51,350.78 L1343.16,351.54 L1343.80,352.29 L1344.44,353.04 L1345.09,353.78 L1345.74,354.53 L1346.40,355.27 L1347.05,356.02 L1347.71,356.76 L1348.37,357.50 L1349.04,358.24 L1349.70,358.97 L1350.37,359.71 L1351.04,360.44 L1351.72,361.18 L1352.40,361.91 L1353.07,362.64 L1353.76,363.37 L1354.44,364.10 L1355.13,364.82 L1355.82,365.55 L1356.51,366.27 L1357.20,367.00 L1357.90,367.72 L1358.60,368.44 L1359.30,369.16 L1360.01,369.88 L1360.71,370.60 L1361.42,371.31 L1362.14,372.03 L1362.85,372.74 L1363.57,373.46 L1364.29,374.17 L1365.01,374.88 L1365.74,375.59 L1366.46,376.29 L1367.19,377.00 L1367.93,377.70 L1368.66,378.40 L1369.40,379.10 L1370.14,379.80 L1370.88,380.50 L1371.63,381.19 L1372.37,381.88 L1373.12,382.57 L1373.88,383.25 L1374.63,383.94 L1375.39,384.62 L1376.15,385.30 L1376.91,385.98 L1377.68,386.65 L1378.44,387.32 L1379.21,387.99 L1379.99,388.65 L1380.76,389.32 L1381.54,389.97 L1382.32,390.63 L1383.10,391.28 L1383.88,391.93 L1384.67,392.58 L1385.46,393.22 L1386.25,393.86 L1387.05,394.50 L1387.84,395.13 L1388.64,395.76 L1389.45,396.38 L1390.25,397.00 L1391.06,397.62 L1391.87,398.23 L1392.68,398.84 L1393.49,399.45 L1394.31,400.05 L1395.13,400.65 L1395.95,401.24 L1396.77,401.83 L1397.60,402.41 L1398.43,402.99 L1399.26,403.56 L1400.09,404.13 L1400.93,404.70 L1401.77,405.26 L1402.61,405.81 L1403.45,406.36 L1404.30,406.91 L1405.14,407.45 L1405.99,407.98 L1406.85,408.51 L1407.70,409.04 L1408.56,409.56 L1409.42,410.07 L1410.28,410.58 L1411.15,411.08 L1412.02,411.58 L1412.89,412.07 L1413.76,412.56 L1414.63,413.04 L1415.51,413.51 L1416.39,413.98 L1417.27,414.44 L1418.15,414.90 L1419.04,415.35 L1419.93,415.80 L1420.82,416.24 L1421.71,416.67 L1422.60,417.10 L1423.50,417.52 L1424.40,417.94 L1425.30,418.35 L1426.21,418.76 L1427.11,419.16 L1428.02,419.55 L1428.93,419.94 L1429.84,420.33 L1430.75,420.70 L1431.67,421.08 L1432.59,421.45 L1433.51,421.81 L1434.43,422.17 L1435.35,422.52 L1436.27,422.87 L1437.20,423.21 L1438.13,423.55 L1439.06,423.88 L1439.99,424.20 L1440.93,424.53 L1441.86,424.84 L1442.80,425.15 L1443.74,425.46 L1444.68,425.76 L1445.62,426.06 L1446.56,426.35 L1447.51,426.64 L1448.45,426.92 L1449.40,427.20 L1450.35,427.47 L1451.30,427.73 L1452.26,428.00 L1453.21,428.25 L1454.17,428.51 L1455.12,428.76 L1456.08,429.00 L1457.04,429.24 L1458.00,429.47 L1458.96,429.70 L1459.93,429.93 L1460.89,430.15 L1461.86,430.36 L1462.82,430.58 L1463.79,430.78 L1464.76,430.99 L1465.73,431.18 L1466.70,431.38 L1467.68,431.57 L1468.65,431.75 L1469.63,431.93 L1470.60,432.11 L1471.58,432.28 L1472.56,432.45 L1473.53,432.62 L1474.51,432.78 L1475.49,432.93 L1476.48,433.08 L1477.46,433.23 L1478.44,433.37 L1479.43,433.51 L1480.41,433.65 L1481.40,433.78 L1482.38,433.91 L1483.37,434.03 L1484.36,434.15 L1485.34,434.27 L1486.33,434.38 L1487.32,434.49 L1488.31,434.59 L1489.30,434.69 L1490.30,434.79 L1491.29,434.88 L1492.28,434.97 L1493.27,435.05 L1494.27,435.14 L1495.26,435.21 L1496.25,435.29 L1497.25,435.36 L1498.24,435.43 L1499.24,435.49 L1500.23,435.55 L1501.23,435.61 L1502.23,435.66 L1503.22,435.71 L1504.22,435.76 L1505.22,435.80 L1506.21,435.84 L1507.21,435.88 L1508.21,435.91 L1509.21,435.94 L1510.20,435.97 L1511.20,435.99 L1512.20,436.01 L1513.20,436.03 L1514.20,436.05 L1515.19,436.06 L1516.19,436.07 L1517.19,436.07 L1518.19,436.07 L1519.19,436.08 L1520.18,436.07 L1521.18,436.07 L1522.18,436.06 L1523.18,436.05 L1524.18,436.04 L1525.18,436.03 L1526.17,436.01 L1527.17,435.99 L1528.17,435.97 L1529.17,435.95 L1530.17,435.93 L1531.16,435.91 L1532.16,435.88 L1533.16,435.85 L1534.16,435.83 L1535.16,435.80 L1536.16,435.77 L1537.15,435.73 L1538.15,435.70 L1539.15,435.67 L1540.15,435.63 L1541.15,435.60 L1542.15,435.56 L1543.15,435.53 L1544.14,435.49 L1545.14,435.45 L1546.14,435.42 L1547.14,435.38 L1548.14,435.34 L1549.14,435.31 L1550.14,435.27 L1551.13,435.23 L1552.13,435.20 L1553.13,435.16 L1554.13,435.13 L1555.13,435.09 L1556.13,435.06 L1557.13,435.03 L1558.13,434.99 L1559.12,434.96 L1560.12,434.93 L1561.12,434.90 L1562.12,434.88 L1563.12,434.85 L1564.12,434.82 L1565.12,434.80 L1566.12,434.78 L1567.11,434.76 L1568.11,434.74 L1569.11,434.72 L1570.11,434.71 L1571.11,434.69 L1572.11,434.68 L1573.11,434.68 L1574.11,434.67 L1575.11,434.67 L1576.10,434.66 L1577.10,434.67 L1578.10,434.67 L1579.10,434.68 L1580.10,434.69 L1581.10,434.70 L1582.10,434.71 L1583.10,434.73 L1584.10,434.75 L1585.09,434.78 L1586.09,434.81 L1587.09,434.84 L1588.09,434.88 L1589.09,434.91 L1590.09,434.95 L1591.09,435.00 L1592.09,435.05 L1593.09,435.10 L1594.09,435.15 L1595.08,435.20 L1596.08,435.26 L1597.08,435.32 L1598.08,435.39 L1599.08,435.45 L1600.08,435.52 L1601.08,435.59 L1602.08,435.66 L1603.08,435.74 L1604.07,435.82 L1605.07,435.89 L1606.07,435.98 L1607.07,436.06 L1608.07,436.14 L1609.07,436.23 L1610.07,436.32 L1611.07,436.41 L1612.07,436.50 L1613.06,436.59 L1614.06,436.68 L1615.06,436.78 L1616.06,436.87 L1617.06,436.97 L1618.06,437.07 L1619.06,437.17 L1620.06,437.27 L1621.06,437.37 L1622.05,437.47 L1623.05,437.58 L1624.05,437.68 L1625.05,437.79 L1626.05,437.89 L1627.05,438.00 L1628.05,438.10 L1629.04,438.21 L1630.04,438.31 L1631.04,438.42 L1632.04,438.53 L1633.04,438.63 L1634.04,438.74 L1635.04,438.84 L1636.04,438.95 L1637.03,439.06 L1638.03,439.16 L1639.03,439.27 L1640.03,439.38 L1641.03,439.48 L1642.03,439.59 L1643.03,439.70 L1644.02,439.81 L1645.02,439.92 L1646.02,440.03 L1647.02,440.14 L1648.02,440.25 L1649.02,440.36 L1650.01,440.47 L1651.01,440.59 L1652.01,440.70 L1653.01,440.82 L1654.01,440.93 L1655.01,441.05 L1656.00,441.17 L1657.00,441.28 L1658.00,441.40 L1659.00,441.52 L1660.00,441.63 L1661.00,441.75 L1661.99,441.87 L1662.99,441.98 L1663.99,442.10 L1664.99,442.21 L1665.99,442.33 L1666.99,442.44 L1667.98,442.55 L1668.98,442.66 L1669.98,442.77 L1670.98,442.88 L1671.98,442.99 L1672.97,443.09 L1673.97,443.20 L1674.97,443.30 L1675.97,443.40 L1676.97,443.50 L1677.96,443.60 L1678.96,443.69 L1679.96,443.78 L1680.96,443.87 L1681.96,443.96 L1682.96,444.05 L1683.95,444.13 L1684.95,444.21 L1685.95,444.28 L1686.95,444.36 L1687.95,444.43 L1688.94,444.50 L1689.94,444.57 L1690.94,444.63 L1691.94,444.70 L1692.93,444.76 L1693.93,444.82 L1694.93,444.87 L1695.93,444.93 L1696.93,444.98 L1697.92,445.03 L1698.92,445.07 L1699.92,445.12 L1700.92,445.16 L1701.92,445.21 L1702.91,445.25 L1703.91,445.28 L1704.91,445.32 L1705.91,445.36 L1706.91,445.39 L1707.90,445.42 L1708.90,445.45 L1709.90,445.48 L1710.90,445.50 L1711.89,445.53 L1712.89,445.55 L1713.89,445.57 L1714.89,445.59 L1715.89,445.61 L1716.88,445.63 L1717.88,445.65 L1718.88,445.66 L1719.88,445.68 L1720.87,445.69 L1721.87,445.70 L1722.87,445.71 L1723.87,445.72 L1724.87,445.73 L1725.86,445.74 L1726.86,445.74 L1727.86,445.75 L1728.86,445.75 L1729.85,445.76 L1730.85,445.76 L1731.85,445.76 L1732.85,445.76 L1733.84,445.76 L1734.84,445.76 L1735.84,445.76 L1736.84,445.76 L1737.84,445.76 L1738.83,445.75 L1739.83,445.75 L1740.83,445.75 L1741.83,445.74 L1742.82,445.74 L1743.82,445.74 L1744.82,445.73 L1745.82,445.72 L1746.81,445.72 L1747.81,445.71 L1748.81,445.71 L1749.81,445.70 L1750.80,445.70 L1751.80,445.69 L1752.80,445.68 L1753.80,445.68 L1754.79,445.67 L1755.79,445.67 L1756.79,445.66 L1757.79,445.65 L1758.79,445.65 L1759.78,445.64 L1760.78,445.64 L1761.78,445.63 L1762.78,445.63 L1763.77,445.62 L1764.77,445.62 L1765.77,445.61 L1766.77,445.61 L1767.76,445.61 L1768.76,445.60 L1769.76,445.60 L1770.76,445.59 L1771.75,445.59 L1772.75,445.59 L1773.75,445.58 L1774.75,445.58 L1775.74,445.58 L1776.74,445.57 L1777.74,445.57 L1778.74,445.57 L1779.73,445.56 L1780.73,445.56 L1781.73,445.56 L1782.73,445.56 L1783.72,445.55 L1784.72,445.55 L1785.72,445.55 L1786.72,445.54 L1787.71,445.54 L1788.71,445.54 L1789.71,445.54 L1790.71,445.53 L1791.71,445.53 L1792.70,445.53 L1793.70,445.53 L1794.70,445.52 L1795.70,445.52 L1796.69,445.52 L1797.69,445.52 L1798.69,445.51 L1799.69,445.51 L1800.68,445.51 L1801.68,445.51 L1802.68,445.50 L1803.68,445.50 L1804.67,445.50 L1805.67,445.50 L1806.67,445.49 L1807.67,445.49 L1808.66,445.49 L1809.66,445.49 L1810.66,445.48 L1811.66,445.48 L1812.65,445.48 L1813.65,445.47 L1814.65,445.47 L1815.65,445.47 L1816.65,445.46 L1817.64,445.46 L1818.64,445.46 L1819.64,445.45 L1820.64,445.45 L1821.63,445.44 L1822.63,445.44 L1823.63,445.44 L1824.63,445.43 L1825.62,445.43 L1826.62,445.42 L1827.62,445.42 L1828.62,445.41 L1829.61,445.41 L1830.61,445.40 L1831.61,445.40 L1832.61,445.39 L1833.61,445.39 L1834.60,445.38 L1835.60,445.38 L1836.60,445.37 L1837.60,445.36 L1838.59,445.36 L1839.59,445.35 L1840.59,445.34 L1841.59,445.34 L1842.59,445.33 L1843.58,445.32 L1844.58,445.32 L1845.58,445.31 L1846.58,445.30 L1847.57,445.29 L1848.57,445.28 L1849.57,445.27 L1850.57,445.27 L1851.57,445.26 L1852.56,445.25 L1853.56,445.24 L1854.56,445.23 L1855.56,445.22 L1856.55,445.21 L1857.55,445.20 L1858.55,445.19 L1859.55,445.18 L1860.55,445.16 L1861.54,445.15 L1862.54,445.14 L1863.54,445.13 L1864.54,445.12 L1865.54,445.11 L1866.53,445.10 L1867.53,445.08 L1868.53,445.07 L1869.53,445.06 L1870.53,445.05 L1871.52,445.03 L1872.52,445.02 L1873.52,445.01 L1874.52,445.00 L1875.52,444.98 L1876.51,444.97 L1877.51,444.96 L1878.51,444.94 L1879.51,444.93 L1880.51,444.92 L1881.50,444.90 L1882.50,444.89 L1883.50,444.88 L1884.50,444.86 L1885.50,444.85 L1886.49,444.84 L1887.49,444.82 L1888.49,444.81 L1889.49,444.80 L1890.49,444.78 L1891.49,444.77 L1892.48,444.76 L1893.48,444.74 L1894.48,444.73 L1895.48,444.72 L1896.48,444.70 L1897.47,444.69 L1898.47,444.68 L1899.47,444.66 L1900.47,444.65 L1901.47,444.64 L1902.47,444.62 L1903.46,444.61 L1904.46,444.60 L1905.46,444.58 L1906.46,444.57 L1907.46,444.56 L1908.46,444.55 L1909.45,444.53 L1910.45,444.52 L1911.45,444.51 L1912.45,444.50 L1913.45,444.48 L1914.45,444.47 L1915.45,444.46 L1916.44,444.45 L1917.44,444.44 L1918.44,444.43 L1919.44,444.42 L1920.44,444.41 L1921.44,444.39 L1922.44,444.38 L1923.43,444.37 L1924.43,444.36 L1925.43,444.35 L1926.43,444.34 L1927.43,444.33 L1928.43,444.33 L1929.43,444.32 L1930.42,444.31 L1931.42,444.30 L1932.42,444.29 L1933.42,444.28 L1934.42,444.27 L1935.42,444.27 L1936.42,444.26 L1937.42,444.25 L1938.41,444.25 L1939.41,444.24 L1940.41,444.23 L1941.41,444.23 L1942.41,444.22 L1943.41,444.22 L1944.41,444.21 L1945.41,444.21 L1946.41,444.20 L1947.40,444.20 L1948.40,444.20 L1949.40,444.19 L1950.40,444.19 L1951.40,444.19 L1952.40,444.18 L1953.40,444.18 L1954.40,444.18 L1955.40,444.18 L1956.40,444.18 L1957.40,444.18 L1958.39,444.18 L1959.39,444.18 L1960.39,444.18 L1961.39,444.18 L1962.39,444.18 L1963.39,444.19 L1964.39,444.19 L1965.39,444.19 L1966.39,444.20 L1967.39,444.20 L1968.39,444.20 L1969.39,444.21 L1970.39,444.21 L1971.39,444.22 L1972.38,444.23 L1973.38,444.23 L1974.38,444.24 L1975.38,444.25 L1976.38,444.26 L1977.38,444.26 L1978.38,444.27 L1979.38,444.28 L1980.38,444.29 L1981.38,444.30 L1982.38,444.32 L1983.38,444.33 L1984.38,444.34 L1985.38,444.35 L1986.38,444.37 L1987.38,444.38 L1988.38,444.40 L1989.38,444.41 L1990.38,444.43 L1991.38,444.44 L1992.38,444.46 L1993.38,444.48 L1994.38,444.50 L1995.38,444.52 L1996.38,444.54 L1997.38,444.56 L1998.38,444.58 L1999.38,444.60 L2000.38,444.62 L2001.38,444.64 L2002.38,444.67 L2003.38,444.69 L2004.38,444.72 L2005.38,444.74 L2006.38,444.77 L2007.38,444.79 L2008.38,444.82 L2009.38,444.85 L2010.38,444.88 L2011.38,444.91 L2012.38,444.94 L2013.38,444.97 L2014.38,445.00 L2015.38,445.03 L2016.38,445.07 L2017.38,445.10 L2018.38,445.13 L2019.38,445.17 L2020.38,445.21 L2021.38,445.24 L2022.38,445.28 L2023.38,445.32 L2024.38,445.36 L2025.38,445.40 L2026.38,445.44 L2027.38,445.48 L2028.38,445.52 L2029.39,445.57 L2030.39,445.61 L2031.39,445.66 L2032.39,445.70 L2033.39,445.75 L2034.39,445.80 L2035.39,445.85 L2036.39,445.89 L2037.39,445.94 L2038.39,446.00 L2039.39,446.05 L2040.39,446.10 L2041.40,446.15 L2042.40,446.21 L2043.40,446.26 L2044.40,446.32 L2045.40,446.38 L2046.40,446.43 L2047.40,446.49 L2048.40,446.55 L2049.40,446.61 L2050.41,446.68 L2051.41,446.74 L2052.41,446.80 L2053.41,446.87 L2054.41,446.93 L2055.41,447.00 L2056.41,447.07 L2057.41,447.14 L2058.42,447.20 L2059.42,447.28 L2060.42,447.35 L2061.42,447.42 L2062.42,447.49 L2063.42,447.57 L2064.43,447.64 L2065.43,447.72 L2066.43,447.80 L2067.43,447.88 L2068.43,447.96" stroke="#17becf" stroke-linecap="butt" stroke-dasharray="35.52 8.88 5.55 8.88"/>
<path d="M1243.49,161.82 L1244.26,162.14 L1245.02,162.49 L1245.77,162.88 L1246.50,163.31 L1247.22,163.77 L1247.93,164.27 L1248.63,164.79 L1249.32,165.35 L1249.99,165.93 L1250.66,166.55 L1251.31,167.19 L1251.95,167.85 L1252.58,168.53 L1253.20,169.24 L1253.80,169.97 L1254.40,170.71 L1254.99,171.48 L1255.57,172.25 L1256.14,173.04 L1256.69,173.85 L1257.24,174.67 L1257.78,175.49 L1258.32,176.33 L1258.84,177.17 L1259.35,178.01 L1259.86,178.87 L1260.35,179.73 L1260.84,180.59 L1261.33,181.46 L1261.80,182.34 L1262.27,183.22 L1262.72,184.10 L1263.18,185.00 L1263.62,185.89 L1264.06,186.79 L1264.49,187.70 L1264.92,188.61 L1265.34,189.52 L1265.75,190.44 L1266.16,191.36 L1266.56,192.28 L1266.96,193.21 L1267.35,194.14 L1267.74,195.08 L1268.12,196.01 L1268.50,196.95 L1268.87,197.90 L1269.24,198.84 L1269.61,199.79 L1269.97,200.74 L1270.33,201.69 L1270.68,202.64 L1271.03,203.60 L1271.38,204.55 L1271.73,205.51 L1272.07,206.47 L1272.41,207.43 L1272.75,208.39 L1273.09,209.35 L1273.42,210.31 L1273.75,211.27 L1274.08,212.24 L1274.41,213.20 L1274.74,214.16 L1275.07,215.12 L1275.40,216.08 L1275.73,217.04 L1276.05,218.00 L1276.38,218.96 L1276.70,219.92 L1277.03,220.87 L1277.35,221.83 L1277.67,222.79 L1278.00,223.74 L1278.32,224.70 L1278.64,225.65 L1278.97,226.61 L1279.29,227.56 L1279.62,228.51 L1279.94,229.47 L1280.26,230.42 L1280.59,231.37 L1280.91,232.32 L1281.24,233.27 L1281.56,234.22 L1281.89,235.16 L1282.22,236.11 L1282.55,237.06 L1282.88,238.00 L1283.21,238.95 L1283.54,239.89 L1283.87,240.83 L1284.20,241.77 L1284.54,242.71 L1284.87,243.65 L1285.21,244.59 L1285.55,245.53 L1285.89,246.47 L1286.23,247.40 L1286.58,248.34 L1286.92,249.27 L1287.27,250.20 L1287.62,251.14 L1287.97,252.07 L1288.32,253.00 L1288.68,253.92 L1289.04,254.85 L1289.40,255.78 L1289.76,256.70 L1290.12,257.62 L1290.49,258.55 L1290.86,259.47 L1291.23,260.39 L1291.61,261.30 L1291.99,262.22 L1292.37,263.14 L1292.75,264.05 L1293.14,264.96 L1293.53,265.88 L1293.92,266.79 L1294.32,267.69 L1294.72,268.60 L1295.12,269.51 L1295.53,270.41 L1295.94,271.31 L1296.35,272.22 L1296.77,273.12 L1297.19,274.01 L1297.62,274.91 L1298.05,275.81 L1298.48,276.70 L1298.92,277.59 L1299.36,278.48 L1299.80,279.37 L1300.25,280.26 L1300.70,281.15 L1301.15,282.03 L1301.61,282.91 L1302.07,283.79 L1302.54,284.67 L1303.01,285.55 L1303.48,286.43 L1303.96,287.30 L1304.44,288.17 L1304.92,289.04 L1305.41,289.91 L1305.90,290.78 L1306.39,291.64 L1306.89,292.51 L1307.39,293.37 L1307.90,294.23 L1308.40,295.09 L1308.91,295.95 L1309.43,296.80 L1309.95,297.65 L1310.47,298.50 L1310.99,299.35 L1311.52,300.20 L1312.05,301.05 L1312.58,301.89 L1313.12,302.73 L1313.66,303.57 L1314.21,304.41 L1314.75,305.25 L1315.30,306.08 L1315.86,306.92 L1316.41,307.75 L1316.97,308.57 L1317.54,309.40 L1318.10,310.23 L1318.67,311.05 L1319.24,311.87 L1319.82,312.69 L1320.40,313.50 L1320.98,314.32 L1321.56,315.13 L1322.15,315.94 L1322.74,316.75 L1323.33,317.56 L1323.93,318.36 L1324.53,319.16 L1325.13,319.97 L1325.73,320.76 L1326.34,321.56 L1326.95,322.35 L1327.56,323.15 L1328.18,323.94 L1328.80,324.72 L1329.42,325.51 L1330.04,326.29 L1330.67,327.07 L1331.30,327.85 L1331.93,328.63 L1332.57,329.40 L1333.21,330.18 L1333.85,330.95 L1334.49,331.71 L1335.13,332.48 L1335.78,333.24 L1336.43,334.00 L1337.09,334.76 L1337.74,335.52 L1338.40,336.27 L1339.06,337.02 L1339.73,337.77 L1340.39,338.52 L1341.06,339.27 L1341.73,340.01 L1342.40,340.75 L1343.08,341.49 L1343.76,342.22 L1344.44,342.96 L1345.12,343.69 L1345.80,344.41 L1346.49,345.14 L1347.18,345.86 L1347.87,346.58 L1348.57,347.30 L1349.26,348.02 L1349.96,348.73 L1350.66,349.44 L1351.37,350.15 L1352.07,350.86 L1352.78,351.56 L1353.49,352.26 L1354.20,352.96 L1354.91,353.66 L1355.63,354.35 L1356.35,355.04 L1357.07,355.73 L1357.79,356.42 L1358.51,357.10 L1359.24,357.78 L1359.97,358.46 L1360.70,359.13 L1361.43,359.81 L1362.17,360.48 L1362.90,361.14 L1363.64,361.81 L1364.38,362.47 L1365.12,363.13 L1365.86,363.79 L1366.61,364.44 L1367.36,365.09 L1368.10,365.74 L1368.86,366.38 L1369.61,367.03 L1370.36,367.67 L1371.12,368.31 L1371.88,368.94 L1372.64,369.57 L1373.40,370.20 L1374.16,370.83 L1374.93,371.46 L1375.69,372.08 L1376.46,372.71 L1377.23,373.33 L1378.00,373.94 L1378.78,374.56 L1379.55,375.18 L1380.33,375.79 L1381.11,376.40 L1381.89,377.01 L1382.68,377.62 L1383.46,378.23 L1384.25,378.83 L1385.04,379.44 L1385.83,380.04 L1386.62,380.65 L1387.42,381.25 L1388.21,381.85 L1389.01,382.45 L1389.81,383.05 L1390.61,383.66 L1391.42,384.25 L1392.23,384.85 L1393.03,385.45 L1393.84,386.05 L1394.66,386.65 L1395.47,387.25 L1396.29,387.85 L1397.10,388.45 L1397.92,389.05 L1398.74,389.65 L1399.57,390.24 L1400.39,390.84 L1401.22,391.45 L1402.05,392.05 L1402.88,392.65 L1403.72,393.25 L1404.55,393.85 L1405.39,394.45 L1406.23,395.05 L1407.07,395.64 L1407.92,396.24 L1408.76,396.83 L1409.61,397.41 L1410.46,398.00 L1411.31,398.58 L1412.16,399.15 L1413.02,399.72 L1413.88,400.28 L1414.74,400.84 L1415.60,401.39 L1416.47,401.93 L1417.33,402.47 L1418.20,402.99 L1419.07,403.51 L1419.94,404.02 L1420.82,404.52 L1421.69,405.01 L1422.57,405.49 L1423.45,405.96 L1424.34,406.42 L1425.22,406.87 L1426.11,407.30 L1427.00,407.72 L1427.89,408.13 L1428.79,408.53 L1429.68,408.91 L1430.58,409.28 L1431.48,409.63 L1432.38,409.96 L1433.29,410.29 L1434.19,410.60 L1435.10,410.89 L1436.01,411.18 L1436.93,411.45 L1437.84,411.72 L1438.76,411.97 L1439.68,412.21 L1440.60,412.45 L1441.52,412.68 L1442.44,412.90 L1443.37,413.12 L1444.30,413.33 L1445.23,413.54 L1446.16,413.74 L1447.09,413.94 L1448.03,414.14 L1448.97,414.34 L1449.91,414.53 L1450.85,414.73 L1451.79,414.92 L1452.73,415.12 L1453.68,415.32 L1454.63,415.52 L1455.58,415.73 L1456.53,415.94 L1457.48,416.15 L1458.43,416.37 L1459.39,416.60 L1460.34,416.82 L1461.30,417.06 L1462.26,417.29 L1463.22,417.53 L1464.18,417.77 L1465.15,418.02 L1466.11,418.27 L1467.08,418.52 L1468.04,418.77 L1469.01,419.03 L1469.98,419.29 L1470.95,419.55 L1471.92,419.81 L1472.90,420.08 L1473.87,420.34 L1474.85,420.61 L1475.83,420.87 L1476.80,421.14 L1477.78,421.41 L1478.76,421.67 L1479.74,421.94 L1480.72,422.21 L1481.71,422.47 L1482.69,422.74 L1483.68,423.00 L1484.66,423.27 L1485.65,423.53 L1486.64,423.78 L1487.62,424.04 L1488.61,424.29 L1489.60,424.53 L1490.59,424.77 L1491.59,425.00 L1492.58,425.22 L1493.57,425.44 L1494.56,425.64 L1495.56,425.84 L1496.55,426.02 L1497.55,426.20 L1498.54,426.36 L1499.54,426.51 L1500.54,426.65 L1501.53,426.78 L1502.53,426.89 L1503.53,427.00 L1504.53,427.09 L1505.53,427.17 L1506.53,427.25 L1507.53,427.31 L1508.53,427.37 L1509.53,427.41 L1510.53,427.45 L1511.53,427.48 L1512.53,427.50 L1513.54,427.51 L1514.54,427.52 L1515.54,427.52 L1516.54,427.51 L1517.55,427.50 L1518.55,427.48 L1519.55,427.45 L1520.55,427.42 L1521.56,427.39 L1522.56,427.35 L1523.56,427.31 L1524.57,427.26 L1525.57,427.21 L1526.57,427.16 L1527.57,427.10 L1528.58,427.04 L1529.58,426.98 L1530.58,426.92 L1531.58,426.86 L1532.59,426.79 L1533.59,426.73 L1534.59,426.66 L1535.59,426.60 L1536.59,426.53 L1537.59,426.47 L1538.59,426.41 L1539.59,426.35 L1540.59,426.28 L1541.59,426.23 L1542.59,426.17 L1543.59,426.11 L1544.59,426.05 L1545.59,426.00 L1546.59,425.94 L1547.58,425.89 L1548.58,425.84 L1549.58,425.79 L1550.58,425.74 L1551.57,425.70 L1552.57,425.65 L1553.57,425.61 L1554.56,425.56 L1555.56,425.52 L1556.55,425.48 L1557.55,425.44 L1558.54,425.41 L1559.54,425.37 L1560.53,425.34 L1561.53,425.31 L1562.52,425.28 L1563.51,425.25 L1564.51,425.22 L1565.50,425.20 L1566.49,425.18 L1567.49,425.16 L1568.48,425.14 L1569.47,425.12 L1570.47,425.10 L1571.46,425.09 L1572.45,425.08 L1573.44,425.07 L1574.43,425.06 L1575.43,425.06 L1576.42,425.06 L1577.41,425.06 L1578.40,425.06 L1579.39,425.06 L1580.38,425.07 L1581.37,425.08 L1582.36,425.09 L1583.35,425.10 L1584.34,425.11 L1585.33,425.13 L1586.32,425.15 L1587.31,425.18 L1588.30,425.20 L1589.29,425.23 L1590.28,425.26 L1591.27,425.29 L1592.26,425.33 L1593.25,425.36 L1594.24,425.40 L1595.23,425.45 L1596.22,425.49 L1597.21,425.54 L1598.19,425.59 L1599.18,425.65 L1600.17,425.71 L1601.16,425.77 L1602.15,425.83 L1603.14,425.90 L1604.13,425.96 L1605.11,426.04 L1606.10,426.11 L1607.09,426.19 L1608.08,426.27 L1609.07,426.36 L1610.05,426.44 L1611.04,426.53 L1612.03,426.63 L1613.02,426.72 L1614.01,426.82 L1615.00,426.93 L1615.98,427.03 L1616.97,427.15 L1617.96,427.26 L1618.95,427.38 L1619.94,427.50 L1620.92,427.62 L1621.91,427.75 L1622.90,427.88 L1623.89,428.01 L1624.88,428.15 L1625.87,428.29 L1626.85,428.44 L1627.84,428.59 L1628.83,428.74 L1629.82,428.90 L1630.81,429.06 L1631.80,429.22 L1632.78,429.39 L1633.77,429.56 L1634.76,429.74 L1635.75,429.92 L1636.74,430.10 L1637.73,430.29 L1638.72,430.48 L1639.71,430.67 L1640.70,430.86 L1641.69,431.06 L1642.67,431.26 L1643.66,431.46 L1644.65,431.66 L1645.64,431.87 L1646.63,432.08 L1647.62,432.28 L1648.61,432.49 L1649.60,432.70 L1650.59,432.91 L1651.58,433.13 L1652.57,433.34 L1653.56,433.55 L1654.55,433.76 L1655.54,433.98 L1656.53,434.19 L1657.52,434.40 L1658.51,434.61 L1659.50,434.82 L1660.49,435.03 L1661.48,435.24 L1662.48,435.45 L1663.47,435.65 L1664.46,435.86 L1665.45,436.06 L1666.44,436.26 L1667.43,436.46 L1668.42,436.65 L1669.41,436.84 L1670.40,437.03 L1671.39,437.22 L1672.39,437.40 L1673.38,437.58 L1674.37,437.76 L1675.36,437.93 L1676.35,438.10 L1677.34,438.26 L1678.33,438.42 L1679.33,438.57 L1680.32,438.72 L1681.31,438.87 L1682.30,439.01 L1683.29,439.15 L1684.29,439.28 L1685.28,439.40 L1686.27,439.52 L1687.26,439.64 L1688.25,439.75 L1689.25,439.85 L1690.24,439.95 L1691.23,440.05 L1692.22,440.14 L1693.22,440.23 L1694.21,440.31 L1695.20,440.39 L1696.19,440.47 L1697.19,440.54 L1698.18,440.61 L1699.17,440.67 L1700.16,440.73 L1701.16,440.79 L1702.15,440.84 L1703.14,440.89 L1704.14,440.93 L1705.13,440.97 L1706.12,441.01 L1707.12,441.05 L1708.11,441.08 L1709.10,441.11 L1710.10,441.13 L1711.09,441.16 L1712.08,441.18 L1713.08,441.19 L1714.07,441.21 L1715.06,441.22 L1716.06,441.23 L1717.05,441.23 L1718.05,441.24 L1719.04,441.24 L1720.03,441.24 L1721.03,441.24 L1722.02,441.24 L1723.02,441.23 L1724.01,441.22 L1725.00,441.21 L1726.00,441.20 L1726.99,441.19 L1727.99,441.17 L1728.98,441.16 L1729.98,441.14 L1730.97,441.12 L1731.96,441.10 L1732.96,441.08 L1733.95,441.06 L1734.95,441.03 L1735.94,441.01 L1736.94,440.98 L1737.93,440.96 L1738.93,440.93 L1739.92,440.90 L1740.92,440.88 L1741.91,440.85 L1742.91,440.82 L1743.90,440.79 L1744.90,440.76 L1745.89,440.73 L1746.89,440.71 L1747.88,440.68 L1748.88,440.65 L1749.87,440.62 L1750.87,440.59 L1751.87,440.56 L1752.86,440.54 L1753.86,440.51 L1754.85,440.48 L1755.85,440.46 L1756.84,440.43 L1757.84,440.41 L1758.83,440.39 L1759.83,440.36 L1760.83,440.34 L1761.82,440.32 L1762.82,440.30 L1763.81,440.29 L1764.81,440.27 L1765.81,440.26 L1766.80,440.24 L1767.80,440.23 L1768.79,440.22 L1769.79,440.21 L1770.79,440.20 L1771.78,440.20 L1772.78,440.19 L1773.78,440.19 L1774.77,440.18 L1775.77,440.18 L1776.76,440.18 L1777.76,440.17 L1778.76,440.17 L1779.75,440.17 L1780.75,440.18 L1781.75,440.18 L1782.74,440.18 L1783.74,440.18 L1784.74,440.19 L1785.73,440.19 L1786.73,440.20 L1787.73,440.20 L1788.72,440.21 L1789.72,440.22 L1790.72,440.22 L1791.72,440.23 L1792.71,440.24 L1793.71,440.25 L1794.71,440.26 L1795.70,440.27 L1796.70,440.28 L1797.70,440.29 L1798.70,440.30 L1799.69,440.31 L1800.69,440.32 L1801.69,440.33 L1802.68,440.34 L1803.68,440.35 L1804.68,440.36 L1805.68,440.37 L1806.67,440.38 L1807.67,440.39 L1808.67,440.40 L1809.67,440.41 L1810.66,440.42 L1811.66,440.43 L1812.66,440.44 L1813.66,440.45 L1814.65,440.46 L1815.65,440.47 L1816.65,440.48 L1817.65,440.49 L1818.65,440.50 L1819.64,440.50 L1820.64,440.51 L1821.64,440.52 L1822.64,440.52 L1823.64,440.53 L1824.63,440.54 L1825.63,440.54 L1826.63,440.55 L1827.63,440.55 L1828.63,440.55 L1829.62,440.56 L1830.62,440.56 L1831.62,440.57 L1832.62,440.57 L1833.62,440.57 L1834.61,440.57 L1835.61,440.57 L1836.61,440.58 L1837.61,440.58 L1838.61,440.58 L1839.61,440.58 L1840.60,440.58 L1841.60,440.58 L1842.60,440.58 L1843.60,440.58 L1844.60,440.58 L1845.60,440.58 L1846.60,440.58 L1847.59,440.57 L1848.59,440.57 L1849.59,440.57 L1850.59,440.57 L1851.59,440.57 L1852.59,440.56 L1853.59,440.56 L1854.58,440.56 L1855.58,440.55 L1856.58,440.55 L1857.58,440.55 L1858.58,440.54 L1859.58,440.54 L1860.58,440.53 L1861.57,440.53 L1862.57,440.52 L1863.57,440.52 L1864.57,440.52 L1865.57,440.51 L1866.57,440.50 L1867.57,440.50 L1868.57,440.49 L1869.57,440.49 L1870.56,440.48 L1871.56,440.48 L1872.56,440.47 L1873.56,440.46 L1874.56,440.46 L1875.56,440.45 L1876.56,440.45 L1877.56,440.44 L1878.56,440.43 L1879.56,440.43 L1880.56,440.42 L1881.55,440.41 L1882.55,440.41 L1883.55,440.40 L1884.55,440.39 L1885.55,440.38 L1886.55,440.38 L1887.55,440.37 L1888.55,440.36 L1889.55,440.36 L1890.55,440.35 L1891.55,440.34 L1892.55,440.34 L1893.54,440.33 L1894.54,440.32 L1895.54,440.31 L1896.54,440.31 L1897.54,440.30 L1898.54,440.29 L1899.54,440.29 L1900.54,440.28 L1901.54,440.27 L1902.54,440.26 L1903.54,440.26 L1904.54,440.25 L1905.54,440.24 L1906.54,440.24 L1907.54,440.23 L1908.53,440.22 L1909.53,440.22 L1910.53,440.21 L1911.53,440.20 L1912.53,440.20 L1913.53,440.19 L1914.53,440.19 L1915.53,440.18 L1916.53,440.17 L1917.53,440.17 L1918.53,440.16 L1919.53,440.16 L1920.53,440.15 L1921.53,440.15 L1922.53,440.14 L1923.53,440.14 L1924.53,440.13 L1925.53,440.13 L1926.53,440.12 L1927.52,440.12 L1928.52,440.12 L1929.52,440.11 L1930.52,440.11 L1931.52,440.11 L1932.52,440.10 L1933.52,440.10 L1934.52,440.10 L1935.52,440.09 L1936.52,440.09 L1937.52,440.09 L1938.52,440.09 L1939.52,440.09 L1940.52,440.08 L1941.52,440.08 L1942.52,440.08 L1943.52,440.08 L1944.52,440.08 L1945.52,440.08 L1946.52,440.08 L1947.51,440.08 L1948.51,440.08 L1949.51,440.08 L1950.51,440.09 L1951.51,440.09 L1952.51,440.09 L1953.51,440.09 L1954.51,440.10 L1955.51,440.10 L1956.51,440.10 L1957.51,440.11 L1958.51,440.11 L1959.51,440.11 L1960.51,440.12 L1961.51,440.12 L1962.51,440.13 L1963.51,440.13 L1964.51,440.14 L1965.51,440.15 L1966.51,440.15 L1967.50,440.16 L1968.50,440.17 L1969.50,440.18 L1970.50,440.19 L1971.50,440.20 L1972.50,440.20 L1973.50,440.21 L1974.50,440.22 L1975.50,440.24 L1976.50,440.25 L1977.50,440.26 L1978.50,440.27 L1979.50,440.28 L1980.50,440.30 L1981.50,440.31 L1982.50,440.32 L1983.49,440.34 L1984.49,440.35 L1985.49,440.37 L1986.49,440.38 L1987.49,440.40 L1988.49,440.42 L1989.49,440.43 L1990.49,440.45 L1991.49,440.47 L1992.49,440.49 L1993.49,440.51 L1994.49,440.53 L1995.49,440.55 L1996.48,440.57 L1997.48,440.59 L1998.48,440.61 L1999.48,440.64 L2000.48,440.66 L2001.48,440.68 L2002.48,440.71 L2003.48,440.73 L2004.48,440.76 L2005.48,440.78 L2006.48,440.81 L2007.47,440.84 L2008.47,440.87 L2009.47,440.89 L2010.47,440.92 L2011.47,440.95 L2012.47,440.98 L2013.47,441.01 L2014.47,441.05 L2015.47,441.08 L2016.47,441.11 L2017.46,441.15 L2018.46,441.18 L2019.46,441.22 L2020.46,441.25 L2021.46,441.29 L2022.46,441.32 L2023.46,441.36 L2024.46,441.40 L2025.45,441.44 L2026.45,441.48 L2027.45,441.52 L2028.45,441.56 L2029.45,441.60 L2030.45,441.65 L2031.45,441.69 L2032.44,441.73 L2033.44,441.78 L2034.44,441.82 L2035.44,441.87 L2036.44,441.92 L2037.44,441.97 L2038.44,442.01 L2039.43,442.06 L2040.43,442.11 L2041.43,442.17 L2042.43,442.22 L2043.43,442.27 L2044.43,442.32 L2045.42,442.38 L2046.42,442.43 L2047.42,442.49 L2048.42,442.55 L2049.42,442.60 L2050.42,442.66 L2051.41,442.72 L2052.41,442.78 L2053.41,442.84 L2054.41,442.90 L2055.41,442.97 L2056.40,443.03 L2057.40,443.09 L2058.40,443.16 L2059.40,443.22 L2060.40,443.29 L2061.39,443.36 L2062.39,443.43 L2063.39,443.50 L2064.39,443.57 L2065.38,443.64 L2066.38,443.71 L2067.38,443.79 L2068.38,443.86" stroke="#9467bd"/>
<path d="M1242.40,455.0 L2068.35,455.0" stroke="#7f7f7f" stroke-linecap="butt" stroke-dasharray="5.55 9.16"/>
<g><line x1="1242.40" y1="110.50" x2="1255.31" y2="110.50" stroke="#000" stroke-width="5.7" stroke-linecap="butt"/><line x1="1248.85" y1="109.20" x2="1248.85" y2="111.80" stroke="#000" stroke-width="5.7" stroke-linecap="butt"/><line x1="1242.40" y1="99.40" x2="1242.40" y2="121.60" stroke="#000" stroke-width="3.7" stroke-linecap="butt"/><line x1="1255.31" y1="99.40" x2="1255.31" y2="121.60" stroke="#000" stroke-width="3.7" stroke-linecap="butt"/><line x1="1237.75" y1="109.20" x2="1259.95" y2="109.20" stroke="#000" stroke-width="3.7" stroke-linecap="butt"/><line x1="1237.75" y1="111.80" x2="1259.95" y2="111.80" stroke="#000" stroke-width="3.7" stroke-linecap="butt"/><circle cx="1248.85" cy="110.50" r="7.5" fill="#000"/><line x1="1255.31" y1="142.00" x2="1268.21" y2="142.00" stroke="#000" stroke-width="5.7" stroke-linecap="butt"/><line x1="1261.76" y1="140.00" x2="1261.76" y2="144.00" stroke="#000" stroke-width="5.7" stroke-linecap="butt"/><line x1="1255.31" y1="130.90" x2="1255.31" y2="153.10" stroke="#000" stroke-width="3.7" stroke-linecap="butt"/><line x1="1268.21" y1="130.90" x2="1268.21" y2="153.10" stroke="#000" stroke-width="3.7" stroke-linecap="butt"/><line x1="1250.66" y1="140.00" x2="1272.86" y2="140.00" stroke="#000" stroke-width="3.7" stroke-linecap="butt"/><line x1="1250.66" y1="144.00" x2="1272.86" y2="144.00" stroke="#000" stroke-width="3.7" stroke-linecap="butt"/><circle cx="1261.76" cy="142.00" r="7.5" fill="#000"/><line x1="1268.21" y1="196.60" x2="1281.12" y2="196.60" stroke="#000" stroke-width="5.7" stroke-linecap="butt"/><line x1="1274.66" y1="193.10" x2="1274.66" y2="200.10" stroke="#000" stroke-width="5.7" stroke-linecap="butt"/><line x1="1268.21" y1="185.50" x2="1268.21" y2="207.70" stroke="#000" stroke-width="3.7" stroke-linecap="butt"/><line x1="1281.12" y1="185.50" x2="1281.12" y2="207.70" stroke="#000" stroke-width="3.7" stroke-linecap="butt"/><line x1="1263.56" y1="193.10" x2="1285.76" y2="193.10" stroke="#000" stroke-width="3.7" stroke-linecap="butt"/><line x1="1263.56" y1="200.10" x2="1285.76" y2="200.10" stroke="#000" stroke-width="3.7" stroke-linecap="butt"/><circle cx="1274.66" cy="196.60" r="7.5" fill="#000"/><line x1="1281.12" y1="239.90" x2="1294.02" y2="239.90" stroke="#000" stroke-width="5.7" stroke-linecap="butt"/><line x1="1287.57" y1="235.30" x2="1287.57" y2="244.50" stroke="#000" stroke-width="5.7" stroke-linecap="butt"/><line x1="1281.12" y1="228.80" x2="1281.12" y2="251.00" stroke="#000" stroke-width="3.7" stroke-linecap="butt"/><line x1="1294.02" y1="228.80" x2="1294.02" y2="251.00" stroke="#000" stroke-width="3.7" stroke-linecap="butt"/><line x1="1276.47" y1="235.30" x2="1298.67" y2="235.30" stroke="#000" stroke-width="3.7" stroke-linecap="butt"/><line x1="1276.47" y1="244.50" x2="1298.67" y2="244.50" stroke="#000" stroke-width="3.7" stroke-linecap="butt"/><circle cx="1287.57" cy="239.90" r="7.5" fill="#000"/><line x1="1294.02" y1="284.50" x2="1306.93" y2="284.50" stroke="#000" stroke-width="5.7" stroke-linecap="butt"/><line x1="1300.47" y1="278.85" x2="1300.47" y2="290.15" stroke="#000" stroke-width="5.7" stroke-linecap="butt"/><line x1="1294.02" y1="273.40" x2="1294.02" y2="295.60" stroke="#000" stroke-width="3.7" stroke-linecap="butt"/><line x1="1306.93" y1="273.40" x2="1306.93" y2="295.60" stroke="#000" stroke-width="3.7" stroke-linecap="butt"/><line x1="1289.37" y1="278.85" x2="1311.57" y2="278.85" stroke="#000" stroke-width="3.7" stroke-linecap="butt"/><line x1="1289.37" y1="290.15" x2="1311.57" y2="290.15" stroke="#000" stroke-width="3.7" stroke-linecap="butt"/><circle cx="1300.47" cy="284.50" r="7.5" fill="#000"/><line x1="1306.93" y1="307.00" x2="1319.83" y2="307.00" stroke="#000" stroke-width="5.7" stroke-linecap="butt"/><line x1="1313.38" y1="301.35" x2="1313.38" y2="312.65" stroke="#000" stroke-width="5.7" stroke-linecap="butt"/><line x1="1306.93" y1="295.90" x2="1306.93" y2="318.10" stroke="#000" stroke-width="3.7" stroke-linecap="butt"/><line x1="1319.83" y1="295.90" x2="1319.83" y2="318.10" stroke="#000" stroke-width="3.7" stroke-linecap="butt"/><line x1="1302.28" y1="301.35" x2="1324.48" y2="301.35" stroke="#000" stroke-width="3.7" stroke-linecap="butt"/><line x1="1302.28" y1="312.65" x2="1324.48" y2="312.65" stroke="#000" stroke-width="3.7" stroke-linecap="butt"/><circle cx="1313.38" cy="307.00" r="7.5" fill="#000"/><line x1="1319.83" y1="360.50" x2="1345.64" y2="360.50" stroke="#000" stroke-width="5.7" stroke-linecap="butt"/><line x1="1332.74" y1="350.25" x2="1332.74" y2="370.75" stroke="#000" stroke-width="5.7" stroke-linecap="butt"/><line x1="1319.83" y1="349.40" x2="1319.83" y2="371.60" stroke="#000" stroke-width="3.7" stroke-linecap="butt"/><line x1="1345.64" y1="349.40" x2="1345.64" y2="371.60" stroke="#000" stroke-width="3.7" stroke-linecap="butt"/><line x1="1321.64" y1="350.25" x2="1343.84" y2="350.25" stroke="#000" stroke-width="3.7" stroke-linecap="butt"/><line x1="1321.64" y1="370.75" x2="1343.84" y2="370.75" stroke="#000" stroke-width="3.7" stroke-linecap="butt"/><circle cx="1332.74" cy="360.50" r="7.5" fill="#000"/><line x1="1345.64" y1="404.00" x2="1397.27" y2="404.00" stroke="#000" stroke-width="5.7" stroke-linecap="butt"/><line x1="1371.45" y1="389.80" x2="1371.45" y2="422.70" stroke="#000" stroke-width="5.7" stroke-linecap="butt"/><line x1="1345.64" y1="392.90" x2="1345.64" y2="415.10" stroke="#000" stroke-width="3.7" stroke-linecap="butt"/><line x1="1397.27" y1="392.90" x2="1397.27" y2="415.10" stroke="#000" stroke-width="3.7" stroke-linecap="butt"/><line x1="1360.35" y1="389.80" x2="1382.55" y2="389.80" stroke="#000" stroke-width="3.7" stroke-linecap="butt"/><line x1="1360.35" y1="422.70" x2="1382.55" y2="422.70" stroke="#000" stroke-width="3.7" stroke-linecap="butt"/><circle cx="1371.45" cy="404.00" r="7.5" fill="#000"/><line x1="1397.27" y1="415.60" x2="1448.89" y2="415.60" stroke="#000" stroke-width="5.7" stroke-linecap="butt"/><line x1="1423.08" y1="401.40" x2="1423.08" y2="434.10" stroke="#000" stroke-width="5.7" stroke-linecap="butt"/><line x1="1397.27" y1="404.50" x2="1397.27" y2="426.70" stroke="#000" stroke-width="3.7" stroke-linecap="butt"/><line x1="1448.89" y1="404.50" x2="1448.89" y2="426.70" stroke="#000" stroke-width="3.7" stroke-linecap="butt"/><line x1="1411.98" y1="401.40" x2="1434.18" y2="401.40" stroke="#000" stroke-width="3.7" stroke-linecap="butt"/><line x1="1411.98" y1="434.10" x2="1434.18" y2="434.10" stroke="#000" stroke-width="3.7" stroke-linecap="butt"/><circle cx="1423.08" cy="415.60" r="7.5" fill="#000"/><line x1="1448.89" y1="418.60" x2="1655.38" y2="418.60" stroke="#000" stroke-width="5.7" stroke-linecap="butt"/><line x1="1552.13" y1="409.30" x2="1552.13" y2="430.80" stroke="#000" stroke-width="5.7" stroke-linecap="butt"/><line x1="1448.89" y1="407.50" x2="1448.89" y2="429.70" stroke="#000" stroke-width="3.7" stroke-linecap="butt"/><line x1="1655.38" y1="407.50" x2="1655.38" y2="429.70" stroke="#000" stroke-width="3.7" stroke-linecap="butt"/><line x1="1541.03" y1="409.30" x2="1563.23" y2="409.30" stroke="#000" stroke-width="3.7" stroke-linecap="butt"/><line x1="1541.03" y1="430.80" x2="1563.23" y2="430.80" stroke="#000" stroke-width="3.7" stroke-linecap="butt"/><circle cx="1552.13" cy="418.60" r="7.5" fill="#000"/><line x1="1655.38" y1="440.00" x2="2068.35" y2="440.00" stroke="#000" stroke-width="5.7" stroke-linecap="butt"/><line x1="1861.86" y1="428.75" x2="1861.86" y2="453.75" stroke="#000" stroke-width="5.7" stroke-linecap="butt"/><line x1="1655.38" y1="428.90" x2="1655.38" y2="451.10" stroke="#000" stroke-width="3.7" stroke-linecap="butt"/><line x1="2068.35" y1="428.90" x2="2068.35" y2="451.10" stroke="#000" stroke-width="3.7" stroke-linecap="butt"/><line x1="1850.76" y1="428.75" x2="1872.96" y2="428.75" stroke="#000" stroke-width="3.7" stroke-linecap="butt"/><line x1="1850.76" y1="453.75" x2="1872.96" y2="453.75" stroke="#000" stroke-width="3.7" stroke-linecap="butt"/><circle cx="1861.86" cy="440.00" r="7.5" fill="#000"/></g>
</g>
<rect x="1242.40" y="99.75" width="825.95" height="536.95" fill="none" stroke="#000" stroke-width="2.9" stroke-linejoin="miter"/>
<g><line x1="1242.40" y1="636.70" x2="1242.40" y2="649.65" stroke="#000" stroke-width="2.96" stroke-linecap="butt"/><line x1="1371.45" y1="636.70" x2="1371.45" y2="649.65" stroke="#000" stroke-width="2.96" stroke-linecap="butt"/><line x1="1500.51" y1="636.70" x2="1500.51" y2="649.65" stroke="#000" stroke-width="2.96" stroke-linecap="butt"/><line x1="1629.56" y1="636.70" x2="1629.56" y2="649.65" stroke="#000" stroke-width="2.96" stroke-linecap="butt"/><line x1="1758.62" y1="636.70" x2="1758.62" y2="649.65" stroke="#000" stroke-width="2.96" stroke-linecap="butt"/><line x1="1887.67" y1="636.70" x2="1887.67" y2="649.65" stroke="#000" stroke-width="2.96" stroke-linecap="butt"/><line x1="2016.73" y1="636.70" x2="2016.73" y2="649.65" stroke="#000" stroke-width="2.96" stroke-linecap="butt"/><line x1="1242.40" y1="99.75" x2="1242.40" y2="86.80" stroke="#000" stroke-width="2.96" stroke-linecap="butt"/><line x1="1349.21" y1="99.75" x2="1349.21" y2="86.80" stroke="#000" stroke-width="2.96" stroke-linecap="butt"/><line x1="1456.01" y1="99.75" x2="1456.01" y2="86.80" stroke="#000" stroke-width="2.96" stroke-linecap="butt"/><line x1="1562.82" y1="99.75" x2="1562.82" y2="86.80" stroke="#000" stroke-width="2.96" stroke-linecap="butt"/><line x1="1669.62" y1="99.75" x2="1669.62" y2="86.80" stroke="#000" stroke-width="2.96" stroke-linecap="butt"/><line x1="1776.43" y1="99.75" x2="1776.43" y2="86.80" stroke="#000" stroke-width="2.96" stroke-linecap="butt"/><line x1="1883.23" y1="99.75" x2="1883.23" y2="86.80" stroke="#000" stroke-width="2.96" stroke-linecap="butt"/><line x1="1990.04" y1="99.75" x2="1990.04" y2="86.80" stroke="#000" stroke-width="2.96" stroke-linecap="butt"/><line x1="1242.40" y1="636.70" x2="1229.45" y2="636.70" stroke="#000" stroke-width="2.96" stroke-linecap="butt"/><line x1="1242.40" y1="516.79" x2="1229.45" y2="516.79" stroke="#000" stroke-width="2.96" stroke-linecap="butt"/><line x1="1242.40" y1="396.88" x2="1229.45" y2="396.88" stroke="#000" stroke-width="2.96" stroke-linecap="butt"/><line x1="1242.40" y1="276.96" x2="1229.45" y2="276.96" stroke="#000" stroke-width="2.96" stroke-linecap="butt"/><line x1="1242.40" y1="157.05" x2="1229.45" y2="157.05" stroke="#000" stroke-width="2.96" stroke-linecap="butt"/><line x1="1242.40" y1="600.60" x2="1235.00" y2="600.60" stroke="#000" stroke-width="2.22" stroke-linecap="butt"/><line x1="1242.40" y1="579.49" x2="1235.00" y2="579.49" stroke="#000" stroke-width="2.22" stroke-linecap="butt"/><line x1="1242.40" y1="564.51" x2="1235.00" y2="564.51" stroke="#000" stroke-width="2.22" stroke-linecap="butt"/><line x1="1242.40" y1="552.88" x2="1235.00" y2="552.88" stroke="#000" stroke-width="2.22" stroke-linecap="butt"/><line x1="1242.40" y1="543.39" x2="1235.00" y2="543.39" stroke="#000" stroke-width="2.22" stroke-linecap="butt"/><line x1="1242.40" y1="535.36" x2="1235.00" y2="535.36" stroke="#000" stroke-width="2.22" stroke-linecap="butt"/><line x1="1242.40" y1="528.41" x2="1235.00" y2="528.41" stroke="#000" stroke-width="2.22" stroke-linecap="butt"/><line x1="1242.40" y1="522.27" x2="1235.00" y2="522.27" stroke="#000" stroke-width="2.22" stroke-linecap="butt"/><line x1="1242.40" y1="480.69" x2="1235.00" y2="480.69" stroke="#000" stroke-width="2.22" stroke-linecap="butt"/><line x1="1242.40" y1="459.57" x2="1235.00" y2="459.57" stroke="#000" stroke-width="2.22" stroke-linecap="butt"/><line x1="1242.40" y1="444.59" x2="1235.00" y2="444.59" stroke="#000" stroke-width="2.22" stroke-linecap="butt"/><line x1="1242.40" y1="432.97" x2="1235.00" y2="432.97" stroke="#000" stroke-width="2.22" stroke-linecap="butt"/><line x1="1242.40" y1="423.48" x2="1235.00" y2="423.48" stroke="#000" stroke-width="2.22" stroke-linecap="butt"/><line x1="1242.40" y1="415.45" x2="1235.00" y2="415.45" stroke="#000" stroke-width="2.22" stroke-linecap="butt"/><line x1="1242.40" y1="408.50" x2="1235.00" y2="408.50" stroke="#000" stroke-width="2.22" stroke-linecap="butt"/><line x1="1242.40" y1="402.36" x2="1235.00" y2="402.36" stroke="#000" stroke-width="2.22" stroke-linecap="butt"/><line x1="1242.40" y1="360.78" x2="1235.00" y2="360.78" stroke="#000" stroke-width="2.22" stroke-linecap="butt"/><line x1="1242.40" y1="339.66" x2="1235.00" y2="339.66" stroke="#000" stroke-width="2.22" stroke-linecap="butt"/><line x1="1242.40" y1="324.68" x2="1235.00" y2="324.68" stroke="#000" stroke-width="2.22" stroke-linecap="butt"/><line x1="1242.40" y1="313.06" x2="1235.00" y2="313.06" stroke="#000" stroke-width="2.22" stroke-linecap="butt"/><line x1="1242.40" y1="303.56" x2="1235.00" y2="303.56" stroke="#000" stroke-width="2.22" stroke-linecap="butt"/><line x1="1242.40" y1="295.54" x2="1235.00" y2="295.54" stroke="#000" stroke-width="2.22" stroke-linecap="butt"/><line x1="1242.40" y1="288.58" x2="1235.00" y2="288.58" stroke="#000" stroke-width="2.22" stroke-linecap="butt"/><line x1="1242.40" y1="282.45" x2="1235.00" y2="282.45" stroke="#000" stroke-width="2.22" stroke-linecap="butt"/><line x1="1242.40" y1="240.87" x2="1235.00" y2="240.87" stroke="#000" stroke-width="2.22" stroke-linecap="butt"/><line x1="1242.40" y1="219.75" x2="1235.00" y2="219.75" stroke="#000" stroke-width="2.22" stroke-linecap="butt"/><line x1="1242.40" y1="204.77" x2="1235.00" y2="204.77" stroke="#000" stroke-width="2.22" stroke-linecap="butt"/><line x1="1242.40" y1="193.15" x2="1235.00" y2="193.15" stroke="#000" stroke-width="2.22" stroke-linecap="butt"/><line x1="1242.40" y1="183.65" x2="1235.00" y2="183.65" stroke="#000" stroke-width="2.22" stroke-linecap="butt"/><line x1="1242.40" y1="175.62" x2="1235.00" y2="175.62" stroke="#000" stroke-width="2.22" stroke-linecap="butt"/><line x1="1242.40" y1="168.67" x2="1235.00" y2="168.67" stroke="#000" stroke-width="2.22" stroke-linecap="butt"/><line x1="1242.40" y1="162.54" x2="1235.00" y2="162.54" stroke="#000" stroke-width="2.22" stroke-linecap="butt"/><line x1="1242.40" y1="120.95" x2="1235.00" y2="120.95" stroke="#000" stroke-width="2.22" stroke-linecap="butt"/><line x1="1242.40" y1="99.84" x2="1235.00" y2="99.84" stroke="#000" stroke-width="2.22" stroke-linecap="butt"/></g>
<g><text x="1242.40" y="688.50" text-anchor="middle" font-size="37.0">0</text><text x="1371.45" y="688.50" text-anchor="middle" font-size="37.0">50</text><text x="1500.51" y="688.50" text-anchor="middle" font-size="37.0">100</text><text x="1629.56" y="688.50" text-anchor="middle" font-size="37.0">150</text><text x="1758.62" y="688.50" text-anchor="middle" font-size="37.0">200</text><text x="1887.67" y="688.50" text-anchor="middle" font-size="37.0">250</text><text x="2016.73" y="688.50" text-anchor="middle" font-size="37.0">300</text><text x="1242.40" y="66.60" text-anchor="middle" font-size="37.0">0</text><text x="1349.21" y="66.60" text-anchor="middle" font-size="37.0">5</text><text x="1456.01" y="66.60" text-anchor="middle" font-size="37.0">10</text><text x="1562.82" y="66.60" text-anchor="middle" font-size="37.0">15</text><text x="1669.62" y="66.60" text-anchor="middle" font-size="37.0">20</text><text x="1776.43" y="66.60" text-anchor="middle" font-size="37.0">25</text><text x="1883.23" y="66.60" text-anchor="middle" font-size="37.0">30</text><text x="1990.04" y="66.60" text-anchor="middle" font-size="37.0">35</text><text y="648.95" font-size="37.0"><tspan x="1131.75">10</tspan><tspan x="1168.05" y="639.30" font-size="31.9">−</tspan><tspan x="1186.75" y="635.75" font-size="25.90">21</tspan></text><text y="529.04" font-size="37.0"><tspan x="1131.75">10</tspan><tspan x="1168.05" y="519.39" font-size="31.9">−</tspan><tspan x="1186.75" y="515.84" font-size="25.90">20</tspan></text><text y="409.12" font-size="37.0"><tspan x="1131.75">10</tspan><tspan x="1168.05" y="399.48" font-size="31.9">−</tspan><tspan x="1186.75" y="395.93" font-size="25.90">19</tspan></text><text y="289.21" font-size="37.0"><tspan x="1131.75">10</tspan><tspan x="1168.05" y="279.56" font-size="31.9">−</tspan><tspan x="1186.75" y="276.01" font-size="25.90">18</tspan></text><text y="169.30" font-size="37.0"><tspan x="1131.75">10</tspan><tspan x="1168.05" y="159.65" font-size="31.9">−</tspan><tspan x="1186.75" y="156.10" font-size="25.90">17</tspan></text></g>
<text x="1654.38" y="736.10" text-anchor="middle" font-size="37.0">r [kpc]</text>
<text y="24.8" font-size="37.0"><tspan x="1473.55" font-style="italic">r</tspan><tspan x="1497.65">[arcsec] at</tspan><tspan x="1660.45" font-style="italic">z</tspan><tspan x="1675.05" y="30.8" font-size="25.90">median</tspan><tspan x="1787.85" y="24.8">2.5</tspan></text>
<text transform="translate(1756.25,29.3) scale(1.32,1)" font-size="37.0">=</text>
<text transform="translate(1103.30,0) rotate(-90)" font-size="37.0"><tspan x="-672" y="0">surface brightness [</tspan><tspan x="-381.4" y="0">erg</tspan><tspan x="-330.3" y="0">s</tspan><tspan x="-313.7" y="-9.2" font-size="31.9">−</tspan><tspan x="-298" y="-13.2" font-size="25.90">1</tspan><tspan x="-282.5" y="0">cm</tspan><tspan x="-237" y="-9.2" font-size="31.9">−</tspan><tspan x="-219" y="-13.2" font-size="25.90">2</tspan><tspan x="-205" y="0">arcsec</tspan><tspan x="-112.4" y="-9.2" font-size="31.9">−</tspan><tspan x="-94.6" y="-13.2" font-size="25.90">2</tspan><tspan x="-79.1" y="0">]</tspan></text>
<g><rect x="359.15" y="118.20" width="626.45" height="167.20" rx="7.4" ry="7.4" fill="#ffffff" fill-opacity="0.8" stroke="#cccccc" stroke-opacity="0.8" stroke-width="3.7"/><line x1="373.80" y1="145.90" x2="447.80" y2="145.90" stroke="#1f77b4" stroke-width="5.7" stroke-linecap="square"/><text x="477.40" y="159.00" text-anchor="start" font-size="37.0">SFR</text><line x1="573.80" y1="145.90" x2="647.80" y2="145.90" stroke="#9467bd" stroke-width="5.7" stroke-linecap="square"/><text x="677.40" y="159.00" text-anchor="start" font-size="37.0">total</text><line x1="373.80" y1="198.30" x2="447.80" y2="198.30" stroke="#ff7f0e" stroke-width="5.7" stroke-linecap="square"/><text x="477.40" y="211.40" text-anchor="start" font-size="37.0">exc</text><line x1="573.80" y1="198.30" x2="647.80" y2="198.30" stroke="#7f7f7f" stroke-width="5.7" stroke-linecap="butt" stroke-dasharray="5.55 9.16"/><text x="677.40" y="211.40" text-anchor="start" font-size="37.0">background (sim.)</text><line x1="373.80" y1="250.70" x2="447.80" y2="250.70" stroke="#2ca02c" stroke-width="5.7" stroke-linecap="square"/><text x="477.40" y="263.80" text-anchor="start" font-size="37.0">recB</text><line x1="592.30" y1="250.70" x2="629.30" y2="250.70" stroke="#000" stroke-width="5.7" stroke-linecap="butt"/><line x1="610.80" y1="232.20" x2="610.80" y2="269.20" stroke="#000" stroke-width="5.7" stroke-linecap="butt"/><line x1="592.30" y1="239.60" x2="592.30" y2="261.80" stroke="#000" stroke-width="3.7" stroke-linecap="butt"/><line x1="629.30" y1="239.60" x2="629.30" y2="261.80" stroke="#000" stroke-width="3.7" stroke-linecap="butt"/><line x1="599.70" y1="232.20" x2="621.90" y2="232.20" stroke="#000" stroke-width="3.7" stroke-linecap="butt"/><line x1="599.70" y1="269.20" x2="621.90" y2="269.20" stroke="#000" stroke-width="3.7" stroke-linecap="butt"/><circle cx="610.80" cy="250.70" r="7.5" fill="#000"/><text x="677.40" y="263.80" text-anchor="start" font-size="37.0">LAEs in HDR 2.1.3</text></g>
<g><rect x="1352.90" y="118.30" width="696.80" height="219.00" rx="7.4" ry="7.4" fill="#ffffff" fill-opacity="0.8" stroke="#cccccc" stroke-opacity="0.8" stroke-width="3.7"/><line x1="1367.00" y1="145.90" x2="1441.00" y2="145.90" stroke="#1f77b4" stroke-width="5.7" stroke-linecap="square"/><text x="1470.60" y="159.00" text-anchor="start" font-size="37.0">central</text><line x1="1636.30" y1="145.90" x2="1710.30" y2="145.90" stroke="#17becf" stroke-width="5.7" stroke-linecap="butt" stroke-dasharray="35.52 8.88 5.55 8.88"/><text x="1739.90" y="159.00" text-anchor="start" font-size="37.0">central <tspan font-size="43" dx="0.8" dy="5.2">+</tspan><tspan dx="0.8" dy="-5.2"> otherhalo</tspan></text><line x1="1367.00" y1="198.30" x2="1441.00" y2="198.30" stroke="#ff7f0e" stroke-width="5.7" stroke-linecap="square"/><text x="1470.60" y="211.40" text-anchor="start" font-size="37.0">outerhalo</text><line x1="1636.30" y1="198.30" x2="1710.30" y2="198.30" stroke="#9467bd" stroke-width="5.7" stroke-linecap="square"/><text x="1739.90" y="211.40" text-anchor="start" font-size="37.0">total</text><line x1="1367.00" y1="250.70" x2="1441.00" y2="250.70" stroke="#2ca02c" stroke-width="5.7" stroke-linecap="square"/><text x="1470.60" y="263.80" text-anchor="start" font-size="37.0">otherhalo</text><line x1="1636.30" y1="250.70" x2="1710.30" y2="250.70" stroke="#7f7f7f" stroke-width="5.7" stroke-linecap="butt" stroke-dasharray="5.55 9.16"/><text x="1739.90" y="263.80" text-anchor="start" font-size="37.0">background (sim.)</text><line x1="1367.00" y1="303.05" x2="1441.00" y2="303.05" stroke="#d62728" stroke-width="5.7" stroke-linecap="square"/><text x="1470.60" y="316.15" text-anchor="start" font-size="37.0">IGM</text><line x1="1654.80" y1="303.05" x2="1691.80" y2="303.05" stroke="#000" stroke-width="5.7" stroke-linecap="butt"/><line x1="1673.30" y1="284.55" x2="1673.30" y2="321.55" stroke="#000" stroke-width="5.7" stroke-linecap="butt"/><line x1="1654.80" y1="291.95" x2="1654.80" y2="314.15" stroke="#000" stroke-width="3.7" stroke-linecap="butt"/><line x1="1691.80" y1="291.95" x2="1691.80" y2="314.15" stroke="#000" stroke-width="3.7" stroke-linecap="butt"/><line x1="1662.20" y1="284.55" x2="1684.40" y2="284.55" stroke="#000" stroke-width="3.7" stroke-linecap="butt"/><line x1="1662.20" y1="321.55" x2="1684.40" y2="321.55" stroke="#000" stroke-width="3.7" stroke-linecap="butt"/><circle cx="1673.30" cy="303.05" r="7.5" fill="#000"/><text x="1739.90" y="316.15" text-anchor="start" font-size="37.0">LAEs in HDR 2.1.3</text></g>
</svg>
</body></html>
